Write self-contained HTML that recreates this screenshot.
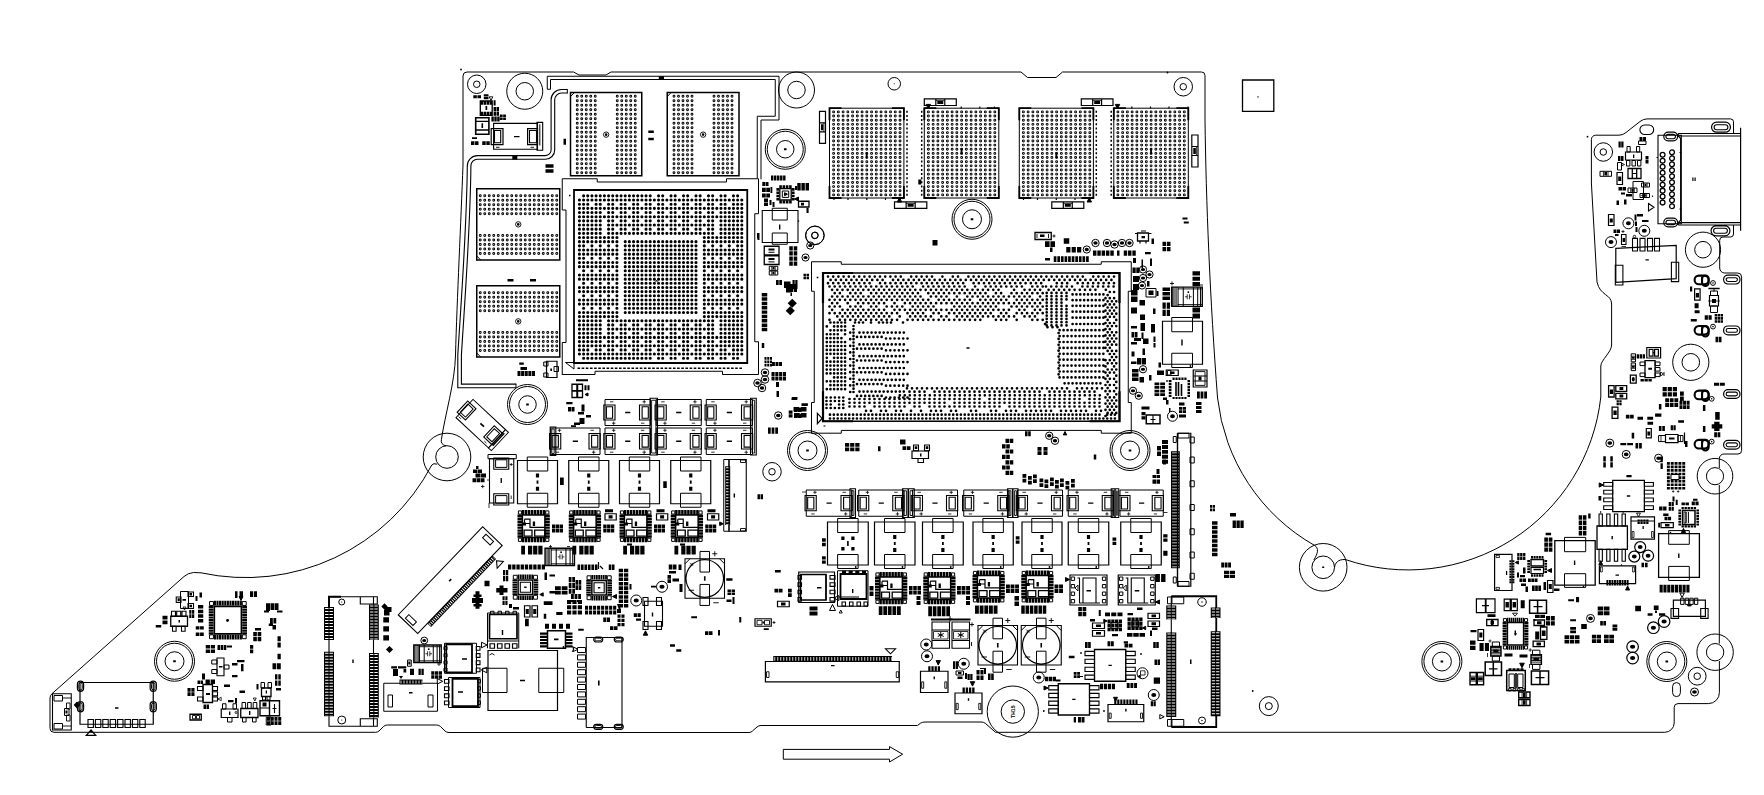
<!DOCTYPE html>
<html><head><meta charset="utf-8"><title>Board view</title>
<style>html,body{margin:0;padding:0;background:#fff;overflow:hidden}svg{display:block}</style>
</head><body>
<svg width="1764" height="795" viewBox="0 0 1764 795" font-family="Liberation Sans, sans-serif">
<path d="M567.3 91.25H561.5A8.6 8.6 0 0 0 552.9 99.85V150A7.4 7.4 0 0 1 545.5 157.4H477.5A8.4 8.4 0 0 0 469.1 165.8C468.5 230 463 300 459.6 355V385.9H516" fill="none" stroke="#000" stroke-width="4.7"/>
<path d="M567.3 91.25H561.5A8.6 8.6 0 0 0 552.9 99.85V150A7.4 7.4 0 0 1 545.5 157.4H477.5A8.4 8.4 0 0 0 469.1 165.8C468.5 230 463 300 459.6 355V385.9H516" fill="none" stroke="#fff" stroke-width="2.5"/>
<path d="M467 72H573.5L579 75H606L611 72H1021L1027.5 77.5H1056L1062.5 72H1201.5A3.5 3.5 0 0 1 1205 75.5V120C1206 200 1210 300 1217.56 398A193.9 193.9 0 0 0 1314.7 545.5M1345.3 559.5A193.9 193.9 0 0 0 1600.8 397V366C1601 360 1611.6 352 1611.6 345V304C1611.6 294 1600 296 1597 282L1591.4 183V139.5A4.3 4.3 0 0 1 1595.7 135.2H1619Q1623 135.2 1626 132.5L1640 121.5Q1643.5 118.9 1647 118.9H1730.5A3 3 0 0 1 1733.5 121.9V133M1733.5 225V234A3 3 0 0 1 1730.5 237H1723A3.3 3.3 0 0 0 1719.7 240.3V268A5 5 0 0 0 1724.7 273H1737.6A4 4 0 0 1 1741.6 277V450.5A3.5 3.5 0 0 1 1738 454H1724A4.7 4.7 0 0 0 1719.3 458.7V468M1719.3 485V643.5M1719.4 661V692.5A11 11 0 0 1 1708.4 703.6H1678A3.8 3.8 0 0 0 1674.2 707.4V723A9.5 9.5 0 0 1 1664.7 732.3H995.5M995.5 732.3L985.3 723.3Q983.5 722 981 722H925Q922.5 722 920.5 723.2L917.5 725.5H761Q758.75 725.5 757 727L752.5 731Q751 732.5 749 732.5H449Q446.5 732.5 445 731L440.5 726.5Q438.75 725 436.5 725H387.5Q385 725 383.5 726.5L379 731Q377.5 732.3 375.5 732.3H54A4 4 0 0 1 50 728.3V698Q50 695.5 52 693.7L184 576.5Q188 573 193.5 572.5L201 572.82A210.3 210.3 0 0 0 431.8 465M441.4 439.5C445 415 455 382 455.5 355C457 300 461 220 463 165V76A4 4 0 0 1 467 72M423.2 457a23.8 23.8 0 1 1 47.6 0a23.8 23.8 0 1 1 -47.6 0ZM435.7 457a11.3 11.3 0 1 1 22.6 0a11.3 11.3 0 1 1 -22.6 0ZM441.4 439.5Q440.3 444.5 446 445.8M437.2 464.2Q433.5 462.8 431.8 465M1299.4 567.3a23.8 23.8 0 1 1 47.6 0a23.8 23.8 0 1 1 -47.6 0ZM1311.9 567.3a11.3 11.3 0 1 1 22.6 0a11.3 11.3 0 1 1 -22.6 0ZM1314.7 545.5C1319 548 1318 553.5 1313.8 560M1334.5 567.6C1335 563 1338 559.2 1345.3 559.5M1697.2 476.2a17.8 17.8 0 1 1 35.6 0a17.8 17.8 0 1 1 -35.6 0ZM1706.4 476.2a8.6 8.6 0 1 1 17.2 0a8.6 8.6 0 1 1 -17.2 0ZM1696.9 652.2a18.2 18.2 0 1 1 36.4 0a18.2 18.2 0 1 1 -36.4 0ZM1706.4 652.2a8.7 8.7 0 1 1 17.4 0a8.7 8.7 0 1 1 -17.4 0ZM987.2 711.6a25.6 25.6 0 1 1 51.2 0a25.6 25.6 0 1 1 -51.2 0ZM1001.1 711.6a11.7 11.7 0 1 1 23.4 0a11.7 11.7 0 1 1 -23.4 0ZM783.3 749.4L889.5 749.4L889.5 746.6L902.6 754.2L889.5 762L889.5 759.2L783.3 759.2ZM467.5 84.25a9.25 9.25 0 1 1 18.5 0a9.25 9.25 0 1 1 -18.5 0ZM473.5 84.25a3.25 3.25 0 1 1 6.5 0a3.25 3.25 0 1 1 -6.5 0ZM1174 86.75a9.25 9.25 0 1 1 18.5 0a9.25 9.25 0 1 1 -18.5 0ZM1180 86.75a3.25 3.25 0 1 1 6.5 0a3.25 3.25 0 1 1 -6.5 0ZM805.75 235.25a9.25 9.25 0 1 1 18.5 0a9.25 9.25 0 1 1 -18.5 0ZM811.75 235.25a3.25 3.25 0 1 1 6.5 0a3.25 3.25 0 1 1 -6.5 0ZM506.75 91.25a18 18 0 1 1 36 0a18 18 0 1 1 -36 0ZM516 91.25a8.75 8.75 0 1 1 17.5 0a8.75 8.75 0 1 1 -17.5 0ZM778.5 90a18 18 0 1 1 36 0a18 18 0 1 1 -36 0ZM787.75 90a8.75 8.75 0 1 1 17.5 0a8.75 8.75 0 1 1 -17.5 0ZM765.25 149.25a20 20 0 1 1 40 0a20 20 0 1 1 -40 0ZM767.25 149.25a18 18 0 1 1 36 0a18 18 0 1 1 -36 0ZM776.5 149.25a8.75 8.75 0 1 1 17.5 0a8.75 8.75 0 1 1 -17.5 0ZM952 219.25a20 20 0 1 1 40 0a20 20 0 1 1 -40 0ZM954 219.25a18 18 0 1 1 36 0a18 18 0 1 1 -36 0ZM962.5 219.25a9.5 9.5 0 1 1 19 0a9.5 9.5 0 1 1 -19 0ZM507.5 404.5a20 20 0 1 1 40 0a20 20 0 1 1 -40 0ZM509.5 404.5a18 18 0 1 1 36 0a18 18 0 1 1 -36 0ZM518.75 404.5a8.75 8.75 0 1 1 17.5 0a8.75 8.75 0 1 1 -17.5 0ZM787.5 450.5a20 20 0 1 1 40 0a20 20 0 1 1 -40 0ZM789.5 450.5a18 18 0 1 1 36 0a18 18 0 1 1 -36 0ZM798 450.5a9.5 9.5 0 1 1 19 0a9.5 9.5 0 1 1 -19 0ZM1110 450.5a20 20 0 1 1 40 0a20 20 0 1 1 -40 0ZM1112 450.5a18 18 0 1 1 36 0a18 18 0 1 1 -36 0ZM1120.5 450.5a9.5 9.5 0 1 1 19 0a9.5 9.5 0 1 1 -19 0ZM154.5 661.25a20 20 0 1 1 40 0a20 20 0 1 1 -40 0ZM156.5 661.25a18 18 0 1 1 36 0a18 18 0 1 1 -36 0ZM165 661.25a9.5 9.5 0 1 1 19 0a9.5 9.5 0 1 1 -19 0ZM1421.9 661.5a20 20 0 1 1 40 0a20 20 0 1 1 -40 0ZM1423.9 661.5a18 18 0 1 1 36 0a18 18 0 1 1 -36 0ZM1432.4 661.5a9.5 9.5 0 1 1 19 0a9.5 9.5 0 1 1 -19 0ZM1646.8 661.5a20 20 0 1 1 40 0a20 20 0 1 1 -40 0ZM1648.8 661.5a18 18 0 1 1 36 0a18 18 0 1 1 -36 0ZM1657.3 661.5a9.5 9.5 0 1 1 19 0a9.5 9.5 0 1 1 -19 0ZM762.75 471.75a9.25 9.25 0 1 1 18.5 0a9.25 9.25 0 1 1 -18.5 0ZM768.75 471.75a3.25 3.25 0 1 1 6.5 0a3.25 3.25 0 1 1 -6.5 0ZM1259.3 706.1a9.5 9.5 0 1 1 19 0a9.5 9.5 0 1 1 -19 0ZM1265.3 706.1a3.5 3.5 0 1 1 7 0a3.5 3.5 0 1 1 -7 0ZM1594.05 152a9.25 9.25 0 1 1 18.5 0a9.25 9.25 0 1 1 -18.5 0ZM1600.05 152a3.25 3.25 0 1 1 6.5 0a3.25 3.25 0 1 1 -6.5 0ZM1688.3 676.2a8.9 8.9 0 1 1 17.8 0a8.9 8.9 0 1 1 -17.8 0ZM1693.9 676.2a3.3 3.3 0 1 1 6.6 0a3.3 3.3 0 1 1 -6.6 0ZM888 83.75a6.25 6.25 0 1 1 12.5 0a6.25 6.25 0 1 1 -12.5 0ZM1685.4 249.7a17.6 17.6 0 1 1 35.2 0a17.6 17.6 0 1 1 -35.2 0ZM1694.7 249.7a8.3 8.3 0 1 1 16.6 0a8.3 8.3 0 1 1 -16.6 0ZM1672.7 362.3a18.1 18.1 0 1 1 36.2 0a18.1 18.1 0 1 1 -36.2 0ZM1682 362.3a8.8 8.8 0 1 1 17.6 0a8.8 8.8 0 1 1 -17.6 0ZM1680.4 686.5V692.7a3.9 3.9 0 0 1 -7.8 0V686.5a3.9 3.9 0 0 1 7.8 0ZM547.25 89.25V76.25H779V120H761V179.3M547.25 89.25H550.5V79.5H775.25V116.25H757.25V178.3M567.3 89V93.6M516 383.6V388.2M829.5 108.2H903.9V198H829.5ZM924.3 108.2H998.8V198H924.3ZM1019.3 108.2H1093.4V198H1019.3ZM1113.8 108.2H1188.3V198H1113.8ZM570.5 96.5L574.5 92.5M667.25 96.5L671.25 92.5M476.75 256L480.75 260M476.75 353L480.75 357M562.25 375V342.5H566V210H562.25V178.75H597.25V182H726.5V178.75H758.5V213.75H754.75V341.75H758.5V374.5H722.5V371.25H595V374.5H562.25M565.5 362.5L574 362.5L574 369ZM811.5 433.2V402.5H814.25V291.25H811.5V261.75H841.25V264.25H1101.25V261.75H1131.25V291.25H1128.25V402.5H1131.25V433.2H1101.25V430.4H841.3V433.2H811.5M539.8 124.3V145.5M782.3 191H788.7V197.4H782.3ZM772.25 208.25H787.25V220H772.25ZM772.25 233H787.25V244.25H772.25ZM805.5 235.5a9.25 9.25 0 1 1 18.5 0a9.25 9.25 0 1 1 -18.5 0ZM811.5 235.5a3.25 3.25 0 1 1 6.5 0a3.25 3.25 0 1 1 -6.5 0ZM806.65 245.5a3.6 3.6 0 1 1 7.2 0a3.6 3.6 0 1 1 -7.2 0ZM801.9 257.5a3.6 3.6 0 1 1 7.2 0a3.6 3.6 0 1 1 -7.2 0ZM768.5 252.25h6M768.5 261.9h6M769.25 266.3H777.75V270.3H769.25ZM769.25 271H777.75V275H769.25ZM543.75 362H548V366H543.75ZM543.75 373H548V377H543.75ZM554 366.5H558.5V371.5H554ZM761.25 372.5a3.75 3.75 0 1 1 7.5 0a3.75 3.75 0 1 1 -7.5 0ZM761.25 379.5a3.75 3.75 0 1 1 7.5 0a3.75 3.75 0 1 1 -7.5 0ZM753.75 383a3.75 3.75 0 1 1 7.5 0a3.75 3.75 0 1 1 -7.5 0ZM758.25 388a3.75 3.75 0 1 1 7.5 0a3.75 3.75 0 1 1 -7.5 0ZM605 399.5H650.5V425.5H605ZM656.25 399.5H701.25V425.5H656.25ZM706.25 399.5H752.5V425.5H706.25ZM550.75 428H600V454.5H550.75ZM605 428H650.5V454.5H605ZM656.25 428H701.25V454.5H656.25ZM706.25 428H752.5V454.5H706.25ZM527.25 457H547.75V471H527.25ZM527.25 493.25H547.75V507.25H527.25ZM518.4 510.9H521.6V514.1H518.4ZM545.7 510.9H548.9V514.1H545.7ZM518.4 538.2H521.6V541.4H518.4ZM545.7 538.2H548.9V541.4H545.7ZM578.5 457H599V471H578.5ZM578.5 493.25H599V507.25H578.5ZM569.65 510.9H572.85V514.1H569.65ZM596.95 510.9H600.15V514.1H596.95ZM569.65 538.2H572.85V541.4H569.65ZM596.95 538.2H600.15V541.4H596.95ZM629.25 457H649.75V471H629.25ZM629.25 493.25H649.75V507.25H629.25ZM620.4 510.9H623.6V514.1H620.4ZM647.7 510.9H650.9V514.1H647.7ZM620.4 538.2H623.6V541.4H620.4ZM647.7 538.2H650.9V541.4H647.7ZM680.5 457H701V471H680.5ZM680.5 493.25H701V507.25H680.5ZM671.65 510.9H674.85V514.1H671.65ZM698.95 510.9H702.15V514.1H698.95ZM671.65 538.2H674.85V541.4H671.65ZM698.95 538.2H702.15V541.4H698.95ZM488 454.5H516.25V458.75H488ZM495.6 459.8H506.9V467.4H495.6ZM495.6 495.6H506.9V503.2H495.6ZM723.75 459.5V531.25M723.75 459.5H729M723.75 531.25H729M774.5 415.5a3.75 3.75 0 1 1 7.5 0a3.75 3.75 0 1 1 -7.5 0ZM1083.15 249.5a3.6 3.6 0 1 1 7.2 0a3.6 3.6 0 1 1 -7.2 0ZM1091.8 243a3.7 3.7 0 1 1 7.4 0a3.7 3.7 0 1 1 -7.4 0ZM1103.3 243a3.7 3.7 0 1 1 7.4 0a3.7 3.7 0 1 1 -7.4 0ZM1110.8 244.5a3.7 3.7 0 1 1 7.4 0a3.7 3.7 0 1 1 -7.4 0ZM1118.3 243a3.7 3.7 0 1 1 7.4 0a3.7 3.7 0 1 1 -7.4 0ZM1125.8 243a3.7 3.7 0 1 1 7.4 0a3.7 3.7 0 1 1 -7.4 0ZM1139.4 269.5a3.6 3.6 0 1 1 7.2 0a3.6 3.6 0 1 1 -7.2 0ZM1145.9 274.5a3.6 3.6 0 1 1 7.2 0a3.6 3.6 0 1 1 -7.2 0ZM1139.4 278a3.6 3.6 0 1 1 7.2 0a3.6 3.6 0 1 1 -7.2 0ZM1138.4 285.5a3.6 3.6 0 1 1 7.2 0a3.6 3.6 0 1 1 -7.2 0ZM1178.05 287.2V306.3M1183.27 287.2V306.3M1193.4 287.2V306.3M1197.69 287.2V306.3M1200.46 287.2V306.3M1146 288.5H1156V297H1146ZM1139.4 369.25a3.6 3.6 0 1 1 7.2 0a3.6 3.6 0 1 1 -7.2 0ZM1171.75 317.5H1192.5V331.75H1171.75ZM1171.75 353.25H1192.5V367.5H1171.75ZM1129.4 390.75a3.6 3.6 0 1 1 7.2 0a3.6 3.6 0 1 1 -7.2 0ZM1135.15 395.75a3.6 3.6 0 1 1 7.2 0a3.6 3.6 0 1 1 -7.2 0ZM1167.5 416.25a5 5 0 1 1 10 0a5 5 0 1 1 -10 0ZM1045.55 435.75a3.7 3.7 0 1 1 7.4 0a3.7 3.7 0 1 1 -7.4 0ZM1051.3 440.75a3.7 3.7 0 1 1 7.4 0a3.7 3.7 0 1 1 -7.4 0ZM806.25 490H852V516.25H806.25ZM858.75 490H903.75V516.25H858.75ZM912.5 490H957.5V516.25H912.5ZM963.75 490H1008.75V516.25H963.75ZM1017.5 490H1062.5V516.25H1017.5ZM1068.25 490H1113.25V516.25H1068.25ZM1120 490H1163.25V516.25H1120ZM837.62 518.5H858.12V532.5H837.62ZM837.62 554.5H858.12V568.5H837.62ZM884.5 518.5H905V532.5H884.5ZM884.5 554.5H905V568.5H884.5ZM932.62 518.5H953.12V532.5H932.62ZM932.62 554.5H953.12V568.5H932.62ZM982.88 518.5H1003.38V532.5H982.88ZM982.88 554.5H1003.38V568.5H982.88ZM1031.75 518.5H1052.25V532.5H1031.75ZM1031.75 554.5H1052.25V568.5H1031.75ZM1078.25 518.5H1098.75V532.5H1078.25ZM1078.25 554.5H1098.75V568.5H1078.25ZM1130.75 518.5H1151.25V532.5H1130.75ZM1130.75 554.5H1151.25V568.5H1130.75ZM826 574.5V600M837.5 570.75H868V606.25H837.5ZM838.8 595.5L838.8 600.5L833.8 598ZM839 597h20M829.5 610.5L832.5 604.5L835.5 610.5ZM875.9 572.9H879.1V576.1H875.9ZM903.2 572.9H906.4V576.1H903.2ZM875.9 600.2H879.1V603.4H875.9ZM903.2 600.2H906.4V603.4H903.2ZM924.15 572.9H927.35V576.1H924.15ZM951.45 572.9H954.65V576.1H951.45ZM924.15 600.2H927.35V603.4H924.15ZM951.45 600.2H954.65V603.4H951.45ZM973.4 571.4H976.6V574.6H973.4ZM1000.7 571.4H1003.9V574.6H1000.7ZM973.4 598.7H976.6V601.9H973.4ZM1000.7 598.7H1003.9V601.9H1000.7ZM1022.15 571.4H1025.35V574.6H1022.15ZM1049.45 571.4H1052.65V574.6H1049.45ZM1022.15 598.7H1025.35V601.9H1022.15ZM1049.45 598.7H1052.65V601.9H1049.45ZM1071.2 577H1074.6V580.4H1071.2ZM1102.4 577H1105.8V580.4H1102.4ZM1071.2 584.5H1074.6V587.9H1071.2ZM1102.4 584.5H1105.8V587.9H1102.4ZM1071.2 592H1074.6V595.4H1071.2ZM1102.4 592H1105.8V595.4H1102.4ZM1071.2 599.5H1074.6V602.9H1071.2ZM1102.4 599.5H1105.8V602.9H1102.4ZM1119.45 577H1122.85V580.4H1119.45ZM1150.65 577H1154.05V580.4H1150.65ZM1119.45 584.5H1122.85V587.9H1119.45ZM1150.65 584.5H1154.05V587.9H1150.65ZM1119.45 592H1122.85V595.4H1119.45ZM1150.65 592H1154.05V595.4H1150.65ZM1119.45 599.5H1122.85V602.9H1119.45ZM1150.65 599.5H1154.05V602.9H1150.65ZM1190 437H1194.25V443H1190ZM1190 457H1194.25V463H1190ZM1190 480.75H1194.25V486.75H1190ZM1190 504.5H1194.25V510.5H1190ZM1190 528.75H1194.25V534.75H1190ZM1190 552H1194.25V558H1190ZM1190 573.25H1194.25V579.25H1190ZM1173.25 436.5H1176.25V442.5H1173.25ZM1173.25 577H1176.25V583H1173.25ZM1178 433.25H1189V438H1178ZM1178 581.5H1189V586.25H1178ZM338.75 602a3 3 0 1 1 6 0a3 3 0 1 1 -6 0ZM337.75 720a4 4 0 1 1 8 0a4 4 0 1 1 -8 0ZM209.55 601.55H213.45V605.45H209.55ZM242.3 601.55H246.2V605.45H242.3ZM209.55 634.8H213.45V638.7H209.55ZM242.3 634.8H246.2V638.7H242.3ZM180.5 591.5H188.5V608.5H180.5ZM211.75 660H217V664H211.75ZM211.75 669.5H217V673.5H211.75ZM224 665H229V669H224ZM222.5 703.75H226V709H222.5ZM233 703.75H236.5V709H233ZM227.5 717.5H232V722H227.5ZM242 702.5H245.6V708.5H242ZM247.6 702.5H251.2V708.5H247.6ZM253.2 702.5H256.8V708.5H253.2ZM242.5 717.5H246.1V722H242.5ZM252.5 717.5H256.1V722H252.5ZM261 682.5H264.5V688H261ZM268 682.5H271.5V688H268ZM262.5 696.5H265.5V700H262.5ZM267 696.5H270V700H267ZM266.25 717H271V725H266.25ZM82.2 684.25V688.25a1.7 1.7 0 0 1 -3.4 0V684.25a1.7 1.7 0 0 1 3.4 0ZM154.95 684.25V688.25a1.7 1.7 0 0 1 -3.4 0V684.25a1.7 1.7 0 0 1 3.4 0ZM82.2 704.75V708.75a1.7 1.7 0 0 1 -3.4 0V704.75a1.7 1.7 0 0 1 3.4 0ZM154.95 704.75V708.75a1.7 1.7 0 0 1 -3.4 0V704.75a1.7 1.7 0 0 1 3.4 0ZM54 695.5H62.5V701H54ZM54 723.5H62.5V729H54ZM64.5 708.5H69V715.5H64.5ZM420.85 640.5a3.4 3.4 0 1 1 6.8 0a3.4 3.4 0 1 1 -6.8 0ZM419.52 645V662.5M424.2 645V662.5M433.27 645V662.5M437.12 645V662.5M439.6 645V662.5M407.5 660H411.25V666.25H407.5ZM437.3 678.6L442.7 681.3L437.3 684ZM383.75 683.25H437.5V711.25H383.75ZM388 695H392.5V707H388ZM428 695H433V707H428ZM444.5 643.25H476.5V673.25H444.5ZM444 646.5H447V649.9H444ZM444 653.6H447V657H444ZM444 660.8H447V664.2H444ZM444 668H447V671.4H444ZM448.5 677.5H480V707.5H448.5ZM477.5 679.5H480.5V682.9H477.5ZM477.5 686.7H480.5V690.1H477.5ZM477.5 693.9H480.5V697.3H477.5ZM477.5 701H480.5V704.4H477.5ZM481.5 642.2L487.1 645L481.5 647.8ZM486.8 667.2L486.8 672.8L481.2 670ZM482.5 668.25H507V692.5H482.5ZM538.75 668.25H563.75V692.5H538.75ZM487.5 613H518.75V641H487.5ZM490.5 611.25H494V614.5H490.5ZM498 611.25H501.5V614.5H498ZM505.5 611.25H509V614.5H505.5ZM513 611.25H516.5V614.5H513ZM487.5 641V648.25M518.75 641V648.25M513.3 575.3H517.2V579.2H513.3ZM533.55 575.3H537.45V579.2H533.55ZM513.3 595.3H517.2V599.2H513.3ZM533.55 595.3H537.45V599.2H533.55ZM587.05 575.8H590.95V579.7H587.05ZM607.3 575.8H611.2V579.7H607.3ZM587.05 595.8H590.95V599.7H587.05ZM607.3 595.8H611.2V599.7H607.3ZM551.2 548.25V565.5M556.21 548.25V565.5M565.95 548.25V565.5M570.08 548.25V565.5M572.73 548.25V565.5M630.75 600.5a5.5 5.5 0 1 1 11 0a5.5 5.5 0 1 1 -11 0ZM656.5 586.75a5.5 5.5 0 1 1 11 0a5.5 5.5 0 1 1 -11 0ZM685 563.75L690 558.75M719.5 558.75L724.5 563.75M700 551.45H709.5V572.05H700ZM700 584.45H709.5V605.45H700ZM577.5 647.5H585.5V652.5H577.5ZM577.5 654.9H585.5V659.9H577.5ZM577.5 662.3H585.5V667.3H577.5ZM577.5 669.7H585.5V674.7H577.5ZM577.5 677.1H585.5V682.1H577.5ZM577.5 684.5H585.5V689.5H577.5ZM577.5 691.9H585.5V696.9H577.5ZM577.5 699.3H585.5V704.3H577.5ZM577.5 706.7H585.5V711.7H577.5ZM577.5 714.1H585.5V719.1H577.5ZM573.3 646.95L577.9 649.25L573.3 651.55ZM932 630H949.5M932 640.5H949.5M940.75 632v6m-3 -4.5l6 3m0 -3l-6 3M952 630H969.5M952 640.5H969.5M960.75 632v6m-3 -4.5l6 3m0 -3l-6 3M920.75 644.5a5.5 5.5 0 1 1 11 0a5.5 5.5 0 1 1 -11 0ZM921.5 656.25a5.5 5.5 0 1 1 11 0a5.5 5.5 0 1 1 -11 0ZM958.25 663.75a5.5 5.5 0 1 1 11 0a5.5 5.5 0 1 1 -11 0ZM1033.25 677.5a5.5 5.5 0 1 1 11 0a5.5 5.5 0 1 1 -11 0ZM1148.25 695a5.5 5.5 0 1 1 11 0a5.5 5.5 0 1 1 -11 0ZM1137 673.25a5.5 5.5 0 1 1 11 0a5.5 5.5 0 1 1 -11 0ZM956 671H963.5V675H956ZM980 668.5h5M978 630.5L983 625.5M1012.5 625.5L1017.5 630.5M993 618.2H1002.5V638.8H993ZM993 651.2H1002.5V672.2H993ZM1021.25 630.5L1026.25 625.5M1056.25 625.5L1061.25 630.5M1036.5 618.2H1046V638.8H1036.5ZM1036.5 651.2H1046V672.2H1036.5ZM1078 676.5h5M1197.75 602a4.25 4.25 0 1 1 8.5 0a4.25 4.25 0 1 1 -8.5 0ZM1198.5 720.5a3.5 3.5 0 1 1 7 0a3.5 3.5 0 1 1 -7 0ZM1167.5 597H1183.75V603.75H1167.5ZM1167.5 719.5H1183.75V726.25H1167.5ZM1159.8 714.55L1164.2 716.75L1159.8 718.95ZM1656.5 157.5h1.5M1679.5 152.5h1.8M1679.5 209h1.8M1638.5 141H1646V144.5H1638.5ZM1627 146.5H1630.2V152H1627ZM1636.5 146.5H1639.7V152H1636.5ZM1626.5 160.5H1629.9V166H1626.5ZM1632 160.5H1635.4V166H1632ZM1637.5 160.5H1640.9V166H1637.5ZM1617.5 162.5H1621.5V170H1617.5ZM1600 171.3H1611.5V176.3H1600ZM1633 181.5H1643.5V199.5H1633ZM1641.5 183H1649.5V187H1641.5ZM1628 188H1637V192.5H1628ZM1640 193.5H1649.5V197.5H1640ZM1622.9 223.3a5.5 5.5 0 1 1 11 0a5.5 5.5 0 1 1 -11 0ZM1638.8 230.8a5.5 5.5 0 1 1 11 0a5.5 5.5 0 1 1 -11 0ZM1605.5 242.1a5.5 5.5 0 1 1 11 0a5.5 5.5 0 1 1 -11 0ZM1710.6 283a2.4 2.4 0 1 1 4.8 0a2.4 2.4 0 1 1 -4.8 0ZM1710.6 326.6a2.4 2.4 0 1 1 4.8 0a2.4 2.4 0 1 1 -4.8 0ZM1709.3 398.8a2.4 2.4 0 1 1 4.8 0a2.4 2.4 0 1 1 -4.8 0ZM1709.3 441.6a2.4 2.4 0 1 1 4.8 0a2.4 2.4 0 1 1 -4.8 0ZM1710.5 291H1717.5V295.5H1710.5ZM1710.5 306H1717.5V312.5H1710.5ZM1714 288.5v3M1640 362H1645V365.6H1640ZM1640 373H1645V376.6H1640ZM1655.1 362H1660V365.6H1655.1ZM1655.1 367.5H1660V371.1H1655.1ZM1655.1 373H1660V376.6H1655.1ZM1631.2 353.8H1635.5V361.8H1631.2ZM1631.2 363H1635.5V370.6H1631.2ZM1658.6 435.5H1665.5V441.6H1658.6ZM1678 435.5H1683V441.6H1678ZM1605.8 443.1a4 4 0 1 1 8 0a4 4 0 1 1 -8 0ZM1622.2 454.4a4 4 0 1 1 8 0a4 4 0 1 1 -8 0ZM1654.6 458.2a4 4 0 1 1 8 0a4 4 0 1 1 -8 0ZM1631 521H1654.5M1668.7 530.6H1689.3V544.3H1668.7ZM1668.7 566.4H1689.3V580.5H1668.7ZM1564.5 537.4H1585.7V551.7H1564.5ZM1564.5 573.7H1585.7V587.4H1564.5ZM1686 512v11M1688.4 512v11M1503.4 618.6H1506.5V621.7H1503.4ZM1524.5 618.6H1527.6V621.7H1524.5ZM1503.4 645.9H1506.5V649H1503.4ZM1524.5 645.9H1527.6V649H1524.5ZM1492.3 642H1499.5V646.5H1492.3ZM1492.3 656H1499.5V661H1492.3ZM1532.5 650.2H1539.9V654.7H1532.5ZM1532.5 664.4H1539.9V669.4H1532.5ZM1509 674H1514.3V687.5H1509ZM1517.7 674H1523V687.5H1517.7ZM1586.5 618.4a4 4 0 1 1 8 0a4 4 0 1 1 -8 0ZM1690.5 692a4 4 0 1 1 8 0a4 4 0 1 1 -8 0ZM1680.6 598.2H1684V604.4H1680.6ZM1685.2 598.2H1688.6V604.4H1685.2ZM1689.8 598.2H1693.2V604.4H1689.8ZM1694.4 598.2H1697.8V604.4H1694.4ZM1679.9 593.1L1684.3 593.1L1682.1 597.5Z" fill="none" stroke="#000" stroke-width="1"/>
<path d="M1322.2 566.6H1324.2V568H1322.2ZM460.1 69.5a0.9 0.9 0 1 1 1.8 0a0.9 0.9 0 1 1 -1.8 0ZM1166.6 72.5a0.9 0.9 0 1 1 1.8 0a0.9 0.9 0 1 1 -1.8 0ZM1586.6 136.7a0.9 0.9 0 1 1 1.8 0a0.9 0.9 0 1 1 -1.8 0ZM1251.8 691a0.9 0.9 0 1 1 1.8 0a0.9 0.9 0 1 1 -1.8 0ZM1257.4 96.2H1258.6V97.4H1257.4ZM783.95 148.35H786.55V150.15H783.95ZM970.7 218.35H973.3V220.15H970.7ZM526.2 403.6H528.8V405.4H526.2ZM806.2 449.6H808.8V451.4H806.2ZM1128.7 449.6H1131.3V451.4H1128.7ZM173.2 660.35H175.8V662.15H173.2ZM1440.6 660.6H1443.2V662.4H1440.6ZM1665.5 660.6H1668.1V662.4H1665.5ZM893.8 83.3H894.7V84.2H893.8ZM658.8 76.3H664V79.5H658.8ZM512.3 155.2H517.3V159.6H512.3ZM937.32 101H943.28V104H937.32ZM1094.21 101H1100.09V104H1094.21ZM907.63 204H913.67V206.8H907.63ZM1064.82 204H1070.78V206.8H1064.82ZM821 124.32H823.3V130.28H821ZM1193.3 148.02H1195.8V153.98H1193.3ZM918.3 179.5H921.3V184.5H918.3ZM604.83 134.62a1.3 1.3 0 1 1 2.6 0a1.3 1.3 0 1 1 -2.6 0ZM701.83 134.62a1.3 1.3 0 1 1 2.6 0a1.3 1.3 0 1 1 -2.6 0ZM516.95 224.38a1.3 1.3 0 1 1 2.6 0a1.3 1.3 0 1 1 -2.6 0ZM516.95 321.38a1.3 1.3 0 1 1 2.6 0a1.3 1.3 0 1 1 -2.6 0ZM648.3 130.5H653.8V133H648.3ZM648.3 137.8H653.8V140.3H648.3ZM563.5 138.7H566V144.7H563.5ZM507.5 279H513.5V281.5H507.5ZM530 279H536V281.5H530ZM545.5 164.2H553.5V167.7H545.5ZM545.5 169.2H553.5V172.7H545.5ZM569 194.8H570.5V196.3H569ZM1182.5 217.5H1187.5V219.5H1182.5ZM1183.75 221.5H1188.75V223.5H1183.75ZM816.7 276.7H818.3V278.3H816.7ZM966.5 347.2H969.5V348.8H966.5ZM823.5 425.6H825.5V426.4H823.5ZM473.3 95.3H476.85V98.3H473.3ZM477.45 95.3H481V98.3H477.45ZM483.8 94.3H488.5V96.55H483.8ZM483.8 97.05H488.5V99.3H483.8ZM480.5 101H483V104.8H480.5ZM483.5 101H486V104.8H483.5ZM486.5 101H489V104.8H486.5ZM489.5 101H492V104.8H489.5ZM480.5 111.8H483V115.4H480.5ZM483.5 111.8H486V115.4H483.5ZM486.5 111.8H489V115.4H486.5ZM489.5 111.8H492V115.4H489.5ZM485.5 106H487.2V110H485.5ZM493.6 100.3H495.6V105.6H493.6ZM493.6 107H496.05V111.15H493.6ZM493.6 111.65H496.05V115.8H493.6ZM496.55 107H499V111.15H496.55ZM496.55 111.65H499V115.8H496.55ZM491.4 116.6H493.8V121.5H491.4ZM494.3 116.6H496.7V121.5H494.3ZM497.2 116.6H499.6V121.5H497.2ZM499.9 114.6H502.65V117.05H499.9ZM499.9 117.55H502.65V120H499.9ZM503.15 114.6H505.9V117.05H503.15ZM503.15 117.55H505.9V120H503.15ZM481.5 123.3H483.1V128H481.5ZM514 135.9H519.5V137.3H514ZM471 141.25H474.45V145H471ZM475.05 141.25H478.5V145H475.05ZM482.25 141.25H485.7V145H482.25ZM486.3 141.25H489.75V145H486.3ZM472 137.3H477V139H472ZM771 175.5H773.42V180.5H771ZM774.02 175.5H776.44V180.5H774.02ZM777.04 175.5H779.46V180.5H777.04ZM780.06 175.5H782.48V180.5H780.06ZM783.08 175.5H785.5V180.5H783.08ZM779.3 185.2H781.88V188H779.3ZM782.57 185.2H785.15V188H782.57ZM785.85 185.2H788.43V188H785.85ZM789.12 185.2H791.7V188H789.12ZM779.3 200.6H781.88V203.4H779.3ZM782.57 200.6H785.15V203.4H782.57ZM785.85 200.6H788.43V203.4H785.85ZM789.12 200.6H791.7V203.4H789.12ZM776.4 188.1H779.2V190.67H776.4ZM776.4 191.38H779.2V193.95H776.4ZM776.4 194.65H779.2V197.22H776.4ZM776.4 197.93H779.2V200.5H776.4ZM791.8 188.1H794.6V190.67H791.8ZM791.8 191.38H794.6V193.95H791.8ZM791.8 194.65H794.6V197.22H791.8ZM791.8 197.93H794.6V200.5H791.8ZM784.3 193.6H786.7V195H784.3ZM762.3 182H765.15V186H762.3ZM765.65 182H768.5V186H765.65ZM762 187.8H765.75V192H762ZM766.25 187.8H770V192H766.25ZM770.5 187H772.3V193H770.5ZM762 193.5H765.75V197.5H762ZM766.25 193.5H770V197.5H766.25ZM764 198.5H768V201.95H764ZM764 202.55H768V206H764ZM769.5 200H771.5V205H769.5ZM772.5 202H774.5V207H772.5ZM797.25 183H800.7V190.5H797.25ZM801.4 183H804.85V190.5H801.4ZM805.55 183H809V190.5H805.55ZM795 186H797V190H795ZM801 202.8H804V205.5H801ZM806.5 208H808.6V213H806.5ZM779 224.5H780.4V229.5H779ZM797.7 221a0.8 0.8 0 1 1 1.6 0a0.8 0.8 0 1 1 -1.6 0ZM757 233H759.5V238.5H757ZM808.09 245.5a2.16 1.62 0 1 1 4.32 0a2.16 1.62 0 1 1 -4.32 0ZM803.34 257.5a2.16 1.62 0 1 1 4.32 0a2.16 1.62 0 1 1 -4.32 0ZM768.5 248.45H774.5V250.45H768.5ZM768.5 258.1H774.5V260.1H768.5ZM789.25 246.25H792.8V250.45H789.25ZM789.25 251.35H792.8V255.55H789.25ZM789.25 256.45H792.8V260.65H789.25ZM789.25 261.55H792.8V265.75H789.25ZM793.7 246.25H797.25V250.45H793.7ZM793.7 251.35H797.25V255.55H793.7ZM793.7 256.45H797.25V260.65H793.7ZM793.7 261.55H797.25V265.75H793.7ZM772.48 267.1H774.52V269.5H772.48ZM772.48 271.8H774.52V274.2H772.48ZM757.5 235.5H759.5V240H757.5ZM776 280H778.7V285H776ZM779.3 280H782V285H779.3ZM784 281.5H790.5V288H784ZM786 288H790.5V292.5H786ZM792.5 280H794.7V289H792.5ZM795.3 280H797.5V289H795.3ZM803.5 273.75H805.95V276.2H803.5ZM803.5 276.8H805.95V279.25H803.5ZM806.55 273.75H809V276.2H806.55ZM806.55 276.8H809V279.25H806.55ZM787.65 303.25L792.25 298.65L796.85 303.25L792.25 307.85ZM785.65 310.75L790.25 306.15L794.85 310.75L790.25 315.35ZM761.75 293H767.25V296.45H761.75ZM761.75 297.35H767.25V300.8H761.75ZM761.75 301.7H767.25V305.15H761.75ZM761.75 306.05H767.25V309.5H761.75ZM761.75 310.4H767.25V313.85H761.75ZM761.75 314.75H767.25V318.2H761.75ZM761.75 319.1H767.25V322.55H761.75ZM761.75 323.45H767.25V326.9H761.75ZM761.75 327.8H767.25V331.25H761.75ZM761.75 343H764.25V348H761.75ZM764.5 357H766.53V359.7H764.5ZM764.5 360.4H766.53V363.1H764.5ZM764.5 363.8H766.53V366.5H764.5ZM767.23 357H769.27V359.7H767.23ZM767.23 360.4H769.27V363.1H767.23ZM767.23 363.8H769.27V366.5H767.23ZM769.97 357H772V359.7H769.97ZM769.97 360.4H772V363.1H769.97ZM769.97 363.8H772V366.5H769.97ZM550.3 368.5H552V371H550.3ZM517.5 371H520.52V376H517.5ZM521.12 371H524.14V376H521.12ZM524.74 371H527.76V376H524.74ZM528.36 371H531.38V376H528.36ZM531.98 371H535V376H531.98ZM519.25 362.5H523.75V364.8H519.25ZM520.5 367H527V370H520.5ZM762.75 372.5a2.25 1.69 0 1 1 4.5 0a2.25 1.69 0 1 1 -4.5 0ZM762.75 379.5a2.25 1.69 0 1 1 4.5 0a2.25 1.69 0 1 1 -4.5 0ZM755.25 383a2.25 1.69 0 1 1 4.5 0a2.25 1.69 0 1 1 -4.5 0ZM759.75 388a2.25 1.69 0 1 1 4.5 0a2.25 1.69 0 1 1 -4.5 0ZM772 362H774.93V366H772ZM775.53 362H778.47V366H775.53ZM779.07 362H782V366H779.07ZM771.5 372H774.6V375.9H771.5ZM771.5 376.6H774.6V380.5H771.5ZM775.3 372H778.4V375.9H775.3ZM775.3 376.6H778.4V380.5H775.3ZM779.1 372H782.2V375.9H779.1ZM779.1 376.6H782.2V380.5H779.1ZM782.9 372H786V375.9H782.9ZM782.9 376.6H786V380.5H782.9ZM776 382H779V387H776ZM776.5 391H779V397H776.5ZM576 379.3H588V381.3H576ZM584.5 385.3H586.5V390.3H584.5ZM587.5 385.3H589.5V390.3H587.5ZM566.25 402H572.5V404.3H566.25ZM568 407H571V411.5H568ZM571.5 407H574.5V411.5H571.5ZM581.5 404.5H584.5V411.5H581.5ZM578 412H584V414.5H578ZM586 415H591V417.5H586ZM579.5 418H584.5V424H579.5ZM574 422.5H580V425H574ZM571 425.3H576V427H571ZM625.15 411.8H630.35V413.2H625.15ZM676.15 411.8H681.35V413.2H676.15ZM726.77 411.8H731.98V413.2H726.77ZM572.77 440.55H577.98V441.95H572.77ZM625.15 440.55H630.35V441.95H625.15ZM676.15 440.55H681.35V441.95H676.15ZM726.77 440.55H731.98V441.95H726.77ZM535.9 473.52H539.1V477.52H535.9ZM536.6 480.52H538.4V483.73H536.6ZM535.9 486.73H539.1V490.73H535.9ZM521.9 510H524.36V514.9H521.9ZM524.91 510H527.36V514.9H524.91ZM527.91 510H530.37V514.9H527.91ZM530.92 510H533.37V514.9H530.92ZM533.92 510H536.38V514.9H533.92ZM536.93 510H539.39V514.9H536.93ZM539.94 510H542.39V514.9H539.94ZM542.94 510H545.4V514.9H542.94ZM521.9 537.4H524.36V542.3H521.9ZM524.91 537.4H527.36V542.3H524.91ZM527.91 537.4H530.37V542.3H527.91ZM530.92 537.4H533.37V542.3H530.92ZM533.92 537.4H536.38V542.3H533.92ZM536.93 537.4H539.39V542.3H536.93ZM539.94 537.4H542.39V542.3H539.94ZM542.94 537.4H545.4V542.3H542.94ZM517.5 514.6H522.4V517.01H517.5ZM517.5 517.56H522.4V519.96H517.5ZM517.5 520.51H522.4V522.92H517.5ZM517.5 523.47H522.4V525.88H517.5ZM517.5 526.42H522.4V528.83H517.5ZM517.5 529.38H522.4V531.79H517.5ZM517.5 532.34H522.4V534.74H517.5ZM517.5 535.29H522.4V537.7H517.5ZM544.9 514.6H549.8V517.01H544.9ZM544.9 517.56H549.8V519.96H544.9ZM544.9 520.51H549.8V522.92H544.9ZM544.9 523.47H549.8V525.88H544.9ZM544.9 526.42H549.8V528.83H544.9ZM544.9 529.38H549.8V531.79H544.9ZM544.9 532.34H549.8V534.74H544.9ZM544.9 535.29H549.8V537.7H544.9ZM522.4 522.5H526V525.5H522.4ZM532.8 521.5H535.1V526H532.8ZM552 524.5H555.33V528.25H552ZM552 528.75H555.33V532.5H552ZM555.83 524.5H559.17V528.25H555.83ZM555.83 528.75H559.17V532.5H555.83ZM559.67 524.5H563V528.25H559.67ZM559.67 528.75H563V532.5H559.67ZM587.15 473.52H590.35V477.52H587.15ZM587.85 480.52H589.65V483.73H587.85ZM587.15 486.73H590.35V490.73H587.15ZM573.15 510H575.61V514.9H573.15ZM576.16 510H578.61V514.9H576.16ZM579.16 510H581.62V514.9H579.16ZM582.17 510H584.62V514.9H582.17ZM585.17 510H587.63V514.9H585.17ZM588.18 510H590.64V514.9H588.18ZM591.19 510H593.64V514.9H591.19ZM594.19 510H596.65V514.9H594.19ZM573.15 537.4H575.61V542.3H573.15ZM576.16 537.4H578.61V542.3H576.16ZM579.16 537.4H581.62V542.3H579.16ZM582.17 537.4H584.62V542.3H582.17ZM585.17 537.4H587.63V542.3H585.17ZM588.18 537.4H590.64V542.3H588.18ZM591.19 537.4H593.64V542.3H591.19ZM594.19 537.4H596.65V542.3H594.19ZM568.75 514.6H573.65V517.01H568.75ZM568.75 517.56H573.65V519.96H568.75ZM568.75 520.51H573.65V522.92H568.75ZM568.75 523.47H573.65V525.88H568.75ZM568.75 526.42H573.65V528.83H568.75ZM568.75 529.38H573.65V531.79H568.75ZM568.75 532.34H573.65V534.74H568.75ZM568.75 535.29H573.65V537.7H568.75ZM596.15 514.6H601.05V517.01H596.15ZM596.15 517.56H601.05V519.96H596.15ZM596.15 520.51H601.05V522.92H596.15ZM596.15 523.47H601.05V525.88H596.15ZM596.15 526.42H601.05V528.83H596.15ZM596.15 529.38H601.05V531.79H596.15ZM596.15 532.34H601.05V534.74H596.15ZM596.15 535.29H601.05V537.7H596.15ZM573.65 522.5H577.25V525.5H573.65ZM584.05 521.5H586.35V526H584.05ZM603.25 524.5H606.58V528.25H603.25ZM603.25 528.75H606.58V532.5H603.25ZM607.08 524.5H610.42V528.25H607.08ZM607.08 528.75H610.42V532.5H607.08ZM610.92 524.5H614.25V528.25H610.92ZM610.92 528.75H614.25V532.5H610.92ZM637.9 473.52H641.1V477.52H637.9ZM638.6 480.52H640.4V483.73H638.6ZM637.9 486.73H641.1V490.73H637.9ZM623.9 510H626.36V514.9H623.9ZM626.91 510H629.36V514.9H626.91ZM629.91 510H632.37V514.9H629.91ZM632.92 510H635.37V514.9H632.92ZM635.92 510H638.38V514.9H635.92ZM638.93 510H641.39V514.9H638.93ZM641.94 510H644.39V514.9H641.94ZM644.94 510H647.4V514.9H644.94ZM623.9 537.4H626.36V542.3H623.9ZM626.91 537.4H629.36V542.3H626.91ZM629.91 537.4H632.37V542.3H629.91ZM632.92 537.4H635.37V542.3H632.92ZM635.92 537.4H638.38V542.3H635.92ZM638.93 537.4H641.39V542.3H638.93ZM641.94 537.4H644.39V542.3H641.94ZM644.94 537.4H647.4V542.3H644.94ZM619.5 514.6H624.4V517.01H619.5ZM619.5 517.56H624.4V519.96H619.5ZM619.5 520.51H624.4V522.92H619.5ZM619.5 523.47H624.4V525.88H619.5ZM619.5 526.42H624.4V528.83H619.5ZM619.5 529.38H624.4V531.79H619.5ZM619.5 532.34H624.4V534.74H619.5ZM619.5 535.29H624.4V537.7H619.5ZM646.9 514.6H651.8V517.01H646.9ZM646.9 517.56H651.8V519.96H646.9ZM646.9 520.51H651.8V522.92H646.9ZM646.9 523.47H651.8V525.88H646.9ZM646.9 526.42H651.8V528.83H646.9ZM646.9 529.38H651.8V531.79H646.9ZM646.9 532.34H651.8V534.74H646.9ZM646.9 535.29H651.8V537.7H646.9ZM624.4 522.5H628V525.5H624.4ZM634.8 521.5H637.1V526H634.8ZM654 524.5H657.33V528.25H654ZM654 528.75H657.33V532.5H654ZM657.83 524.5H661.17V528.25H657.83ZM657.83 528.75H661.17V532.5H657.83ZM661.67 524.5H665V528.25H661.67ZM661.67 528.75H665V532.5H661.67ZM689.15 473.52H692.35V477.52H689.15ZM689.85 480.52H691.65V483.73H689.85ZM689.15 486.73H692.35V490.73H689.15ZM675.15 510H677.61V514.9H675.15ZM678.16 510H680.61V514.9H678.16ZM681.16 510H683.62V514.9H681.16ZM684.17 510H686.62V514.9H684.17ZM687.17 510H689.63V514.9H687.17ZM690.18 510H692.64V514.9H690.18ZM693.19 510H695.64V514.9H693.19ZM696.19 510H698.65V514.9H696.19ZM675.15 537.4H677.61V542.3H675.15ZM678.16 537.4H680.61V542.3H678.16ZM681.16 537.4H683.62V542.3H681.16ZM684.17 537.4H686.62V542.3H684.17ZM687.17 537.4H689.63V542.3H687.17ZM690.18 537.4H692.64V542.3H690.18ZM693.19 537.4H695.64V542.3H693.19ZM696.19 537.4H698.65V542.3H696.19ZM670.75 514.6H675.65V517.01H670.75ZM670.75 517.56H675.65V519.96H670.75ZM670.75 520.51H675.65V522.92H670.75ZM670.75 523.47H675.65V525.88H670.75ZM670.75 526.42H675.65V528.83H670.75ZM670.75 529.38H675.65V531.79H670.75ZM670.75 532.34H675.65V534.74H670.75ZM670.75 535.29H675.65V537.7H670.75ZM698.15 514.6H703.05V517.01H698.15ZM698.15 517.56H703.05V519.96H698.15ZM698.15 520.51H703.05V522.92H698.15ZM698.15 523.47H703.05V525.88H698.15ZM698.15 526.42H703.05V528.83H698.15ZM698.15 529.38H703.05V531.79H698.15ZM698.15 532.34H703.05V534.74H698.15ZM698.15 535.29H703.05V537.7H698.15ZM675.65 522.5H679.25V525.5H675.65ZM686.05 521.5H688.35V526H686.05ZM705.25 524.5H708.58V528.25H705.25ZM705.25 528.75H708.58V532.5H705.25ZM709.08 524.5H712.42V528.25H709.08ZM709.08 528.75H712.42V532.5H709.08ZM712.92 524.5H716.25V528.25H712.92ZM712.92 528.75H716.25V532.5H712.92ZM605 509.3H613V512.3H605ZM608.6 515.2H612.6V518.6H608.6ZM656.5 509.3H664.5V512.3H656.5ZM660.1 515.2H664.1V518.6H660.1ZM707.5 509.3H715.5V512.3H707.5ZM711.1 515.2H715.1V518.6H711.1ZM560 477.5H563.75V485H560ZM663.25 481.25H666.75V488H663.25ZM500.6 478H501.9V483H500.6ZM476 466H478.5V469H476ZM473 469.5H477.25V473H473ZM477.75 469.5H482V473H477.75ZM475.5 473.6H480.5V477.5H475.5ZM481 473.6H486V477.5H481ZM472.5 478.2H476.17V482.3H472.5ZM476.67 478.2H480.33V482.3H476.67ZM480.83 478.2H484.5V482.3H480.83ZM521.2 545.7H525V554.5H521.2ZM528 545.7H532.23V554.5H528ZM533.13 545.7H537.37V554.5H533.13ZM538.27 545.7H542.5V554.5H538.27ZM572.45 545.7H576.25V554.5H572.45ZM579.25 545.7H583.48V554.5H579.25ZM584.38 545.7H588.62V554.5H584.38ZM589.52 545.7H593.75V554.5H589.52ZM623.2 545.7H627V554.5H623.2ZM630 545.7H634.23V554.5H630ZM635.13 545.7H639.37V554.5H635.13ZM640.27 545.7H644.5V554.5H640.27ZM674.45 545.7H678.25V554.5H674.45ZM681.25 545.7H685.48V554.5H681.25ZM686.38 545.7H690.62V554.5H686.38ZM691.52 545.7H695.75V554.5H691.52ZM528 545.7H532.23V554.5H528ZM533.13 545.7H537.37V554.5H533.13ZM538.27 545.7H542.5V554.5H538.27ZM733.6 493.5H735V497.5H733.6ZM757.5 494.25H759.95V499.25H757.5ZM760.55 494.25H763V499.25H760.55ZM768 427.5H770.73V433.75H768ZM771.63 427.5H774.37V433.75H771.63ZM775.27 427.5H778V433.75H775.27ZM768 427.5H769.8V433.75H768ZM776 415.5a2.25 1.69 0 1 1 4.5 0a2.25 1.69 0 1 1 -4.5 0ZM791.5 397.5H797V400H791.5ZM801.5 403.3H807.5V406H801.5ZM793.5 407H799.5V411.5H793.5ZM800.5 407H806.5V411.5H800.5ZM788.7 410.5H792.5V413.7H788.7ZM788.7 414.3H792.5V417.5H788.7ZM794 413H799.75V417.5H794ZM800.75 413H806.5V417.5H800.75ZM932.5 240H937.5V245.5H932.5ZM1040 234.5H1044.5V237H1040ZM1045 241.25H1049.6V247H1045ZM1050.4 241.25H1055V247H1050.4ZM1050 247.5H1052.5V252H1050ZM1063.75 238.25H1069.25V243.75H1063.75ZM1066.25 247H1070.45V252.5H1066.25ZM1071.65 247H1075.85V252.5H1071.65ZM1077.05 247H1081.25V252.5H1077.05ZM1053.75 256.25H1056.44V262H1053.75ZM1057.34 256.25H1060.03V262H1057.34ZM1060.93 256.25H1063.62V262H1060.93ZM1064.52 256.25H1067.21V262H1064.52ZM1068.11 256.25H1070.8V262H1068.11ZM1071.7 256.25H1074.39V262H1071.7ZM1075.29 256.25H1077.98V262H1075.29ZM1078.88 256.25H1081.57V262H1078.88ZM1082.47 256.25H1085.16V262H1082.47ZM1086.06 256.25H1088.75V262H1086.06ZM1045 258H1050V260.5H1045ZM1084.59 249.5a2.16 1.62 0 1 1 4.32 0a2.16 1.62 0 1 1 -4.32 0ZM1093.28 243a2.22 1.67 0 1 1 4.44 0a2.22 1.67 0 1 1 -4.44 0ZM1104.78 243a2.22 1.67 0 1 1 4.44 0a2.22 1.67 0 1 1 -4.44 0ZM1112.28 244.5a2.22 1.67 0 1 1 4.44 0a2.22 1.67 0 1 1 -4.44 0ZM1119.78 243a2.22 1.67 0 1 1 4.44 0a2.22 1.67 0 1 1 -4.44 0ZM1127.28 243a2.22 1.67 0 1 1 4.44 0a2.22 1.67 0 1 1 -4.44 0ZM1093 250.5H1096.43V255.75H1093ZM1097.33 250.5H1100.76V255.75H1097.33ZM1101.66 250.5H1105.09V255.75H1101.66ZM1105.99 250.5H1109.42V255.75H1105.99ZM1110.32 250.5H1113.75V255.75H1110.32ZM1117 250.5H1119.5V255.75H1117ZM1123.75 250.5H1127.15V255.75H1123.75ZM1128.05 250.5H1131.45V255.75H1128.05ZM1132.35 250.5H1135.75V255.75H1132.35ZM1141.5 236H1145V238.3H1141.5ZM1151.5 238.5H1154V244H1151.5ZM1162.5 241.75H1166.1V246.1H1162.5ZM1162.5 246.9H1166.1V251.25H1162.5ZM1166.9 241.75H1170.5V246.1H1166.9ZM1166.9 246.9H1170.5V251.25H1166.9ZM1145 252H1150.75V254.25H1145ZM1133 258H1136V263H1133ZM1141.5 259.5H1143V268H1141.5ZM1150 258.5H1152V266H1150ZM1140.84 269.5a2.16 1.62 0 1 1 4.32 0a2.16 1.62 0 1 1 -4.32 0ZM1147.34 274.5a2.16 1.62 0 1 1 4.32 0a2.16 1.62 0 1 1 -4.32 0ZM1140.84 278a2.16 1.62 0 1 1 4.32 0a2.16 1.62 0 1 1 -4.32 0ZM1139.84 285.5a2.16 1.62 0 1 1 4.32 0a2.16 1.62 0 1 1 -4.32 0ZM1132.5 267.5H1135.7V273H1132.5ZM1136.3 267.5H1139.5V273H1136.3ZM1133 276H1139V282H1133ZM1133 284H1139V290H1133ZM1147 281H1149.5V286.5H1147ZM1192.5 271.25H1200V275.45H1192.5ZM1192.5 276.65H1200V280.85H1192.5ZM1192.5 282.05H1200V286.25H1192.5ZM1187.43 292.15a0.9 0.9 0 1 1 1.8 0a0.9 0.9 0 1 1 -1.8 0ZM1162.5 287.5H1170V290.93H1162.5ZM1162.5 292.03H1170V295.47H1162.5ZM1162.5 296.57H1170V300H1162.5ZM1192.5 307.5H1200V312.4H1192.5ZM1192.5 313.6H1200V318.5H1192.5ZM1162.5 302.5H1165.75V308.75H1162.5ZM1162.5 309.75H1165.75V316H1162.5ZM1166.75 302.5H1170V308.75H1166.75ZM1166.75 309.75H1170V316H1166.75ZM1148.5 290.5H1153.5V295H1148.5ZM1156.5 291H1158.5V296H1156.5ZM1131 290H1137.5V295.5H1131ZM1131 296.5H1137.5V302H1131ZM1139.5 300H1145V305.5H1139.5ZM1131 307.5H1137V313.5H1131ZM1140 314.5H1145V320H1140ZM1153 308.5H1155.5V314H1153ZM1140.5 323H1145V331H1140.5ZM1151 324H1155V332.5H1151ZM1131 326H1137V328.5H1131ZM1131.5 332H1134.2V337.5H1131.5ZM1134.8 332H1137.5V337.5H1134.8ZM1134 338H1141V341H1134ZM1131 342H1137V344.5H1131ZM1141.5 332.5H1143.5V339H1141.5ZM1143 338.5H1148.5V344H1143ZM1153.5 336.5H1155.5V342H1153.5ZM1153.5 343H1155.5V347.5H1153.5ZM1131.5 351.5H1134.5V356.5H1131.5ZM1142.5 348.5H1145V355H1142.5ZM1137 358H1141.2V364.5H1137ZM1141.8 358H1146V364.5H1141.8ZM1131 361.5H1136.5V364H1131ZM1140.84 369.25a2.16 1.62 0 1 1 4.32 0a2.16 1.62 0 1 1 -4.32 0ZM1132 369H1138.5V372.47H1132ZM1132 373.27H1138.5V376.73H1132ZM1132 377.53H1138.5V381H1132ZM1139.5 377H1144V382.5H1139.5ZM1149 375H1151.5V380.5H1149ZM1181.3 339.5H1182.7V345.5H1181.3ZM1158.5 362.5H1161V367.5H1158.5ZM1189.6 366a0.9 0.9 0 1 1 1.8 0a0.9 0.9 0 1 1 -1.8 0ZM1170 371.5H1174.5V374H1170ZM1157 370.5H1164V375H1157ZM1198.5 376.5H1201.5V380.5H1198.5ZM1168.75 380H1171.5V382.25H1168.75ZM1168.75 382.95H1171.5V385.2H1168.75ZM1168.75 385.9H1171.5V388.15H1168.75ZM1168.75 388.85H1171.5V391.1H1168.75ZM1168.75 391.8H1171.5V394.05H1168.75ZM1168.75 394.75H1171.5V397H1168.75ZM1187.5 380H1190V382.25H1187.5ZM1187.5 382.95H1190V385.2H1187.5ZM1187.5 385.9H1190V388.15H1187.5ZM1187.5 388.85H1190V391.1H1187.5ZM1187.5 391.8H1190V394.05H1187.5ZM1187.5 394.75H1190V397H1187.5ZM1172.5 377.5H1174.66V380H1172.5ZM1175.46 377.5H1177.62V380H1175.46ZM1178.42 377.5H1180.58V380H1178.42ZM1181.38 377.5H1183.54V380H1181.38ZM1184.34 377.5H1186.5V380H1184.34ZM1172.5 397H1174.66V399H1172.5ZM1175.46 397H1177.62V399H1175.46ZM1178.42 397H1180.58V399H1178.42ZM1181.38 397H1183.54V399H1181.38ZM1184.34 397H1186.5V399H1184.34ZM1166.1 381a0.9 0.9 0 1 1 1.8 0a0.9 0.9 0 1 1 -1.8 0ZM1154.5 382.5H1159.3V385.2H1154.5ZM1154.5 386.1H1159.3V388.8H1154.5ZM1154.5 389.7H1159.3V392.4H1154.5ZM1154.5 393.3H1159.3V396H1154.5ZM1160.2 382.5H1165V385.2H1160.2ZM1160.2 386.1H1165V388.8H1160.2ZM1160.2 389.7H1165V392.4H1160.2ZM1160.2 393.3H1165V396H1160.2ZM1163 397.5H1167V400H1163ZM1166 400H1168.5V404.5H1166ZM1197 391.5H1199.8V398.5H1197ZM1200.6 391.5H1203.4V398.5H1200.6ZM1204.2 391.5H1207V398.5H1204.2ZM1196 402H1201.5V405.07H1196ZM1196 405.97H1201.5V409.03H1196ZM1196 409.93H1201.5V413H1196ZM1179 402.5H1184.5V405.5H1179ZM1179 407H1182.2V409.7H1179ZM1179 410.3H1182.2V413H1179ZM1182.8 407H1186V409.7H1182.8ZM1182.8 410.3H1186V413H1182.8ZM1130.84 390.75a2.16 1.62 0 1 1 4.32 0a2.16 1.62 0 1 1 -4.32 0ZM1136.59 395.75a2.16 1.62 0 1 1 4.32 0a2.16 1.62 0 1 1 -4.32 0ZM1141.5 406.5H1149.5V409.5H1141.5ZM1141.5 412H1145.5V415.35H1141.5ZM1141.5 416.15H1145.5V419.5H1141.5ZM1170.1 416.25a2.4 1.9 0 1 1 4.8 0a2.4 1.9 0 1 1 -4.8 0ZM1169 408H1170.5V412H1169ZM1179 414.5H1186V417.5H1179ZM845 443H849.23V446.68H845ZM845 447.57H849.23V451.25H845ZM850.13 443H854.37V446.68H850.13ZM850.13 447.57H854.37V451.25H850.13ZM855.27 443H859.5V446.68H855.27ZM855.27 447.57H859.5V451.25H855.27ZM878 446.25H880.5V451.25H878ZM900 439.5H905.5V444.5H900ZM902.5 446.25H906.15V450H902.5ZM906.85 446.25H910.5V450H906.85ZM920 453.5H921.5V456.5H920ZM914.7 446.3H917.3V449H914.7ZM925.7 446.3H928.3V449H925.7ZM1005.5 438.75H1009.1V442.95H1005.5ZM1009.7 438.75H1013.3V442.95H1009.7ZM1002 444.2H1005.6V448.4H1002ZM1006.2 444.2H1009.8V448.4H1006.2ZM1005.5 449.4H1009.1V453.6H1005.5ZM1009.7 449.4H1013.3V453.6H1009.7ZM1002 454.8H1005.6V459H1002ZM1006.2 454.8H1009.8V459H1006.2ZM1005.5 460.2H1009.1V464.4H1005.5ZM1009.7 460.2H1013.3V464.4H1009.7ZM1002 465.4H1005.6V469.6H1002ZM1006.2 465.4H1009.8V469.6H1006.2ZM1005.5 470.8H1009.1V475H1005.5ZM1009.7 470.8H1013.3V475H1009.7ZM1025 431.25H1027.58V436.25H1025ZM1028.17 431.25H1030.75V436.25H1028.17ZM1047.03 435.75a2.22 1.67 0 1 1 4.44 0a2.22 1.67 0 1 1 -4.44 0ZM1052.78 440.75a2.22 1.67 0 1 1 4.44 0a2.22 1.67 0 1 1 -4.44 0ZM1037.5 447H1041.5V450.65H1037.5ZM1037.5 451.35H1041.5V455H1037.5ZM1043.5 447H1047.5V450.65H1043.5ZM1043.5 451.35H1047.5V455H1043.5ZM1093.75 454.5H1096.25V459.5H1093.75ZM1022.5 474H1026.3V477.85H1022.5ZM1022.5 478.65H1026.3V482.5H1022.5ZM1028 476H1031.8V479.85H1028ZM1028 480.65H1031.8V484.5H1028ZM1033 474.5H1036.8V478.35H1033ZM1033 479.15H1036.8V483H1033ZM1039.5 478.5H1043.3V482.35H1039.5ZM1039.5 483.15H1043.3V487H1039.5ZM1044.5 479.5H1048.3V483.35H1044.5ZM1044.5 484.15H1048.3V488H1044.5ZM1050 477.5H1053.8V481.35H1050ZM1050 482.15H1053.8V486H1050ZM1055 480H1058.8V483.85H1055ZM1055 484.65H1058.8V488.5H1055ZM1060 478.5H1063.8V482.35H1060ZM1060 483.15H1063.8V487H1060ZM1065.5 481H1069.3V484.85H1065.5ZM1065.5 485.65H1069.3V489.5H1065.5ZM1071 479H1074.8V482.85H1071ZM1071 483.65H1074.8V487.5H1071ZM1156.5 469H1159.5V474H1156.5ZM1152.5 475H1156V478H1152.5ZM1156.5 475H1160V478H1156.5ZM1152.5 479.5H1156V483.75H1152.5ZM1156.5 479.5H1160V483.75H1156.5ZM1162 440H1168V443.95H1162ZM1162 444.95H1168V448.9H1162ZM1162 449.9H1168V453.85H1162ZM1162 454.85H1168V458.8H1162ZM1162 459.8H1168V463.75H1162ZM1157 446H1161V450.4H1157ZM1157 451.6H1161V456H1157ZM1163 459.5H1166V464.5H1163ZM790 284H793.2V292H790ZM793.8 284H797V292H793.8ZM790.5 292.5H792V296H790.5ZM792 397H797.5V399.5H792ZM803 403.5H808V405.5H803ZM794 408H797.45V412H794ZM798.05 408H801.5V412H798.05ZM794 414H797.45V418H794ZM798.05 414H801.5V418H798.05ZM826.52 502.43H831.73V503.82H826.52ZM878.65 502.43H883.85V503.82H878.65ZM932.4 502.43H937.6V503.82H932.4ZM983.65 502.43H988.85V503.82H983.65ZM1037.4 502.43H1042.6V503.82H1037.4ZM1088.15 502.43H1093.35V503.82H1088.15ZM1139.03 502.43H1144.22V503.82H1139.03ZM847.08 541.5H848.67V545.5H847.08ZM854.85 567a0.9 0.9 0 1 1 1.8 0a0.9 0.9 0 1 1 -1.8 0ZM893.15 534.9H896.35V538.9H893.15ZM893.85 541.9H895.65V545.1H893.85ZM893.15 548.1H896.35V552.1H893.15ZM901.6 567a0.9 0.9 0 1 1 1.8 0a0.9 0.9 0 1 1 -1.8 0ZM941.27 534.9H944.48V538.9H941.27ZM941.98 541.9H943.77V545.1H941.98ZM941.27 548.1H944.48V552.1H941.27ZM949.85 567a0.9 0.9 0 1 1 1.8 0a0.9 0.9 0 1 1 -1.8 0ZM991.52 534.9H994.73V538.9H991.52ZM992.23 541.9H994.02V545.1H992.23ZM991.52 548.1H994.73V552.1H991.52ZM999.85 567a0.9 0.9 0 1 1 1.8 0a0.9 0.9 0 1 1 -1.8 0ZM1040.4 534.9H1043.6V538.9H1040.4ZM1041.1 541.9H1042.9V545.1H1041.1ZM1040.4 548.1H1043.6V552.1H1040.4ZM1048.6 567a0.9 0.9 0 1 1 1.8 0a0.9 0.9 0 1 1 -1.8 0ZM1086.9 534.9H1090.1V538.9H1086.9ZM1087.6 541.9H1089.4V545.1H1087.6ZM1086.9 548.1H1090.1V552.1H1086.9ZM1095.35 567a0.9 0.9 0 1 1 1.8 0a0.9 0.9 0 1 1 -1.8 0ZM1139.4 534.9H1142.6V538.9H1139.4ZM1140.1 541.9H1141.9V545.1H1140.1ZM1139.4 548.1H1142.6V552.1H1139.4ZM1147.85 567a0.9 0.9 0 1 1 1.8 0a0.9 0.9 0 1 1 -1.8 0ZM841.3 536.4H844.5V540H841.3ZM851.3 536.4H854.5V540H851.3ZM841.3 547H844.5V550.6H841.3ZM851.3 547H854.5V550.6H851.3ZM847.1 541H848.7V546H847.1ZM822 538.25H825.75V541.85H822ZM822 542.65H825.75V546.25H822ZM822 556.25H825.75V559.6H822ZM822 560.4H825.75V563.75H822ZM1015.75 536.25H1019.5V539.6H1015.75ZM1015.75 540.4H1019.5V543.75H1015.75ZM1112.5 537.5H1116.25V540.85H1112.5ZM1112.5 541.65H1116.25V545H1112.5ZM1163.25 534.25H1167.5V537.6H1163.25ZM1163.25 538.4H1167.5V541.75H1163.25ZM1163.25 550.75H1167.5V555.75H1163.25ZM817 587H821.5V588.5H817ZM842 570.75H846.05V573.5H842ZM848.65 570.75H852.7V573.5H848.65ZM855.3 570.75H859.35V573.5H855.3ZM861.95 570.75H866V573.5H861.95ZM852 589H853.4V593H852ZM879.4 572H881.86V576.9H879.4ZM882.41 572H884.86V576.9H882.41ZM885.41 572H887.87V576.9H885.41ZM888.42 572H890.87V576.9H888.42ZM891.42 572H893.88V576.9H891.42ZM894.43 572H896.89V576.9H894.43ZM897.44 572H899.89V576.9H897.44ZM900.44 572H902.9V576.9H900.44ZM879.4 599.4H881.86V604.3H879.4ZM882.41 599.4H884.86V604.3H882.41ZM885.41 599.4H887.87V604.3H885.41ZM888.42 599.4H890.87V604.3H888.42ZM891.42 599.4H893.88V604.3H891.42ZM894.43 599.4H896.89V604.3H894.43ZM897.44 599.4H899.89V604.3H897.44ZM900.44 599.4H902.9V604.3H900.44ZM875 576.6H879.9V579.01H875ZM875 579.56H879.9V581.96H875ZM875 582.51H879.9V584.92H875ZM875 585.47H879.9V587.88H875ZM875 588.42H879.9V590.83H875ZM875 591.38H879.9V593.79H875ZM875 594.34H879.9V596.74H875ZM875 597.29H879.9V599.7H875ZM902.4 576.6H907.3V579.01H902.4ZM902.4 579.56H907.3V581.96H902.4ZM902.4 582.51H907.3V584.92H902.4ZM902.4 585.47H907.3V587.88H902.4ZM902.4 588.42H907.3V590.83H902.4ZM902.4 591.38H907.3V593.79H902.4ZM902.4 594.34H907.3V596.74H902.4ZM902.4 597.29H907.3V599.7H902.4ZM879.9 584.5H883.5V587.5H879.9ZM890.3 583.5H892.6V588H890.3ZM927.65 572H930.11V576.9H927.65ZM930.66 572H933.11V576.9H930.66ZM933.66 572H936.12V576.9H933.66ZM936.67 572H939.12V576.9H936.67ZM939.67 572H942.13V576.9H939.67ZM942.68 572H945.14V576.9H942.68ZM945.69 572H948.14V576.9H945.69ZM948.69 572H951.15V576.9H948.69ZM927.65 599.4H930.11V604.3H927.65ZM930.66 599.4H933.11V604.3H930.66ZM933.66 599.4H936.12V604.3H933.66ZM936.67 599.4H939.12V604.3H936.67ZM939.67 599.4H942.13V604.3H939.67ZM942.68 599.4H945.14V604.3H942.68ZM945.69 599.4H948.14V604.3H945.69ZM948.69 599.4H951.15V604.3H948.69ZM923.25 576.6H928.15V579.01H923.25ZM923.25 579.56H928.15V581.96H923.25ZM923.25 582.51H928.15V584.92H923.25ZM923.25 585.47H928.15V587.88H923.25ZM923.25 588.42H928.15V590.83H923.25ZM923.25 591.38H928.15V593.79H923.25ZM923.25 594.34H928.15V596.74H923.25ZM923.25 597.29H928.15V599.7H923.25ZM950.65 576.6H955.55V579.01H950.65ZM950.65 579.56H955.55V581.96H950.65ZM950.65 582.51H955.55V584.92H950.65ZM950.65 585.47H955.55V587.88H950.65ZM950.65 588.42H955.55V590.83H950.65ZM950.65 591.38H955.55V593.79H950.65ZM950.65 594.34H955.55V596.74H950.65ZM950.65 597.29H955.55V599.7H950.65ZM928.15 584.5H931.75V587.5H928.15ZM938.55 583.5H940.85V588H938.55ZM976.9 570.5H979.36V575.4H976.9ZM979.91 570.5H982.36V575.4H979.91ZM982.91 570.5H985.37V575.4H982.91ZM985.92 570.5H988.37V575.4H985.92ZM988.92 570.5H991.38V575.4H988.92ZM991.93 570.5H994.39V575.4H991.93ZM994.94 570.5H997.39V575.4H994.94ZM997.94 570.5H1000.4V575.4H997.94ZM976.9 597.9H979.36V602.8H976.9ZM979.91 597.9H982.36V602.8H979.91ZM982.91 597.9H985.37V602.8H982.91ZM985.92 597.9H988.37V602.8H985.92ZM988.92 597.9H991.38V602.8H988.92ZM991.93 597.9H994.39V602.8H991.93ZM994.94 597.9H997.39V602.8H994.94ZM997.94 597.9H1000.4V602.8H997.94ZM972.5 575.1H977.4V577.51H972.5ZM972.5 578.06H977.4V580.46H972.5ZM972.5 581.01H977.4V583.42H972.5ZM972.5 583.97H977.4V586.38H972.5ZM972.5 586.92H977.4V589.33H972.5ZM972.5 589.88H977.4V592.29H972.5ZM972.5 592.84H977.4V595.24H972.5ZM972.5 595.79H977.4V598.2H972.5ZM999.9 575.1H1004.8V577.51H999.9ZM999.9 578.06H1004.8V580.46H999.9ZM999.9 581.01H1004.8V583.42H999.9ZM999.9 583.97H1004.8V586.38H999.9ZM999.9 586.92H1004.8V589.33H999.9ZM999.9 589.88H1004.8V592.29H999.9ZM999.9 592.84H1004.8V595.24H999.9ZM999.9 595.79H1004.8V598.2H999.9ZM977.4 583H981V586H977.4ZM987.8 582H990.1V586.5H987.8ZM1025.65 570.5H1028.11V575.4H1025.65ZM1028.66 570.5H1031.11V575.4H1028.66ZM1031.66 570.5H1034.12V575.4H1031.66ZM1034.67 570.5H1037.12V575.4H1034.67ZM1037.67 570.5H1040.13V575.4H1037.67ZM1040.68 570.5H1043.14V575.4H1040.68ZM1043.69 570.5H1046.14V575.4H1043.69ZM1046.69 570.5H1049.15V575.4H1046.69ZM1025.65 597.9H1028.11V602.8H1025.65ZM1028.66 597.9H1031.11V602.8H1028.66ZM1031.66 597.9H1034.12V602.8H1031.66ZM1034.67 597.9H1037.12V602.8H1034.67ZM1037.67 597.9H1040.13V602.8H1037.67ZM1040.68 597.9H1043.14V602.8H1040.68ZM1043.69 597.9H1046.14V602.8H1043.69ZM1046.69 597.9H1049.15V602.8H1046.69ZM1021.25 575.1H1026.15V577.51H1021.25ZM1021.25 578.06H1026.15V580.46H1021.25ZM1021.25 581.01H1026.15V583.42H1021.25ZM1021.25 583.97H1026.15V586.38H1021.25ZM1021.25 586.92H1026.15V589.33H1021.25ZM1021.25 589.88H1026.15V592.29H1021.25ZM1021.25 592.84H1026.15V595.24H1021.25ZM1021.25 595.79H1026.15V598.2H1021.25ZM1048.65 575.1H1053.55V577.51H1048.65ZM1048.65 578.06H1053.55V580.46H1048.65ZM1048.65 581.01H1053.55V583.42H1048.65ZM1048.65 583.97H1053.55V586.38H1048.65ZM1048.65 586.92H1053.55V589.33H1048.65ZM1048.65 589.88H1053.55V592.29H1048.65ZM1048.65 592.84H1053.55V595.24H1048.65ZM1048.65 595.79H1053.55V598.2H1048.65ZM1026.15 583H1029.75V586H1026.15ZM1036.55 582H1038.85V586.5H1036.55ZM869.5 586H873.5V590.6H869.5ZM869.5 591.4H873.5V596H869.5ZM909 586H912.53V589.9H909ZM909 590.6H912.53V594.5H909ZM913.23 586H916.77V589.9H913.23ZM913.23 590.6H916.77V594.5H913.23ZM917.47 586H921V589.9H917.47ZM917.47 590.6H921V594.5H917.47ZM957 586H960.87V589.9H957ZM957 590.6H960.87V594.5H957ZM961.57 586H965.43V589.9H961.57ZM961.57 590.6H965.43V594.5H961.57ZM966.13 586H970V589.9H966.13ZM966.13 590.6H970V594.5H966.13ZM1006 584.5H1009.87V588.4H1006ZM1006 589.1H1009.87V593H1006ZM1010.57 584.5H1014.43V588.4H1010.57ZM1010.57 589.1H1014.43V593H1010.57ZM1015.13 584.5H1019V588.4H1015.13ZM1015.13 589.1H1019V593H1015.13ZM1054.5 584.5H1058.4V588.4H1054.5ZM1054.5 589.1H1058.4V593H1054.5ZM1059.1 584.5H1063V588.4H1059.1ZM1059.1 589.1H1063V593H1059.1ZM916.5 596H920.5V600.1H916.5ZM916.5 600.9H920.5V605H916.5ZM966 596H970V600.1H966ZM966 600.9H970V605H966ZM1014.5 596H1019V600.6H1014.5ZM1014.5 601.4H1019V606H1014.5ZM1086.5 590H1091V591.5H1086.5ZM1134.75 590H1139.25V591.5H1134.75ZM1155.5 574H1159.9V582H1155.5ZM1161.1 574H1165.5V582H1161.1ZM809.5 606.6H817.5V610.6H809.5ZM809.5 611.6H817.5V615.6H809.5ZM878.75 606.25H882.51V615H878.75ZM883.31 606.25H887.07V615H883.31ZM887.87 606.25H891.63V615H887.87ZM892.43 606.25H896.19V615H892.43ZM896.99 606.25H900.75V615H896.99ZM928.25 606.25H931.96V616.25H928.25ZM932.76 606.25H936.47V616.25H932.76ZM937.27 606.25H940.98V616.25H937.27ZM941.78 606.25H945.49V616.25H941.78ZM946.29 606.25H950V616.25H946.29ZM975 605.5H978.86V613.75H975ZM979.66 605.5H983.52V613.75H979.66ZM984.32 605.5H988.18V613.75H984.32ZM988.98 605.5H992.84V613.75H988.98ZM993.64 605.5H997.5V613.75H993.64ZM1021.25 605.5H1024.75V613.75H1021.25ZM1025.55 605.5H1029.05V613.75H1025.55ZM1029.85 605.5H1033.35V613.75H1029.85ZM1034.15 605.5H1037.65V613.75H1034.15ZM1038.45 605.5H1041.95V613.75H1038.45ZM1042.75 605.5H1046.25V613.75H1042.75ZM1175.6 504H1176.9V510H1175.6ZM1210 505H1212.2V507.82H1210ZM1210 508.43H1212.2V511.25H1210ZM1212.8 505H1215V507.82H1212.8ZM1212.8 508.43H1215V511.25H1212.8ZM1212 521.25H1217.5V524.84H1212ZM1212 525.74H1217.5V529.32H1212ZM1212 530.23H1217.5V533.81H1212ZM1212 534.71H1217.5V538.3H1212ZM1212 539.2H1217.5V542.79H1212ZM1212 543.69H1217.5V547.27H1212ZM1212 548.17H1217.5V551.76H1212ZM1212 552.66H1217.5V556.25H1212ZM1221.25 562.5H1224.1V567.5H1221.25ZM1224.7 562.5H1227.55V567.5H1224.7ZM1228.15 562.5H1231V567.5H1228.15ZM1224 570.7H1229.15V574H1224ZM1224 574.7H1229.15V578H1224ZM1229.85 570.7H1235V574H1229.85ZM1229.85 574.7H1235V578H1229.85ZM1230 513H1236V516.5H1230ZM1232.6 520.5H1235.9V528H1232.6ZM1236.5 520.5H1239.8V528H1236.5ZM1240.4 520.5H1243.7V528H1240.4ZM341.15 602a0.6 0.6 0 1 1 1.2 0a0.6 0.6 0 1 1 -1.2 0ZM341.15 720a0.6 0.6 0 1 1 1.2 0a0.6 0.6 0 1 1 -1.2 0ZM352.3 659.5H353.7V663H352.3ZM213.85 600.75H215.95V605.55H213.85ZM216.45 600.75H218.54V605.55H216.45ZM219.04 600.75H221.14V605.55H219.04ZM221.64 600.75H223.73V605.55H221.64ZM224.23 600.75H226.33V605.55H224.23ZM226.83 600.75H228.92V605.55H226.83ZM229.42 600.75H231.52V605.55H229.42ZM232.02 600.75H234.11V605.55H232.02ZM234.61 600.75H236.71V605.55H234.61ZM237.21 600.75H239.3V605.55H237.21ZM239.8 600.75H241.9V605.55H239.8ZM213.85 634.7H215.95V639.5H213.85ZM216.45 634.7H218.54V639.5H216.45ZM219.04 634.7H221.14V639.5H219.04ZM221.64 634.7H223.73V639.5H221.64ZM224.23 634.7H226.33V639.5H224.23ZM226.83 634.7H228.92V639.5H226.83ZM229.42 634.7H231.52V639.5H229.42ZM232.02 634.7H234.11V639.5H232.02ZM234.61 634.7H236.71V639.5H234.61ZM237.21 634.7H239.3V639.5H237.21ZM239.8 634.7H241.9V639.5H239.8ZM208.75 605.85H213.55V607.99H208.75ZM208.75 608.49H213.55V610.63H208.75ZM208.75 611.13H213.55V613.27H208.75ZM208.75 613.77H213.55V615.91H208.75ZM208.75 616.41H213.55V618.55H208.75ZM208.75 619.05H213.55V621.2H208.75ZM208.75 621.7H213.55V623.84H208.75ZM208.75 624.34H213.55V626.48H208.75ZM208.75 626.98H213.55V629.12H208.75ZM208.75 629.62H213.55V631.76H208.75ZM208.75 632.26H213.55V634.4H208.75ZM242.2 605.85H247V607.99H242.2ZM242.2 608.49H247V610.63H242.2ZM242.2 611.13H247V613.27H242.2ZM242.2 613.77H247V615.91H242.2ZM242.2 616.41H247V618.55H242.2ZM242.2 619.05H247V621.2H242.2ZM242.2 621.7H247V623.84H242.2ZM242.2 624.34H247V626.48H242.2ZM242.2 626.98H247V629.12H242.2ZM242.2 629.62H247V631.76H242.2ZM242.2 632.26H247V634.4H242.2ZM226.68 619.42H229.07V620.83H226.68ZM226.1 620.5a1.4 1.4 0 1 1 2.8 0a1.4 1.4 0 1 1 -2.8 0ZM235 591.25H237.5V598H235ZM239.5 591.25H243V598H239.5ZM250 591.25H253.1V597H250ZM253.9 591.25H257V597H253.9ZM178.5 620H180V622.5H178.5ZM182.5 599H186V600.8H182.5ZM177.6 598.3H179.8V601.3H177.6ZM189.5 593H192V595.5H189.5ZM189.5 604.8H192V607.3H189.5ZM195.5 596H197.5V601H195.5ZM199.5 592.5H202V597.5H199.5ZM198 605H203.25V608.48H198ZM198 609.67H203.25V613.15H198ZM198 614.35H203.25V617.83H198ZM198 619.02H203.25V622.5H198ZM195.75 626.25H199.45V629.5H195.75ZM200.05 626.25H203.75V629.5H200.05ZM195.75 632.5H199.45V636H195.75ZM200.05 632.5H203.75V636H200.05ZM189.25 610H191.45V613.7H189.25ZM189.25 614.3H191.45V618H189.25ZM192.05 610H194.25V613.7H192.05ZM192.05 614.3H194.25V618H192.05ZM162.5 615.75H167.5V619.6H162.5ZM162.5 620.4H167.5V624.25H162.5ZM155.75 625H161.25V627.5H155.75ZM266 603.3H270V611H266ZM270.5 603.3H274.25V610H270.5ZM274.75 603.3H278.5V610H274.75ZM264 610.5H269V612.5H264ZM277 610.5H282.5V612.5H277ZM270 618H272.82V623.5H270ZM273.43 618H276.25V623.5H273.43ZM268.75 623.5H273V626H268.75ZM272.5 625H276V629.5H272.5ZM255 628H261V630.5H255ZM253.25 632H256.85V636.23H253.25ZM253.25 637.02H256.85V641.25H253.25ZM257.65 632H261.25V636.23H257.65ZM257.65 637.02H261.25V641.25H257.65ZM250 645H253.25V648.73H250ZM250 649.52H253.25V653.25H250ZM277.5 636.25H280.75V641.27H277.5ZM277.5 642.48H280.75V647.5H277.5ZM277.5 653.75H280.75V659.25H277.5ZM272.5 663.25H276.27V669.25H272.5ZM276.98 663.25H280.75V669.25H276.98ZM275 674.25H277.43V679.55H275ZM275 680.45H277.43V685.75H275ZM278.32 674.25H280.75V679.55H278.32ZM278.32 680.45H280.75V685.75H278.32ZM276 688H281V690.5H276ZM205.75 645H209.97V648.6H205.75ZM205.75 649.4H209.97V653H205.75ZM210.78 645H215V648.6H210.78ZM210.78 649.4H215V653H210.78ZM217.5 645H220.02V650H217.5ZM220.62 645H223.13V650H220.62ZM223.73 645H226.25V650H223.73ZM226.75 645.5H232V647.5H226.75ZM219 666H222.5V667.6H219ZM232 663H237.5V665.5H232ZM237 660H244.5V662.3H237ZM241 664H243.5V671.25H241ZM232 675H237.5V677.3H232ZM202 673.5H205V679.5H202ZM197.5 680.5H200V684H197.5ZM200.5 680.5H203V684H200.5ZM205.5 679.5H209.85V684H205.5ZM210.65 679.5H215V684H210.65ZM206 693H210V695H206ZM187.5 688H190.65V691.65H187.5ZM187.5 692.35H190.65V696H187.5ZM191.35 688H194.5V691.65H191.35ZM191.35 692.35H194.5V696H191.35ZM224 684.5H230V687H224ZM239.5 690.5H245V693H239.5ZM203.5 704.5H206V709H203.5ZM206.5 704.5H209V709H206.5ZM228 700H233.5V702.3H228ZM235 698H237V703.5H235ZM229 711.5H230.4V715H229ZM249 711H250.4V715H249ZM265.7 690.5H267V693.5H265.7ZM256.5 684H258.5V689.5H256.5ZM262.5 702.5H266.5V706.5H262.5ZM267 717H270.04V720.65H267ZM267 721.35H270.04V725H267ZM270.74 717H273.78V720.65H270.74ZM270.74 721.35H273.78V725H270.74ZM274.48 717H277.51V720.65H274.48ZM274.48 721.35H277.51V725H274.48ZM278.21 717H281.25V720.65H278.21ZM278.21 721.35H281.25V725H278.21ZM115 707.2H118.5V708.8H115ZM73.6 705L77 701.6L80.4 705L77 708.4ZM65.5 710.5H67.5V713.5H65.5ZM381.3 606.5L384.5 603.3L387.7 606.5L384.5 609.7ZM384.5 607H391.5V612H384.5ZM384 610H389.5V615.5H384ZM383.3 617.2H389V622.5H383.3ZM383.3 626.2H389V631.5H383.3ZM383.3 635.3H389V640.6H383.3ZM385.9 649.5L389.5 645.9L393.1 649.5L389.5 653.1ZM422.21 640.5a2.04 1.53 0 1 1 4.08 0a2.04 1.53 0 1 1 -4.08 0ZM427.84 649.15a0.9 0.9 0 1 1 1.8 0a0.9 0.9 0 1 1 -1.8 0ZM391.25 666.25H397V668.5H391.25ZM393 669H398V676H393ZM399 676L403 676L401 679ZM398 666.25H406.25V668.5H398ZM403.5 669H406.25V672.5H403.5ZM408.3 661.5H410.4V664.5H408.3ZM410 668.75H414V675H410ZM418.5 668.75H420.82V675H418.5ZM421.43 668.75H423.75V675H421.43ZM431.25 671.25H434.43V674.7H431.25ZM431.25 675.3H434.43V678.75H431.25ZM435.03 671.25H438.22V674.7H435.03ZM435.03 675.3H438.22V678.75H435.03ZM438.82 671.25H442V674.7H438.82ZM438.82 675.3H442V678.75H438.82ZM409 692H412.5V693.6H409ZM462 658.3H467V659.8H462ZM458 691.3H463V692.8H458ZM520 679.8H525V681.2H520ZM501.8 630H503.2V635H501.8ZM517.6 574.5H519.39V579.1H517.6ZM519.89 574.5H521.69V579.1H519.89ZM522.19 574.5H523.98V579.1H522.19ZM524.48 574.5H526.27V579.1H524.48ZM526.77 574.5H528.56V579.1H526.77ZM529.06 574.5H530.86V579.1H529.06ZM531.36 574.5H533.15V579.1H531.36ZM517.6 595.4H519.39V600H517.6ZM519.89 595.4H521.69V600H519.89ZM522.19 595.4H523.98V600H522.19ZM524.48 595.4H526.27V600H524.48ZM526.77 595.4H528.56V600H526.77ZM529.06 595.4H530.86V600H529.06ZM531.36 595.4H533.15V600H531.36ZM512.5 579.6H517.1V581.36H512.5ZM512.5 581.86H517.1V583.61H512.5ZM512.5 584.11H517.1V585.87H512.5ZM512.5 586.37H517.1V588.13H512.5ZM512.5 588.63H517.1V590.39H512.5ZM512.5 590.89H517.1V592.64H512.5ZM512.5 593.14H517.1V594.9H512.5ZM533.65 579.6H538.25V581.36H533.65ZM533.65 581.86H538.25V583.61H533.65ZM533.65 584.11H538.25V585.87H533.65ZM533.65 586.37H538.25V588.13H533.65ZM533.65 588.63H538.25V590.39H533.65ZM533.65 590.89H538.25V592.64H533.65ZM533.65 593.14H538.25V594.9H533.65ZM524.17 586.55H526.58V587.95H524.17ZM591.35 575H593.14V579.6H591.35ZM593.64 575H595.44V579.6H593.64ZM595.94 575H597.73V579.6H595.94ZM598.23 575H600.02V579.6H598.23ZM600.52 575H602.31V579.6H600.52ZM602.81 575H604.61V579.6H602.81ZM605.11 575H606.9V579.6H605.11ZM591.35 595.9H593.14V600.5H591.35ZM593.64 595.9H595.44V600.5H593.64ZM595.94 595.9H597.73V600.5H595.94ZM598.23 595.9H600.02V600.5H598.23ZM600.52 595.9H602.31V600.5H600.52ZM602.81 595.9H604.61V600.5H602.81ZM605.11 595.9H606.9V600.5H605.11ZM586.25 580.1H590.85V581.86H586.25ZM586.25 582.36H590.85V584.11H586.25ZM586.25 584.61H590.85V586.37H586.25ZM586.25 586.87H590.85V588.63H586.25ZM586.25 589.13H590.85V590.89H586.25ZM586.25 591.39H590.85V593.14H586.25ZM586.25 593.64H590.85V595.4H586.25ZM607.4 580.1H612V581.86H607.4ZM607.4 582.36H612V584.11H607.4ZM607.4 584.61H612V586.37H607.4ZM607.4 586.87H612V588.63H607.4ZM607.4 589.13H612V590.89H607.4ZM607.4 591.39H612V593.14H607.4ZM607.4 593.64H612V595.4H607.4ZM597.92 587.05H600.33V588.45H597.92ZM560.18 552.27a0.9 0.9 0 1 1 1.8 0a0.9 0.9 0 1 1 -1.8 0ZM508 564.5H511.31V569.5H508ZM512.21 564.5H515.52V569.5H512.21ZM516.42 564.5H519.73V569.5H516.42ZM520.63 564.5H523.94V569.5H520.63ZM524.84 564.5H528.16V569.5H524.84ZM529.06 564.5H532.37V569.5H529.06ZM533.27 564.5H536.58V569.5H533.27ZM537.48 564.5H540.79V569.5H537.48ZM541.69 564.5H545V569.5H541.69ZM577.5 564.5H580.17V570H577.5ZM580.97 564.5H583.63V570H580.97ZM584.43 564.5H587.1V570H584.43ZM587.9 564.5H590.57V570H587.9ZM591.37 564.5H594.03V570H591.37ZM594.83 564.5H597.5V570H594.83ZM608.75 564.5H611.33V570H608.75ZM611.92 564.5H614.5V570H611.92ZM627 543.5H632V545.5H627ZM680 543.5H685V545.5H680ZM618.75 568.75H623.05V572.26H618.75ZM618.75 573.16H623.05V576.66H618.75ZM618.75 577.56H623.05V581.07H618.75ZM618.75 581.97H623.05V585.47H618.75ZM618.75 586.37H623.05V589.88H618.75ZM618.75 590.78H623.05V594.28H618.75ZM618.75 595.18H623.05V598.69H618.75ZM618.75 599.59H623.05V603.09H618.75ZM618.75 603.99H623.05V607.5H618.75ZM623.95 568.75H628.25V572.26H623.95ZM623.95 573.16H628.25V576.66H623.95ZM623.95 577.56H628.25V581.07H623.95ZM623.95 581.97H628.25V585.47H623.95ZM623.95 586.37H628.25V589.88H623.95ZM623.95 590.78H628.25V594.28H623.95ZM623.95 595.18H628.25V598.69H623.95ZM623.95 599.59H628.25V603.09H623.95ZM623.95 603.99H628.25V607.5H623.95ZM629.5 584H631.5V589.5H629.5ZM617 609H621V613H617ZM568.75 577H571.48V582.05H568.75ZM568.75 582.85H571.48V587.9H568.75ZM568.75 588.7H571.48V593.75H568.75ZM572.27 577H575V582.05H572.27ZM572.27 582.85H575V587.9H572.27ZM572.27 588.7H575V593.75H572.27ZM575.5 580H578.08V584.7H575.5ZM575.5 585.3H578.08V590H575.5ZM578.67 580H581.25V584.7H578.67ZM578.67 585.3H581.25V590H578.67ZM571 594H573.8V599H571ZM574.6 594H577.4V599H574.6ZM578.2 594H581V599H578.2ZM555 586.25H560.8V589.92H555ZM555 590.83H560.8V594.5H555ZM561.7 586.25H567.5V589.92H561.7ZM561.7 590.83H567.5V594.5H561.7ZM549.5 591H555V593.5H549.5ZM544.5 572.5H547V580H544.5ZM549.5 574.5H555V576.5H549.5ZM585 605.75H588.12V609.67H585ZM585 610.58H588.12V614.5H585ZM589.02 605.75H592.14V609.67H589.02ZM589.02 610.58H592.14V614.5H589.02ZM593.04 605.75H596.16V609.67H593.04ZM593.04 610.58H596.16V614.5H593.04ZM597.06 605.75H600.17V609.67H597.06ZM597.06 610.58H600.17V614.5H597.06ZM601.08 605.75H604.19V609.67H601.08ZM601.08 610.58H604.19V614.5H601.08ZM605.09 605.75H608.21V609.67H605.09ZM605.09 610.58H608.21V614.5H605.09ZM609.11 605.75H612.23V609.67H609.11ZM609.11 610.58H612.23V614.5H609.11ZM613.13 605.75H616.25V609.67H613.13ZM613.13 610.58H616.25V614.5H613.13ZM567 600H571.2V604.03H567ZM567 605.23H571.2V609.27H567ZM567 610.47H571.2V614.5H567ZM572.4 600H576.6V604.03H572.4ZM572.4 605.23H576.6V609.27H572.4ZM572.4 610.47H576.6V614.5H572.4ZM577.8 600H582V604.03H577.8ZM577.8 605.23H582V609.27H577.8ZM577.8 610.47H582V614.5H577.8ZM567 600H573V602H567ZM577 600H582V602H577ZM503 570H505.27V575.27H503ZM503 575.98H505.27V581.25H503ZM505.98 570H508.25V575.27H505.98ZM505.98 575.98H508.25V581.25H505.98ZM499.5 585.5H503.5V595H499.5ZM496.25 588H507.5V592.5H496.25ZM484.5 580.75H489.5V586.25H484.5ZM475.5 591.25H479.5V608.75H475.5ZM472 598H483V603H472ZM473.5 594.5H481.5V597H473.5ZM473.5 604H481.5V606.5H473.5ZM502.5 596.25H504.65V600.27H502.5ZM502.5 600.98H504.65V605H502.5ZM505.35 596.25H507.5V600.27H505.35ZM505.35 600.98H507.5V605H505.35ZM509 604H512V608H509ZM513 607H519V609.5H513ZM525.7 609H528.8V614H525.7ZM533.2 609H536.3V614H533.2ZM525 618.75H528.75V626.25H525ZM543.75 601.25H552.5V605H543.75ZM543.75 613.75H546.25V618.75H543.75ZM556.25 612H562.5V615H556.25ZM545 623.75H549V628.75H545ZM552 623.75H556V628.75H552ZM559 623.75H563V628.75H559ZM566 623.75H570V628.75H566ZM540 632.5H547V634.7H540ZM540 635.7H547V637.9H540ZM540 638.9H547V641.1H540ZM540 642.1H547V644.3H540ZM540 645.3H547V647.5H540ZM566 632.5H572.5V634.7H566ZM566 635.7H572.5V637.9H566ZM566 638.9H572.5V641.1H566ZM566 642.1H572.5V644.3H566ZM566 645.3H572.5V647.5H566ZM554 638.5H558.5V640.3H554ZM562.6 647a0.9 0.9 0 1 1 1.8 0a0.9 0.9 0 1 1 -1.8 0ZM578.25 628.75H583.75V630.75H578.25ZM603.25 617.5H606.33V622H603.25ZM606.92 617.5H610V622H606.92ZM610 626.25H613.45V630H610ZM614.05 626.25H617.5V630H614.05ZM617.5 614.5H620.55V617.82H617.5ZM617.5 618.72H620.55V622.03H617.5ZM617.5 622.93H620.55V626.25H617.5ZM621.45 614.5H624.5V617.82H621.45ZM621.45 618.72H624.5V622.03H621.45ZM621.45 622.93H624.5V626.25H621.45ZM617 604L619 604L621 610L619 610ZM633.65 600.5a2.6 2 0 1 1 5.2 0a2.6 2 0 1 1 -5.2 0ZM659.4 586.75a2.6 2 0 1 1 5.2 0a2.6 2 0 1 1 -5.2 0ZM651 585.8H656V587.6H651ZM651.8 612.5H653.2V616.5H651.8ZM633.75 613.25H636.95V617H633.75ZM637.55 613.25H640.75V617H637.55ZM636 618.5H641V620.75H636ZM703.95 576.3H705.55V580.7H703.95ZM668.75 564.5H672.33V569.5H668.75ZM672.92 564.5H676.5V569.5H672.92ZM678.5 564.5H681.5V570H678.5ZM669 571H676V573.5H669ZM667.5 575H671V578.7H667.5ZM667.5 579.3H671V583H667.5ZM672.5 578.5H679V581.5H672.5ZM679.5 584H682.5V592H679.5ZM726.25 578.25H732.5V580.75H726.25ZM727.5 589.5H730.9V591.9H727.5ZM727.5 592.6H730.9V595H727.5ZM731.6 589.5H735V591.9H731.6ZM731.6 592.6H735V595H731.6ZM726.5 599.5H731.5V602H726.5ZM732.5 597H734.5V604H732.5ZM691.25 616.25H697V618.25H691.25ZM705 631.25H708.45V635H705ZM709.05 631.25H712.5V635H709.05ZM718 630H720V635.5H718ZM739.25 617H741.25V622.5H739.25ZM670 644.25H675V646.75H670ZM676.25 649.25H681.25V651.75H676.25ZM762.5 621.5H764V623.5H762.5ZM763.75 628.25H768.75V630H763.75ZM781 602.5H785.5V605.5H781ZM774.5 588.75H778.2V592.5H774.5ZM778.8 588.75H782.5V592.5H778.8ZM788 588.75H791.75V592.58H788ZM788 593.17H791.75V597H788ZM775 570H780.75V572.5H775ZM598 680.5H599.6V685.5H598ZM831 665H834.5V666.3H831ZM923.75 644.5a2.5 2 0 1 1 5 0a2.5 2 0 1 1 -5 0ZM924.5 656.25a2.5 2 0 1 1 5 0a2.5 2 0 1 1 -5 0ZM961.25 663.75a2.5 2 0 1 1 5 0a2.5 2 0 1 1 -5 0ZM1036.25 677.5a2.5 2 0 1 1 5 0a2.5 2 0 1 1 -5 0ZM1151.25 695a2.5 2 0 1 1 5 0a2.5 2 0 1 1 -5 0ZM928.25 666.25H930.51V671.25H928.25ZM931.41 666.25H933.68V671.25H931.41ZM934.58 666.25H936.84V671.25H934.58ZM937.74 666.25H940V671.25H937.74ZM933.55 676.56H934.95V679.16H933.55ZM962.5 687.5H964.83V693H962.5ZM965.73 687.5H968.05V693H965.73ZM968.95 687.5H971.28V693H968.95ZM972.17 687.5H974.5V693H972.17ZM967.8 698.19H969.2V700.79H967.8ZM1114.25 699.5H1116.37V704.5H1114.25ZM1117.27 699.5H1119.39V704.5H1117.27ZM1120.29 699.5H1122.41V704.5H1120.29ZM1123.31 699.5H1125.43V704.5H1123.31ZM1126.33 699.5H1128.44V704.5H1126.33ZM1129.34 699.5H1131.46V704.5H1129.34ZM1132.36 699.5H1134.48V704.5H1132.36ZM1135.38 699.5H1137.5V704.5H1135.38ZM1125.17 708.81H1126.58V711.41H1125.17ZM953 661.25H955.2V669H953ZM955.8 661.25H958V669H955.8ZM958 672H961.5V674H958ZM957.5 676.5H962.5V679H957.5ZM965 673H967V679H965ZM967.5 674H969.75V680H967.5ZM970.25 674H972.5V680H970.25ZM976.5 670H979.6V674.6H976.5ZM976.5 675.4H979.6V680H976.5ZM980.4 670H983.5V674.6H980.4ZM980.4 675.4H983.5V680H980.4ZM988 673.5H990.58V680H988ZM991.17 673.5H993.75V680H991.17ZM984 668H986V674H984ZM996.95 643.05H998.55V647.45H996.95ZM1040.45 643.05H1042.05V647.45H1040.45ZM1108.42 664.67H1111.83V666.08H1108.42ZM1072.17 698.67H1075.58V700.08H1072.17ZM1080.1 653a0.9 0.9 0 1 1 1.8 0a0.9 0.9 0 1 1 -1.8 0ZM1140.1 654a0.9 0.9 0 1 1 1.8 0a0.9 0.9 0 1 1 -1.8 0ZM1103.1 711a0.9 0.9 0 1 1 1.8 0a0.9 0.9 0 1 1 -1.8 0ZM1042.9 711a0.9 0.9 0 1 1 1.8 0a0.9 0.9 0 1 1 -1.8 0ZM1078.25 607H1081.9V611.27H1078.25ZM1078.25 611.98H1081.9V616.25H1078.25ZM1082.6 607H1086.25V611.27H1082.6ZM1082.6 611.98H1086.25V616.25H1082.6ZM1098.75 610H1100.75V616H1098.75ZM1090 619H1095V621.5H1090ZM1105 612.5H1110.03V616.25H1105ZM1111.23 612.5H1116.27V616.25H1111.23ZM1117.47 612.5H1122.5V616.25H1117.47ZM1127.5 613H1133V615.3H1127.5ZM1137 607.5H1142.5V610H1137ZM1096 624.5H1101V627H1096ZM1096 632H1101V634.5H1096ZM1107.5 619.5H1110.67V623.02H1107.5ZM1107.5 623.62H1110.67V627.13H1107.5ZM1107.5 627.73H1110.67V631.25H1107.5ZM1111.28 619.5H1114.45V623.02H1111.28ZM1111.28 623.62H1114.45V627.13H1111.28ZM1111.28 627.73H1114.45V631.25H1111.28ZM1115.05 619.5H1118.22V623.02H1115.05ZM1115.05 623.62H1118.22V627.13H1115.05ZM1115.05 627.73H1118.22V631.25H1115.05ZM1118.83 619.5H1122V623.02H1118.83ZM1118.83 623.62H1122V627.13H1118.83ZM1118.83 627.73H1122V631.25H1118.83ZM1127.5 617.5H1130.8V621.27H1127.5ZM1127.5 621.87H1130.8V625.63H1127.5ZM1127.5 626.23H1130.8V630H1127.5ZM1131.4 617.5H1134.7V621.27H1131.4ZM1131.4 621.87H1134.7V625.63H1131.4ZM1131.4 626.23H1134.7V630H1131.4ZM1135.3 617.5H1138.6V621.27H1135.3ZM1135.3 621.87H1138.6V625.63H1135.3ZM1135.3 626.23H1138.6V630H1135.3ZM1139.2 617.5H1142.5V621.27H1139.2ZM1139.2 621.87H1142.5V625.63H1139.2ZM1139.2 626.23H1142.5V630H1139.2ZM1151.5 614.5H1156V617.3H1151.5ZM1151.5 622.3H1156V625.2H1151.5ZM1152 627.5H1157.5V630H1152ZM1127 633H1132.47V636.75H1127ZM1133.27 633H1138.73V636.75H1133.27ZM1139.53 633H1145V636.75H1139.53ZM1112 634H1118V636.3H1112ZM1150 630.5H1152V636H1150ZM1085 642H1087.62V648H1085ZM1088.12 642H1090.75V648H1088.12ZM1107.5 641.25H1110.33V646.25H1107.5ZM1110.92 641.25H1113.75V646.25H1110.92ZM1123.75 641.25H1128V643.5H1123.75ZM1124.5 643.8H1128.2V647.5H1124.5ZM1128.8 643.8H1132.5V647.5H1128.8ZM1153.25 642H1155.75V648H1153.25ZM1156.25 642H1158.75V648H1156.25ZM1154.5 659.5H1157V665H1154.5ZM1157.5 659.5H1160V665H1157.5ZM1153.75 677.5H1160V683.75H1153.75ZM1068.75 655.75H1074.5V658.25H1068.75ZM1073.75 672H1076.58V674.7H1073.75ZM1073.75 675.3H1076.58V678H1073.75ZM1077.17 672H1080V674.7H1077.17ZM1077.17 675.3H1080V678H1077.17ZM1100 683.75H1103.15V689.25H1100ZM1103.95 683.75H1107.1V689.25H1103.95ZM1107.9 683.75H1111.05V689.25H1107.9ZM1111.85 683.75H1115V689.25H1111.85ZM1126.75 683H1129.63V688H1126.75ZM1130.43 683H1133.32V688H1130.43ZM1134.12 683H1137V688H1134.12ZM1045 676.75H1048.27V681.25H1045ZM1048.87 676.75H1052.13V681.25H1048.87ZM1052.73 676.75H1056V681.25H1052.73ZM1056 679.5H1060.5V681.5H1056ZM1073.75 717H1076V722.5H1073.75ZM1078 717H1080.95V722.5H1078ZM1081.55 717H1084.5V722.5H1081.55ZM1150.75 701.25H1153V706.25H1150.75ZM1153.5 701.25H1155.75V706.25H1153.5ZM1201.3 602a0.7 0.7 0 1 1 1.4 0a0.7 0.7 0 1 1 -1.4 0ZM1201.3 720.5a0.7 0.7 0 1 1 1.4 0a0.7 0.7 0 1 1 -1.4 0ZM1190 659.5H1191.5V664H1190ZM1692.3 177.5H1693.5V181H1692.3ZM1694.5 177.5H1695.7V181H1694.5ZM1618.5 141.5H1620.75V147.5H1618.5ZM1621.25 141.5H1623.5V147.5H1621.25ZM1639.5 137H1642.45V141H1639.5ZM1643.05 137H1646V141H1643.05ZM1633 154.5H1634.3V158H1633ZM1618 156H1620.5V161H1618ZM1621 156H1623.5V161H1621ZM1645.5 156H1648.5V159.45H1645.5ZM1645.5 160.05H1648.5V163.5H1645.5ZM1604.37 172.1H1607.13V175.5H1604.37ZM1618.2 176.5H1621.3V181H1618.2ZM1644.54 183.8H1646.46V186.2H1644.54ZM1631.42 188.8H1633.58V191.7H1631.42ZM1643.61 194.3H1645.89V196.7H1643.61ZM1651.8 196.2a0.7 0.7 0 1 1 1.4 0a0.7 0.7 0 1 1 -1.4 0ZM1618.5 187H1622V190.5H1618.5ZM1622.5 187H1626V190.5H1622.5ZM1621 192.5H1625V194.5H1621ZM1626 194H1632V196.5H1626ZM1616.5 200.5H1619V205H1616.5ZM1624 199.5H1626.5V204.5H1624ZM1609.7 218.5H1612.8V222.5H1609.7ZM1625.9 223.3a2.5 2 0 1 1 5 0a2.5 2 0 1 1 -5 0ZM1641.8 230.8a2.5 2 0 1 1 5 0a2.5 2 0 1 1 -5 0ZM1608.5 242.1a2.5 2 0 1 1 5 0a2.5 2 0 1 1 -5 0ZM1634.5 214.5H1636.5V220.5H1634.5ZM1637 214H1643V216.5H1637ZM1635 221.5H1637V226H1635ZM1635.5 227H1637.5V232H1635.5ZM1642 220H1648.5V222H1642ZM1613.5 229.5H1616.5V233H1613.5ZM1617 229.5H1620V233H1617ZM1615 234H1618.5V236H1615ZM1622.6 238H1625V242H1622.6ZM1645.5 259.3H1648.8V260.5H1645.5ZM1712.2 283a0.8 0.8 0 1 1 1.6 0a0.8 0.8 0 1 1 -1.6 0ZM1712.2 326.6a0.8 0.8 0 1 1 1.6 0a0.8 0.8 0 1 1 -1.6 0ZM1710.9 398.8a0.8 0.8 0 1 1 1.6 0a0.8 0.8 0 1 1 -1.6 0ZM1710.9 441.6a0.8 0.8 0 1 1 1.6 0a0.8 0.8 0 1 1 -1.6 0ZM1712 299H1716V303H1712ZM1695.8 293H1699V297.5H1695.8ZM1690 286.4H1692.2V291.5H1690ZM1694.6 303.2H1698.6V308.2H1694.6ZM1694.6 310.3H1699.6V313.3H1694.6ZM1690.8 319H1696.8V321.5H1690.8ZM1704.7 315.3H1707.9V319.8H1704.7ZM1708.5 315.3H1711.7V319.8H1708.5ZM1714.7 314H1717.13V316.6H1714.7ZM1714.7 317.1H1717.13V319.7H1714.7ZM1714.7 320.2H1717.13V322.8H1714.7ZM1717.63 314H1720.07V316.6H1717.63ZM1717.63 317.1H1720.07V319.7H1717.63ZM1717.63 320.2H1720.07V322.8H1717.63ZM1720.57 314H1723V316.6H1720.57ZM1720.57 317.1H1723V319.7H1720.57ZM1720.57 320.2H1723V322.8H1720.57ZM1715.5 336.7H1718.2V342.2H1715.5ZM1718.8 336.7H1721.5V342.2H1718.8ZM1648.3 367.8H1652V369.8H1648.3ZM1632 356.84H1634.7V358.76H1632ZM1632 365.89H1634.7V367.71H1632ZM1631.8 379.2a1.5 2.2 0 1 1 3 0a1.5 2.2 0 1 1 -3 0ZM1636.7 354.3H1639.07V358.6H1636.7ZM1639.67 354.3H1642.03V358.6H1639.67ZM1642.63 354.3H1645V358.6H1642.63ZM1640.5 379H1643.87V381.4H1640.5ZM1644.47 379H1647.83V381.4H1644.47ZM1648.43 379H1651.8V381.4H1648.43ZM1609.8 389.5H1613V394H1609.8ZM1619.5 387H1623.3V390H1619.5ZM1619.5 394.6H1623.3V397.6H1619.5ZM1616.6 400.3H1618.85V402.55H1616.6ZM1616.6 403.05H1618.85V405.3H1616.6ZM1619.35 400.3H1621.6V402.55H1619.35ZM1619.35 403.05H1621.6V405.3H1619.35ZM1613.4 410.5H1616.7V415H1613.4ZM1625.9 414.7H1629.5V418.4H1625.9ZM1630.1 414.7H1633.7V418.4H1630.1ZM1637.5 416.7H1643V419.7H1637.5ZM1647.3 416.7H1653.1V419.7H1647.3ZM1655.1 413.4H1661.4V416.7H1655.1ZM1647.5 421.7H1653.1V424.7H1647.5ZM1662.6 387H1666.8V391.3H1662.6ZM1662.6 392.2H1666.8V396.5H1662.6ZM1667.7 387H1671.9V391.3H1667.7ZM1667.7 392.2H1671.9V396.5H1667.7ZM1672.8 387H1677V391.3H1672.8ZM1672.8 392.2H1677V396.5H1672.8ZM1680 391.5H1683.8V395.8H1680ZM1680 396.5H1683.8V400.8H1680ZM1665.2 398.3H1669V402.3H1665.2ZM1665.2 403.1H1669V407.1H1665.2ZM1669.8 398.3H1673.6V402.3H1669.8ZM1669.8 403.1H1673.6V407.1H1669.8ZM1674.4 398.3H1678.2V402.3H1674.4ZM1674.4 403.1H1678.2V407.1H1674.4ZM1679.5 400.8H1682.47V404.65H1679.5ZM1679.5 405.25H1682.47V409.1H1679.5ZM1683.07 400.8H1686.03V404.65H1683.07ZM1683.07 405.25H1686.03V409.1H1683.07ZM1686.63 400.8H1689.6V404.65H1686.63ZM1686.63 405.25H1689.6V409.1H1686.63ZM1658.9 404.1H1661.4V409.5H1658.9ZM1678.2 420.2H1684V422.7H1678.2ZM1714 382.7H1719V385.7H1714ZM1719.8 382.7H1724.8V385.7H1719.8ZM1702.9 405.1H1705.4V411H1702.9ZM1715.2 412.1H1719.7V419.7H1715.2ZM1711.7 424.3H1722.3V428.5H1711.7ZM1714.2 421.7H1719.5V431H1714.2ZM1714.2 432.3H1716.95V437.3H1714.2ZM1717.55 432.3H1720.3V437.3H1717.55ZM1702.9 426H1705.4V432H1702.9ZM1658.9 426H1661.5V431H1658.9ZM1662.3 426H1664.9V431H1662.3ZM1670.7 425.2H1672.95V430.3H1670.7ZM1673.45 425.2H1675.7V430.3H1673.45ZM1647.4 431.5H1650.2V435.5H1647.4ZM1669 437.5H1674.5V439.5H1669ZM1685 441H1687.5V447H1685ZM1631.7 432.8H1634.2V438.5H1631.7ZM1607.4 443.1a2.4 1.8 0 1 1 4.8 0a2.4 1.8 0 1 1 -4.8 0ZM1623.8 454.4a2.4 1.8 0 1 1 4.8 0a2.4 1.8 0 1 1 -4.8 0ZM1656.2 458.2a2.4 1.8 0 1 1 4.8 0a2.4 1.8 0 1 1 -4.8 0ZM1620.4 443.1H1626.2V445.3H1620.4ZM1627.2 443.1H1633V445.3H1627.2ZM1635.5 443.1H1638.2V448.6H1635.5ZM1639.1 443.1H1641.8V448.6H1639.1ZM1603.3 456.2H1605.8V461.45H1603.3ZM1603.3 462.25H1605.8V467.5H1603.3ZM1610.3 456.2H1612.8V461.45H1610.3ZM1610.3 462.25H1612.8V467.5H1610.3ZM1660.5 456.5H1662.8V462.35H1660.5ZM1660.5 463.15H1662.8V469H1660.5ZM1666.9 462H1669.84V464.66H1666.9ZM1666.9 465.56H1669.84V468.23H1666.9ZM1666.9 469.12H1669.84V471.79H1666.9ZM1666.9 472.69H1669.84V475.35H1666.9ZM1666.9 476.25H1669.84V478.91H1666.9ZM1666.9 479.81H1669.84V482.48H1666.9ZM1666.9 483.38H1669.84V486.04H1666.9ZM1666.9 486.94H1669.84V489.6H1666.9ZM1670.74 462H1673.68V464.66H1670.74ZM1670.74 465.56H1673.68V468.23H1670.74ZM1670.74 469.12H1673.68V471.79H1670.74ZM1670.74 472.69H1673.68V475.35H1670.74ZM1670.74 476.25H1673.68V478.91H1670.74ZM1670.74 479.81H1673.68V482.48H1670.74ZM1670.74 483.38H1673.68V486.04H1670.74ZM1670.74 486.94H1673.68V489.6H1670.74ZM1674.58 462H1677.52V464.66H1674.58ZM1674.58 465.56H1677.52V468.23H1674.58ZM1674.58 469.12H1677.52V471.79H1674.58ZM1674.58 472.69H1677.52V475.35H1674.58ZM1674.58 476.25H1677.52V478.91H1674.58ZM1674.58 479.81H1677.52V482.48H1674.58ZM1674.58 483.38H1677.52V486.04H1674.58ZM1674.58 486.94H1677.52V489.6H1674.58ZM1678.42 462H1681.36V464.66H1678.42ZM1678.42 465.56H1681.36V468.23H1678.42ZM1678.42 469.12H1681.36V471.79H1678.42ZM1678.42 472.69H1681.36V475.35H1678.42ZM1678.42 476.25H1681.36V478.91H1678.42ZM1678.42 479.81H1681.36V482.48H1678.42ZM1678.42 483.38H1681.36V486.04H1678.42ZM1678.42 486.94H1681.36V489.6H1678.42ZM1682.26 462H1685.2V464.66H1682.26ZM1682.26 465.56H1685.2V468.23H1682.26ZM1682.26 469.12H1685.2V471.79H1682.26ZM1682.26 472.69H1685.2V475.35H1682.26ZM1682.26 476.25H1685.2V478.91H1682.26ZM1682.26 479.81H1685.2V482.48H1682.26ZM1682.26 483.38H1685.2V486.04H1682.26ZM1682.26 486.94H1685.2V489.6H1682.26ZM1626.85 495.3H1630.25V496.7H1626.85ZM1626.4 475H1631.6V477.3H1626.4ZM1598.5 496H1601.3V500.6H1598.5ZM1611.5 535.95H1612.9V539.35H1611.5ZM1637.5 519.5H1639.8V521.45H1637.5ZM1637.5 522.05H1639.8V524H1637.5ZM1640.4 519.5H1642.7V521.45H1640.4ZM1640.4 522.05H1642.7V524H1640.4ZM1643.3 519.5H1645.6V521.45H1643.3ZM1643.3 522.05H1645.6V524H1643.3ZM1646.2 519.5H1648.5V521.45H1646.2ZM1646.2 522.05H1648.5V524H1646.2ZM1642.5 526H1643.8V529H1642.5ZM1637.8 547.1a2.4 2 0 1 1 4.8 0a2.4 2 0 1 1 -4.8 0ZM1631.9 556.6a2.4 2 0 1 1 4.8 0a2.4 2 0 1 1 -4.8 0ZM1645.7 555.7a2.4 2 0 1 1 4.8 0a2.4 2 0 1 1 -4.8 0ZM1641.5 562.7H1644.1V567.3H1641.5ZM1645 562.7H1647.6V567.3H1645ZM1678.1 553.5H1679.5V558H1678.1ZM1669.7 532.5a0.8 0.8 0 1 1 1.6 0a0.8 0.8 0 1 1 -1.6 0ZM1573.9 560.5H1575.3V565H1573.9ZM1582.7 586.5a0.8 0.8 0 1 1 1.6 0a0.8 0.8 0 1 1 -1.6 0ZM1678.4 509.5H1681V511.58H1678.4ZM1678.4 512.28H1681V514.37H1678.4ZM1678.4 515.07H1681V517.15H1678.4ZM1678.4 517.85H1681V519.93H1678.4ZM1678.4 520.63H1681V522.72H1678.4ZM1678.4 523.42H1681V525.5H1678.4ZM1696.4 509.5H1699V511.58H1696.4ZM1696.4 512.28H1699V514.37H1696.4ZM1696.4 515.07H1699V517.15H1696.4ZM1696.4 517.85H1699V519.93H1696.4ZM1696.4 520.63H1699V522.72H1696.4ZM1696.4 523.42H1699V525.5H1696.4ZM1681.5 507H1683.84V509.3H1681.5ZM1684.54 507H1686.88V509.3H1684.54ZM1687.58 507H1689.92V509.3H1687.58ZM1690.62 507H1692.96V509.3H1690.62ZM1693.66 507H1696V509.3H1693.66ZM1681.5 525.3H1683.84V527.5H1681.5ZM1684.54 525.3H1686.88V527.5H1684.54ZM1687.58 525.3H1689.92V527.5H1687.58ZM1690.62 525.3H1692.96V527.5H1690.62ZM1693.66 525.3H1696V527.5H1693.66ZM1681.5 502.5H1684.9V505.2H1681.5ZM1685.5 502.5H1688.9V505.2H1685.5ZM1693 498.8H1697.5V500.8H1693ZM1691.7 501.5H1694.85V505.2H1691.7ZM1695.45 501.5H1698.6V505.2H1695.45ZM1672.5 496.5H1674.5V501.5H1672.5ZM1675.7 499.7H1677.7V505H1675.7ZM1659.1 506.5H1662.5V510.4H1659.1ZM1663.1 506.5H1666.5V510.4H1663.1ZM1668.7 502H1670.95V506.05H1668.7ZM1668.7 506.65H1670.95V510.7H1668.7ZM1671.55 502H1673.8V506.05H1671.55ZM1671.55 506.65H1673.8V510.7H1671.55ZM1663.2 513.5H1668.5V516H1663.2ZM1664.5 516.8H1667.55V520.3H1664.5ZM1668.05 516.8H1671.1V520.3H1668.05ZM1665 524H1669.5V526.5H1665ZM1658.2 522.7H1660V527.6H1658.2ZM1578.7 515.3H1582.15V519.75H1578.7ZM1578.7 520.55H1582.15V525H1578.7ZM1578.7 525.8H1582.15V530.25H1578.7ZM1578.7 531.05H1582.15V535.5H1578.7ZM1582.95 515.3H1586.4V519.75H1582.95ZM1582.95 520.55H1586.4V525H1582.95ZM1582.95 525.8H1586.4V530.25H1582.95ZM1582.95 531.05H1586.4V535.5H1582.95ZM1588.2 513.5H1590.6V518.6H1588.2ZM1544.3 537.4H1547.95V541.63H1544.3ZM1544.3 542.43H1547.95V546.67H1544.3ZM1544.3 547.47H1547.95V551.7H1544.3ZM1548.75 537.4H1552.4V541.63H1548.75ZM1548.75 542.43H1552.4V546.67H1548.75ZM1548.75 547.47H1552.4V551.7H1548.75ZM1545.6 532.8H1551.1V535.2H1545.6ZM1527.3 560H1530V562.04H1527.3ZM1527.3 562.74H1530V564.78H1527.3ZM1527.3 565.48H1530V567.52H1527.3ZM1527.3 568.22H1530V570.26H1527.3ZM1527.3 570.96H1530V573H1527.3ZM1544.4 560H1547.1V562.04H1544.4ZM1544.4 562.74H1547.1V564.78H1544.4ZM1544.4 565.48H1547.1V567.52H1544.4ZM1544.4 568.22H1547.1V570.26H1544.4ZM1544.4 570.96H1547.1V573H1544.4ZM1531 556.1H1533.02V558.6H1531ZM1533.62 556.1H1535.64V558.6H1533.62ZM1536.24 556.1H1538.26V558.6H1536.24ZM1538.86 556.1H1540.88V558.6H1538.86ZM1541.48 556.1H1543.5V558.6H1541.48ZM1531 574.3H1533.02V576.8H1531ZM1533.62 574.3H1535.64V576.8H1533.62ZM1536.24 574.3H1538.26V576.8H1536.24ZM1538.86 574.3H1540.88V576.8H1538.86ZM1541.48 574.3H1543.5V576.8H1541.48ZM1533.5 568.7H1541V570.3H1533.5ZM1517.2 553H1519.53V556.2H1517.2ZM1517.2 556.8H1519.53V560H1517.2ZM1520.13 553H1522.47V556.2H1520.13ZM1520.13 556.8H1522.47V560H1520.13ZM1523.07 553H1525.4V556.2H1523.07ZM1523.07 556.8H1525.4V560H1523.07ZM1523 567.5H1525.5V573.5H1523ZM1517 572.5H1519V577.5H1517ZM1520 575H1525V577.2H1520ZM1509.4 560.3H1511.55V562.23H1509.4ZM1509.4 562.93H1511.55V564.87H1509.4ZM1509.4 565.57H1511.55V567.5H1509.4ZM1509.4 568.2H1511.55V570.13H1509.4ZM1509.4 570.83H1511.55V572.77H1509.4ZM1509.4 573.47H1511.55V575.4H1509.4ZM1509.4 576.1H1511.55V578.03H1509.4ZM1509.4 578.73H1511.55V580.67H1509.4ZM1509.4 581.37H1511.55V583.3H1509.4ZM1512.25 560.3H1514.4V562.23H1512.25ZM1512.25 562.93H1514.4V564.87H1512.25ZM1512.25 565.57H1514.4V567.5H1512.25ZM1512.25 568.2H1514.4V570.13H1512.25ZM1512.25 570.83H1514.4V572.77H1512.25ZM1512.25 573.47H1514.4V575.4H1512.25ZM1512.25 576.1H1514.4V578.03H1512.25ZM1512.25 578.73H1514.4V580.67H1512.25ZM1512.25 581.37H1514.4V583.3H1512.25ZM1506 571H1507.2V575H1506ZM1606.4 580H1608.33V585.4H1606.4ZM1608.93 580H1610.87V585.4H1608.93ZM1611.47 580H1613.4V585.4H1611.47ZM1614 580H1615.93V585.4H1614ZM1616.53 580H1618.47V585.4H1616.53ZM1619.07 580H1621V585.4H1619.07ZM1621.6 580H1623.53V585.4H1621.6ZM1624.13 580H1626.07V585.4H1624.13ZM1626.67 580H1628.6V585.4H1626.67ZM1615.5 574.5H1619V575.8H1615.5ZM1620.8 565a0.7 0.7 0 1 1 1.4 0a0.7 0.7 0 1 1 -1.4 0ZM1519.5 578.5H1522.5V582H1519.5ZM1523 578.5H1526V582H1523ZM1528 578.5H1530.83V582H1528ZM1531.33 578.5H1534.17V582H1531.33ZM1534.67 578.5H1537.5V582H1534.67ZM1521 583.5H1526V586H1521ZM1525.5 586.5H1528V592H1525.5ZM1532 585.5H1534.67V591H1532ZM1535.17 585.5H1537.83V591H1535.17ZM1538.33 585.5H1541V591H1538.33ZM1548.7 584H1551.8V589H1548.7ZM1543.5 582H1546V590H1543.5ZM1554 588.5H1559.5V591H1554ZM1505.5 602H1508.9V607.5H1505.5ZM1512.6 602H1516V607.5H1512.6ZM1520.7 600.2H1524.7V608.2H1520.7ZM1487.5 614.3H1495.5V617H1487.5ZM1490.5 621H1494V624.2H1490.5ZM1506.9 617.8H1508.37V621.9H1506.9ZM1508.87 617.8H1510.33V621.9H1508.87ZM1510.83 617.8H1512.3V621.9H1510.83ZM1512.8 617.8H1514.27V621.9H1512.8ZM1514.77 617.8H1516.23V621.9H1514.77ZM1516.73 617.8H1518.2V621.9H1516.73ZM1518.7 617.8H1520.17V621.9H1518.7ZM1520.67 617.8H1522.13V621.9H1520.67ZM1522.63 617.8H1524.1V621.9H1522.63ZM1506.9 645.7H1508.37V649.8H1506.9ZM1508.87 645.7H1510.33V649.8H1508.87ZM1510.83 645.7H1512.3V649.8H1510.83ZM1512.8 645.7H1514.27V649.8H1512.8ZM1514.77 645.7H1516.23V649.8H1514.77ZM1516.73 645.7H1518.2V649.8H1516.73ZM1518.7 645.7H1520.17V649.8H1518.7ZM1520.67 645.7H1522.13V649.8H1520.67ZM1522.63 645.7H1524.1V649.8H1522.63ZM1502.6 622.1H1506.7V624.26H1502.6ZM1502.6 624.76H1506.7V626.91H1502.6ZM1502.6 627.41H1506.7V629.57H1502.6ZM1502.6 630.07H1506.7V632.22H1502.6ZM1502.6 632.72H1506.7V634.88H1502.6ZM1502.6 635.38H1506.7V637.53H1502.6ZM1502.6 638.03H1506.7V640.19H1502.6ZM1502.6 640.69H1506.7V642.84H1502.6ZM1502.6 643.34H1506.7V645.5H1502.6ZM1524.3 622.1H1528.4V624.26H1524.3ZM1524.3 624.76H1528.4V626.91H1524.3ZM1524.3 627.41H1528.4V629.57H1524.3ZM1524.3 630.07H1528.4V632.22H1524.3ZM1524.3 632.72H1528.4V634.88H1524.3ZM1524.3 635.38H1528.4V637.53H1524.3ZM1524.3 638.03H1528.4V640.19H1524.3ZM1524.3 640.69H1528.4V642.84H1524.3ZM1524.3 643.34H1528.4V645.5H1524.3ZM1514.3 633.1H1516.7V634.5H1514.3ZM1514.6 630.5H1516V635.5H1514.6ZM1470.5 630H1476.5V632.3H1470.5ZM1479.3 632.5H1482.4V637.5H1479.3ZM1470 640.5H1475.5V644.85H1470ZM1470 645.65H1475.5V650H1470ZM1479.5 643H1483.65V651H1479.5ZM1484.85 643H1489V651H1484.85ZM1493.3 649.5H1498.5V652.5H1493.3ZM1533.5 657.7H1538.9V660.7H1533.5ZM1504.5 653.5H1512.5V656.5H1504.5ZM1519.5 654.5H1527.5V657.5H1519.5ZM1470.8 677.17H1475.5V680.13H1470.8ZM1478.1 677.17H1482.8V680.13H1478.1ZM1508.5 668.3H1511.58V671H1508.5ZM1512.47 668.3H1515.55V671H1512.47ZM1516.45 668.3H1519.53V671H1516.45ZM1520.42 668.3H1523.5V671H1520.42ZM1522.99 692.8H1525.71V697H1522.99ZM1522.99 700.3H1525.71V704.7H1522.99ZM1535 614.7H1539.75V618H1535ZM1540.25 614.7H1545V618H1540.25ZM1533.5 619H1535.5V621H1533.5ZM1537 621.3H1541.5V624.2H1537ZM1546 616H1550V620.4H1546ZM1546 621.2H1550V625.6H1546ZM1550.8 616H1554.8V620.4H1550.8ZM1550.8 621.2H1554.8V625.6H1550.8ZM1541.8 630.5H1545.6V636H1541.8ZM1535.2 631.5H1539.2V639.4H1535.2ZM1536.5 642.4H1541V645.4H1536.5ZM1568.2 599.2H1574V601.3H1568.2ZM1576 597.1H1579.1V602.3H1576ZM1597.7 606.4H1603.25V610.5H1597.7ZM1597.7 611.2H1603.25V615.3H1597.7ZM1603.95 606.4H1609.5V610.5H1603.95ZM1603.95 611.2H1609.5V615.3H1603.95ZM1588.1 618.4a2.4 1.8 0 1 1 4.8 0a2.4 1.8 0 1 1 -4.8 0ZM1570.2 619.2H1576V621.3H1570.2ZM1600.2 620.9H1602.85V625.6H1600.2ZM1603.35 620.9H1606V625.6H1603.35ZM1612.5 624.6H1617.3V627.4H1612.5ZM1612.5 628H1617.3V630.8H1612.5ZM1581.2 624H1586.8V629.1H1581.2ZM1570.2 627H1576V629.85H1570.2ZM1570.2 630.45H1576V633.3H1570.2ZM1564.5 635.3H1569.03V639.1H1564.5ZM1564.5 639.8H1569.03V643.6H1564.5ZM1569.73 635.3H1574.27V639.1H1569.73ZM1569.73 639.8H1574.27V643.6H1569.73ZM1574.97 635.3H1579.5V639.1H1574.97ZM1574.97 639.8H1579.5V643.6H1574.97ZM1591.9 634.7H1596.15V638.55H1591.9ZM1591.9 639.15H1596.15V643H1591.9ZM1596.75 634.7H1601V638.55H1596.75ZM1596.75 639.15H1601V643H1596.75ZM1604 634.7H1608.7V638.55H1604ZM1604 639.15H1608.7V643H1604ZM1609.3 634.7H1614V638.55H1609.3ZM1609.3 639.15H1614V643H1609.3ZM1635.2 605.8H1641V611.2H1635.2ZM1653.8 605.4H1658.6V610H1653.8ZM1655 610.5H1657V613H1655ZM1647.6 613.2H1652.5V615.7H1647.6ZM1659 613.2H1665.2V615.7H1659ZM1630 646.7a2.6 2 0 1 1 5.2 0a2.6 2 0 1 1 -5.2 0ZM1630 658a2.6 2 0 1 1 5.2 0a2.6 2 0 1 1 -5.2 0ZM1650.8 627.7a2.6 2 0 1 1 5.2 0a2.6 2 0 1 1 -5.2 0ZM1661.5 621.5a2.6 2 0 1 1 5.2 0a2.6 2 0 1 1 -5.2 0ZM1692.1 692a2.4 1.8 0 1 1 4.8 0a2.4 1.8 0 1 1 -4.8 0ZM1687 605.3a2.4 1.2 0 1 1 4.8 0a2.4 1.2 0 1 1 -4.8 0ZM1659.6 584.8H1662.72V592.6H1659.6ZM1663.42 584.8H1666.55V592.6H1663.42ZM1667.25 584.8H1670.38V592.6H1667.25ZM1671.08 584.8H1674.2V592.6H1671.08ZM1674.9 584.8H1678.02V592.6H1674.9ZM1678.72 584.8H1681.85V592.6H1678.72ZM1682.55 584.8H1685.67V592.6H1682.55ZM1686.38 584.8H1689.5V592.6H1686.38Z" fill="#000"/>
<path d="M1242.5 80H1273.8V111.3H1242.5ZM480.3 101H492.2V115.4H480.3ZM475.7 121.3H488.9M475.7 130H488.9M779.8 188.6H791.2V200H779.8ZM798.5 201.25H809V207H798.5ZM764.25 246.25H779V254.85H764.25ZM764.25 255.9H779V264.5H764.25ZM572 384.25H576.9V390.55H572ZM577.6 384.25H582.5V390.55H577.6ZM572 391.2H576.9V397.5H572ZM577.6 391.2H582.5V397.5H577.6ZM524.1 530.1H532V536.1H524.1ZM534.7 530.1H544.9V536.1H534.7ZM575.35 530.1H583.25V536.1H575.35ZM585.95 530.1H596.15V536.1H585.95ZM626.1 530.1H634V536.1H626.1ZM636.7 530.1H646.9V536.1H636.7ZM677.35 530.1H685.25V536.1H677.35ZM687.95 530.1H698.15V536.1H687.95ZM1035 232.5H1051.25V239.5H1035ZM1137.5 233H1148.5V241H1137.5ZM1171.6 287.2H1202.3V306.3H1171.6ZM881.6 592.1H889.5V598.1H881.6ZM892.2 592.1H902.4V598.1H892.2ZM929.85 592.1H937.75V598.1H929.85ZM940.45 592.1H950.65V598.1H940.45ZM979.1 590.6H987V596.6H979.1ZM989.7 590.6H999.9V596.6H989.7ZM1027.85 590.6H1035.75V596.6H1027.85ZM1038.45 590.6H1048.65V596.6H1038.45ZM170.75 616.25H187.5V626.25H170.75ZM203 684.5H212.5V702.5H203ZM240.75 708.5H258V717.5H240.75ZM261.5 688H271V696.5H261.5ZM190 714.25H201.25V720H190ZM413.75 645H441.25V662.5H413.75ZM545 548.25H574.5V565.5H545ZM1094.5 649.5H1125.75V681.25H1094.5ZM1058.25 683.75H1089.5V715H1058.25ZM1660.2 154.8a2.4 2.4 0 1 1 4.8 0a2.4 2.4 0 1 1 -4.8 0ZM1660.2 160.78a2.4 2.4 0 1 1 4.8 0a2.4 2.4 0 1 1 -4.8 0ZM1660.2 166.75a2.4 2.4 0 1 1 4.8 0a2.4 2.4 0 1 1 -4.8 0ZM1660.2 172.73a2.4 2.4 0 1 1 4.8 0a2.4 2.4 0 1 1 -4.8 0ZM1660.2 178.7a2.4 2.4 0 1 1 4.8 0a2.4 2.4 0 1 1 -4.8 0ZM1660.2 184.68a2.4 2.4 0 1 1 4.8 0a2.4 2.4 0 1 1 -4.8 0ZM1660.2 190.65a2.4 2.4 0 1 1 4.8 0a2.4 2.4 0 1 1 -4.8 0ZM1660.2 196.62a2.4 2.4 0 1 1 4.8 0a2.4 2.4 0 1 1 -4.8 0ZM1660.2 202.6a2.4 2.4 0 1 1 4.8 0a2.4 2.4 0 1 1 -4.8 0ZM1669.6 152.3a2.4 2.4 0 1 1 4.8 0a2.4 2.4 0 1 1 -4.8 0ZM1669.6 158.29a2.4 2.4 0 1 1 4.8 0a2.4 2.4 0 1 1 -4.8 0ZM1669.6 164.28a2.4 2.4 0 1 1 4.8 0a2.4 2.4 0 1 1 -4.8 0ZM1669.6 170.27a2.4 2.4 0 1 1 4.8 0a2.4 2.4 0 1 1 -4.8 0ZM1669.6 176.26a2.4 2.4 0 1 1 4.8 0a2.4 2.4 0 1 1 -4.8 0ZM1669.6 182.25a2.4 2.4 0 1 1 4.8 0a2.4 2.4 0 1 1 -4.8 0ZM1669.6 188.24a2.4 2.4 0 1 1 4.8 0a2.4 2.4 0 1 1 -4.8 0ZM1669.6 194.23a2.4 2.4 0 1 1 4.8 0a2.4 2.4 0 1 1 -4.8 0ZM1669.6 200.22a2.4 2.4 0 1 1 4.8 0a2.4 2.4 0 1 1 -4.8 0ZM1669.6 206.21a2.4 2.4 0 1 1 4.8 0a2.4 2.4 0 1 1 -4.8 0ZM1628 168.5H1641V178.5H1628ZM1632.3 168.5V178.5M1636.7 168.5V178.5M1708.4 288.5H1719.7M1645 360.6H1655.1V377.7H1645ZM1630.4 375.2H1636.2V383.2H1630.4ZM1608.6 385.7H1614.1V397H1608.6ZM1615.8 385.7H1626.7V391.3H1615.8ZM1615.8 393.3H1626.7V398.8H1615.8ZM1612.1 407.1H1617.9V418.4H1612.1ZM1597 526H1627.4V549.3H1597ZM1658.6 533.7H1699.4V577.4H1658.6ZM1554.8 540.7H1595.2V585.1H1554.8ZM1533.5 606.7h9M1486.7 619.5H1491.7V625.6H1486.7ZM1492.7 619.5H1498V625.6H1492.7ZM1489 668.8h8.5M1535.5 677.7h9M1534 620H1544.5V625.5H1534ZM1540.5 627H1546.9V639.4H1540.5ZM1533.1 641.1H1544.4V646.7H1533.1Z" fill="none" stroke="#000" stroke-width="1.3"/>
<path d="M829.5 120.2V108.2H841.5M829.5 186V198H841.5M903.9 120.2V108.2H891.9M903.9 186V198H891.9M924.3 120.2V108.2H936.3M924.3 186V198H936.3M998.8 120.2V108.2H986.8M998.8 186V198H986.8M1019.3 120.2V108.2H1031.3M1019.3 186V198H1031.3M1093.4 120.2V108.2H1081.4M1093.4 186V198H1081.4M1113.8 120.2V108.2H1125.8M1113.8 186V198H1125.8M1188.3 120.2V108.2H1176.3M1188.3 186V198H1176.3M574 190H747.25V363H574ZM840.5 574H866.5V599H840.5ZM446.25 644.25H472V672.5H446.25ZM452.5 678.75H478V706.25H452.5ZM931 619.5H970.5M1171.3 596.25H1216.25V727H1171.3" fill="none" stroke="#000" stroke-width="1.8"/>
<path d="M833.6 111.9h0M833.6 116.05h0M833.6 120.2h0M833.6 124.35h0M833.6 128.5h0M833.6 132.65h0M833.6 136.8h0M833.6 140.95h0M833.6 145.1h0M833.6 149.25h0M833.6 153.4h0M833.6 157.55h0M833.6 161.7h0M833.6 165.85h0M833.6 170h0M833.6 174.15h0M833.6 178.3h0M833.6 182.45h0M833.6 186.6h0M833.6 190.75h0M833.6 194.9h0M838.35 111.9h0M838.35 116.05h0M838.35 120.2h0M838.35 124.35h0M838.35 128.5h0M838.35 132.65h0M838.35 136.8h0M838.35 140.95h0M838.35 145.1h0M838.35 149.25h0M838.35 153.4h0M838.35 157.55h0M838.35 161.7h0M838.35 165.85h0M838.35 170h0M838.35 174.15h0M838.35 178.3h0M838.35 182.45h0M838.35 186.6h0M838.35 190.75h0M838.35 194.9h0M843.09 111.9h0M843.09 116.05h0M843.09 120.2h0M843.09 124.35h0M843.09 128.5h0M843.09 132.65h0M843.09 136.8h0M843.09 140.95h0M843.09 145.1h0M843.09 149.25h0M843.09 153.4h0M843.09 157.55h0M843.09 161.7h0M843.09 165.85h0M843.09 170h0M843.09 174.15h0M843.09 178.3h0M843.09 182.45h0M843.09 186.6h0M843.09 190.75h0M843.09 194.9h0M847.84 111.9h0M847.84 116.05h0M847.84 120.2h0M847.84 124.35h0M847.84 128.5h0M847.84 132.65h0M847.84 136.8h0M847.84 140.95h0M847.84 145.1h0M847.84 149.25h0M847.84 153.4h0M847.84 157.55h0M847.84 161.7h0M847.84 165.85h0M847.84 170h0M847.84 174.15h0M847.84 178.3h0M847.84 182.45h0M847.84 186.6h0M847.84 190.75h0M847.84 194.9h0M852.58 111.9h0M852.58 116.05h0M852.58 120.2h0M852.58 124.35h0M852.58 128.5h0M852.58 132.65h0M852.58 136.8h0M852.58 140.95h0M852.58 145.1h0M852.58 149.25h0M852.58 153.4h0M852.58 157.55h0M852.58 161.7h0M852.58 165.85h0M852.58 170h0M852.58 174.15h0M852.58 178.3h0M852.58 182.45h0M852.58 186.6h0M852.58 190.75h0M852.58 194.9h0M857.33 111.9h0M857.33 116.05h0M857.33 120.2h0M857.33 124.35h0M857.33 128.5h0M857.33 132.65h0M857.33 136.8h0M857.33 140.95h0M857.33 145.1h0M857.33 149.25h0M857.33 153.4h0M857.33 157.55h0M857.33 161.7h0M857.33 165.85h0M857.33 170h0M857.33 174.15h0M857.33 178.3h0M857.33 182.45h0M857.33 186.6h0M857.33 190.75h0M857.33 194.9h0M862.07 111.9h0M862.07 116.05h0M862.07 120.2h0M862.07 124.35h0M862.07 128.5h0M862.07 132.65h0M862.07 136.8h0M862.07 140.95h0M862.07 145.1h0M862.07 149.25h0M862.07 153.4h0M862.07 157.55h0M862.07 161.7h0M862.07 165.85h0M862.07 170h0M862.07 174.15h0M862.07 178.3h0M862.07 182.45h0M862.07 186.6h0M862.07 190.75h0M862.07 194.9h0M866.82 111.9h0M866.82 116.05h0M866.82 120.2h0M866.82 124.35h0M866.82 128.5h0M866.82 132.65h0M866.82 136.8h0M866.82 140.95h0M866.82 145.1h0M866.82 149.25h0M866.82 153.4h0M866.82 157.55h0M866.82 161.7h0M866.82 165.85h0M866.82 170h0M866.82 174.15h0M866.82 178.3h0M866.82 182.45h0M866.82 186.6h0M866.82 190.75h0M866.82 194.9h0M871.56 111.9h0M871.56 116.05h0M871.56 120.2h0M871.56 124.35h0M871.56 128.5h0M871.56 132.65h0M871.56 136.8h0M871.56 140.95h0M871.56 145.1h0M871.56 149.25h0M871.56 153.4h0M871.56 157.55h0M871.56 161.7h0M871.56 165.85h0M871.56 170h0M871.56 174.15h0M871.56 178.3h0M871.56 182.45h0M871.56 186.6h0M871.56 190.75h0M871.56 194.9h0M876.31 111.9h0M876.31 116.05h0M876.31 120.2h0M876.31 124.35h0M876.31 128.5h0M876.31 132.65h0M876.31 136.8h0M876.31 140.95h0M876.31 145.1h0M876.31 149.25h0M876.31 153.4h0M876.31 157.55h0M876.31 161.7h0M876.31 165.85h0M876.31 170h0M876.31 174.15h0M876.31 178.3h0M876.31 182.45h0M876.31 186.6h0M876.31 190.75h0M876.31 194.9h0M881.05 111.9h0M881.05 116.05h0M881.05 120.2h0M881.05 124.35h0M881.05 128.5h0M881.05 132.65h0M881.05 136.8h0M881.05 140.95h0M881.05 145.1h0M881.05 149.25h0M881.05 153.4h0M881.05 157.55h0M881.05 161.7h0M881.05 165.85h0M881.05 170h0M881.05 174.15h0M881.05 178.3h0M881.05 182.45h0M881.05 186.6h0M881.05 190.75h0M881.05 194.9h0M885.8 111.9h0M885.8 116.05h0M885.8 120.2h0M885.8 124.35h0M885.8 128.5h0M885.8 132.65h0M885.8 136.8h0M885.8 140.95h0M885.8 145.1h0M885.8 149.25h0M885.8 153.4h0M885.8 157.55h0M885.8 161.7h0M885.8 165.85h0M885.8 170h0M885.8 174.15h0M885.8 178.3h0M885.8 182.45h0M885.8 186.6h0M885.8 190.75h0M885.8 194.9h0M890.54 111.9h0M890.54 116.05h0M890.54 120.2h0M890.54 124.35h0M890.54 128.5h0M890.54 132.65h0M890.54 136.8h0M890.54 140.95h0M890.54 145.1h0M890.54 149.25h0M890.54 153.4h0M890.54 157.55h0M890.54 161.7h0M890.54 165.85h0M890.54 170h0M890.54 174.15h0M890.54 178.3h0M890.54 182.45h0M890.54 186.6h0M890.54 190.75h0M890.54 194.9h0M895.29 111.9h0M895.29 116.05h0M895.29 120.2h0M895.29 124.35h0M895.29 128.5h0M895.29 132.65h0M895.29 136.8h0M895.29 140.95h0M895.29 145.1h0M895.29 149.25h0M895.29 153.4h0M895.29 157.55h0M895.29 161.7h0M895.29 165.85h0M895.29 170h0M895.29 174.15h0M895.29 178.3h0M895.29 182.45h0M895.29 186.6h0M895.29 190.75h0M895.29 194.9h0M900.03 111.9h0M900.03 116.05h0M900.03 120.2h0M900.03 124.35h0M900.03 128.5h0M900.03 132.65h0M900.03 136.8h0M900.03 140.95h0M900.03 145.1h0M900.03 149.25h0M900.03 153.4h0M900.03 157.55h0M900.03 161.7h0M900.03 165.85h0M900.03 170h0M900.03 174.15h0M900.03 178.3h0M900.03 182.45h0M900.03 186.6h0M900.03 190.75h0M900.03 194.9h0M928.4 111.9h0M928.4 116.05h0M928.4 120.2h0M928.4 124.35h0M928.4 128.5h0M928.4 132.65h0M928.4 136.8h0M928.4 140.95h0M928.4 145.1h0M928.4 149.25h0M928.4 153.4h0M928.4 157.55h0M928.4 161.7h0M928.4 165.85h0M928.4 170h0M928.4 174.15h0M928.4 178.3h0M928.4 182.45h0M928.4 186.6h0M928.4 190.75h0M928.4 194.9h0M933.14 111.9h0M933.14 116.05h0M933.14 120.2h0M933.14 124.35h0M933.14 128.5h0M933.14 132.65h0M933.14 136.8h0M933.14 140.95h0M933.14 145.1h0M933.14 149.25h0M933.14 153.4h0M933.14 157.55h0M933.14 161.7h0M933.14 165.85h0M933.14 170h0M933.14 174.15h0M933.14 178.3h0M933.14 182.45h0M933.14 186.6h0M933.14 190.75h0M933.14 194.9h0M937.89 111.9h0M937.89 116.05h0M937.89 120.2h0M937.89 124.35h0M937.89 128.5h0M937.89 132.65h0M937.89 136.8h0M937.89 140.95h0M937.89 145.1h0M937.89 149.25h0M937.89 153.4h0M937.89 157.55h0M937.89 161.7h0M937.89 165.85h0M937.89 170h0M937.89 174.15h0M937.89 178.3h0M937.89 182.45h0M937.89 186.6h0M937.89 190.75h0M937.89 194.9h0M942.63 111.9h0M942.63 116.05h0M942.63 120.2h0M942.63 124.35h0M942.63 128.5h0M942.63 132.65h0M942.63 136.8h0M942.63 140.95h0M942.63 145.1h0M942.63 149.25h0M942.63 153.4h0M942.63 157.55h0M942.63 161.7h0M942.63 165.85h0M942.63 170h0M942.63 174.15h0M942.63 178.3h0M942.63 182.45h0M942.63 186.6h0M942.63 190.75h0M942.63 194.9h0M947.38 111.9h0M947.38 116.05h0M947.38 120.2h0M947.38 124.35h0M947.38 128.5h0M947.38 132.65h0M947.38 136.8h0M947.38 140.95h0M947.38 145.1h0M947.38 149.25h0M947.38 153.4h0M947.38 157.55h0M947.38 161.7h0M947.38 165.85h0M947.38 170h0M947.38 174.15h0M947.38 178.3h0M947.38 182.45h0M947.38 186.6h0M947.38 190.75h0M947.38 194.9h0M952.12 111.9h0M952.12 116.05h0M952.12 120.2h0M952.12 124.35h0M952.12 128.5h0M952.12 132.65h0M952.12 136.8h0M952.12 140.95h0M952.12 145.1h0M952.12 149.25h0M952.12 153.4h0M952.12 157.55h0M952.12 161.7h0M952.12 165.85h0M952.12 170h0M952.12 174.15h0M952.12 178.3h0M952.12 182.45h0M952.12 186.6h0M952.12 190.75h0M952.12 194.9h0M956.87 111.9h0M956.87 116.05h0M956.87 120.2h0M956.87 124.35h0M956.87 128.5h0M956.87 132.65h0M956.87 136.8h0M956.87 140.95h0M956.87 145.1h0M956.87 149.25h0M956.87 153.4h0M956.87 157.55h0M956.87 161.7h0M956.87 165.85h0M956.87 170h0M956.87 174.15h0M956.87 178.3h0M956.87 182.45h0M956.87 186.6h0M956.87 190.75h0M956.87 194.9h0M961.62 111.9h0M961.62 116.05h0M961.62 120.2h0M961.62 124.35h0M961.62 128.5h0M961.62 132.65h0M961.62 136.8h0M961.62 140.95h0M961.62 145.1h0M961.62 149.25h0M961.62 153.4h0M961.62 157.55h0M961.62 161.7h0M961.62 165.85h0M961.62 170h0M961.62 174.15h0M961.62 178.3h0M961.62 182.45h0M961.62 186.6h0M961.62 190.75h0M961.62 194.9h0M966.36 111.9h0M966.36 116.05h0M966.36 120.2h0M966.36 124.35h0M966.36 128.5h0M966.36 132.65h0M966.36 136.8h0M966.36 140.95h0M966.36 145.1h0M966.36 149.25h0M966.36 153.4h0M966.36 157.55h0M966.36 161.7h0M966.36 165.85h0M966.36 170h0M966.36 174.15h0M966.36 178.3h0M966.36 182.45h0M966.36 186.6h0M966.36 190.75h0M966.36 194.9h0M971.11 111.9h0M971.11 116.05h0M971.11 120.2h0M971.11 124.35h0M971.11 128.5h0M971.11 132.65h0M971.11 136.8h0M971.11 140.95h0M971.11 145.1h0M971.11 149.25h0M971.11 153.4h0M971.11 157.55h0M971.11 161.7h0M971.11 165.85h0M971.11 170h0M971.11 174.15h0M971.11 178.3h0M971.11 182.45h0M971.11 186.6h0M971.11 190.75h0M971.11 194.9h0M975.85 111.9h0M975.85 116.05h0M975.85 120.2h0M975.85 124.35h0M975.85 128.5h0M975.85 132.65h0M975.85 136.8h0M975.85 140.95h0M975.85 145.1h0M975.85 149.25h0M975.85 153.4h0M975.85 157.55h0M975.85 161.7h0M975.85 165.85h0M975.85 170h0M975.85 174.15h0M975.85 178.3h0M975.85 182.45h0M975.85 186.6h0M975.85 190.75h0M975.85 194.9h0M980.6 111.9h0M980.6 116.05h0M980.6 120.2h0M980.6 124.35h0M980.6 128.5h0M980.6 132.65h0M980.6 136.8h0M980.6 140.95h0M980.6 145.1h0M980.6 149.25h0M980.6 153.4h0M980.6 157.55h0M980.6 161.7h0M980.6 165.85h0M980.6 170h0M980.6 174.15h0M980.6 178.3h0M980.6 182.45h0M980.6 186.6h0M980.6 190.75h0M980.6 194.9h0M985.34 111.9h0M985.34 116.05h0M985.34 120.2h0M985.34 124.35h0M985.34 128.5h0M985.34 132.65h0M985.34 136.8h0M985.34 140.95h0M985.34 145.1h0M985.34 149.25h0M985.34 153.4h0M985.34 157.55h0M985.34 161.7h0M985.34 165.85h0M985.34 170h0M985.34 174.15h0M985.34 178.3h0M985.34 182.45h0M985.34 186.6h0M985.34 190.75h0M985.34 194.9h0M990.09 111.9h0M990.09 116.05h0M990.09 120.2h0M990.09 124.35h0M990.09 128.5h0M990.09 132.65h0M990.09 136.8h0M990.09 140.95h0M990.09 145.1h0M990.09 149.25h0M990.09 153.4h0M990.09 157.55h0M990.09 161.7h0M990.09 165.85h0M990.09 170h0M990.09 174.15h0M990.09 178.3h0M990.09 182.45h0M990.09 186.6h0M990.09 190.75h0M990.09 194.9h0M994.83 111.9h0M994.83 116.05h0M994.83 120.2h0M994.83 124.35h0M994.83 128.5h0M994.83 132.65h0M994.83 136.8h0M994.83 140.95h0M994.83 145.1h0M994.83 149.25h0M994.83 153.4h0M994.83 157.55h0M994.83 161.7h0M994.83 165.85h0M994.83 170h0M994.83 174.15h0M994.83 178.3h0M994.83 182.45h0M994.83 186.6h0M994.83 190.75h0M994.83 194.9h0M1023.4 111.9h0M1023.4 116.05h0M1023.4 120.2h0M1023.4 124.35h0M1023.4 128.5h0M1023.4 132.65h0M1023.4 136.8h0M1023.4 140.95h0M1023.4 145.1h0M1023.4 149.25h0M1023.4 153.4h0M1023.4 157.55h0M1023.4 161.7h0M1023.4 165.85h0M1023.4 170h0M1023.4 174.15h0M1023.4 178.3h0M1023.4 182.45h0M1023.4 186.6h0M1023.4 190.75h0M1023.4 194.9h0M1028.14 111.9h0M1028.14 116.05h0M1028.14 120.2h0M1028.14 124.35h0M1028.14 128.5h0M1028.14 132.65h0M1028.14 136.8h0M1028.14 140.95h0M1028.14 145.1h0M1028.14 149.25h0M1028.14 153.4h0M1028.14 157.55h0M1028.14 161.7h0M1028.14 165.85h0M1028.14 170h0M1028.14 174.15h0M1028.14 178.3h0M1028.14 182.45h0M1028.14 186.6h0M1028.14 190.75h0M1028.14 194.9h0M1032.89 111.9h0M1032.89 116.05h0M1032.89 120.2h0M1032.89 124.35h0M1032.89 128.5h0M1032.89 132.65h0M1032.89 136.8h0M1032.89 140.95h0M1032.89 145.1h0M1032.89 149.25h0M1032.89 153.4h0M1032.89 157.55h0M1032.89 161.7h0M1032.89 165.85h0M1032.89 170h0M1032.89 174.15h0M1032.89 178.3h0M1032.89 182.45h0M1032.89 186.6h0M1032.89 190.75h0M1032.89 194.9h0M1037.63 111.9h0M1037.63 116.05h0M1037.63 120.2h0M1037.63 124.35h0M1037.63 128.5h0M1037.63 132.65h0M1037.63 136.8h0M1037.63 140.95h0M1037.63 145.1h0M1037.63 149.25h0M1037.63 153.4h0M1037.63 157.55h0M1037.63 161.7h0M1037.63 165.85h0M1037.63 170h0M1037.63 174.15h0M1037.63 178.3h0M1037.63 182.45h0M1037.63 186.6h0M1037.63 190.75h0M1037.63 194.9h0M1042.38 111.9h0M1042.38 116.05h0M1042.38 120.2h0M1042.38 124.35h0M1042.38 128.5h0M1042.38 132.65h0M1042.38 136.8h0M1042.38 140.95h0M1042.38 145.1h0M1042.38 149.25h0M1042.38 153.4h0M1042.38 157.55h0M1042.38 161.7h0M1042.38 165.85h0M1042.38 170h0M1042.38 174.15h0M1042.38 178.3h0M1042.38 182.45h0M1042.38 186.6h0M1042.38 190.75h0M1042.38 194.9h0M1047.12 111.9h0M1047.12 116.05h0M1047.12 120.2h0M1047.12 124.35h0M1047.12 128.5h0M1047.12 132.65h0M1047.12 136.8h0M1047.12 140.95h0M1047.12 145.1h0M1047.12 149.25h0M1047.12 153.4h0M1047.12 157.55h0M1047.12 161.7h0M1047.12 165.85h0M1047.12 170h0M1047.12 174.15h0M1047.12 178.3h0M1047.12 182.45h0M1047.12 186.6h0M1047.12 190.75h0M1047.12 194.9h0M1051.87 111.9h0M1051.87 116.05h0M1051.87 120.2h0M1051.87 124.35h0M1051.87 128.5h0M1051.87 132.65h0M1051.87 136.8h0M1051.87 140.95h0M1051.87 145.1h0M1051.87 149.25h0M1051.87 153.4h0M1051.87 157.55h0M1051.87 161.7h0M1051.87 165.85h0M1051.87 170h0M1051.87 174.15h0M1051.87 178.3h0M1051.87 182.45h0M1051.87 186.6h0M1051.87 190.75h0M1051.87 194.9h0M1056.62 111.9h0M1056.62 116.05h0M1056.62 120.2h0M1056.62 124.35h0M1056.62 128.5h0M1056.62 132.65h0M1056.62 136.8h0M1056.62 140.95h0M1056.62 145.1h0M1056.62 149.25h0M1056.62 153.4h0M1056.62 157.55h0M1056.62 161.7h0M1056.62 165.85h0M1056.62 170h0M1056.62 174.15h0M1056.62 178.3h0M1056.62 182.45h0M1056.62 186.6h0M1056.62 190.75h0M1056.62 194.9h0M1061.36 111.9h0M1061.36 116.05h0M1061.36 120.2h0M1061.36 124.35h0M1061.36 128.5h0M1061.36 132.65h0M1061.36 136.8h0M1061.36 140.95h0M1061.36 145.1h0M1061.36 149.25h0M1061.36 153.4h0M1061.36 157.55h0M1061.36 161.7h0M1061.36 165.85h0M1061.36 170h0M1061.36 174.15h0M1061.36 178.3h0M1061.36 182.45h0M1061.36 186.6h0M1061.36 190.75h0M1061.36 194.9h0M1066.11 111.9h0M1066.11 116.05h0M1066.11 120.2h0M1066.11 124.35h0M1066.11 128.5h0M1066.11 132.65h0M1066.11 136.8h0M1066.11 140.95h0M1066.11 145.1h0M1066.11 149.25h0M1066.11 153.4h0M1066.11 157.55h0M1066.11 161.7h0M1066.11 165.85h0M1066.11 170h0M1066.11 174.15h0M1066.11 178.3h0M1066.11 182.45h0M1066.11 186.6h0M1066.11 190.75h0M1066.11 194.9h0M1070.85 111.9h0M1070.85 116.05h0M1070.85 120.2h0M1070.85 124.35h0M1070.85 128.5h0M1070.85 132.65h0M1070.85 136.8h0M1070.85 140.95h0M1070.85 145.1h0M1070.85 149.25h0M1070.85 153.4h0M1070.85 157.55h0M1070.85 161.7h0M1070.85 165.85h0M1070.85 170h0M1070.85 174.15h0M1070.85 178.3h0M1070.85 182.45h0M1070.85 186.6h0M1070.85 190.75h0M1070.85 194.9h0M1075.6 111.9h0M1075.6 116.05h0M1075.6 120.2h0M1075.6 124.35h0M1075.6 128.5h0M1075.6 132.65h0M1075.6 136.8h0M1075.6 140.95h0M1075.6 145.1h0M1075.6 149.25h0M1075.6 153.4h0M1075.6 157.55h0M1075.6 161.7h0M1075.6 165.85h0M1075.6 170h0M1075.6 174.15h0M1075.6 178.3h0M1075.6 182.45h0M1075.6 186.6h0M1075.6 190.75h0M1075.6 194.9h0M1080.34 111.9h0M1080.34 116.05h0M1080.34 120.2h0M1080.34 124.35h0M1080.34 128.5h0M1080.34 132.65h0M1080.34 136.8h0M1080.34 140.95h0M1080.34 145.1h0M1080.34 149.25h0M1080.34 153.4h0M1080.34 157.55h0M1080.34 161.7h0M1080.34 165.85h0M1080.34 170h0M1080.34 174.15h0M1080.34 178.3h0M1080.34 182.45h0M1080.34 186.6h0M1080.34 190.75h0M1080.34 194.9h0M1085.09 111.9h0M1085.09 116.05h0M1085.09 120.2h0M1085.09 124.35h0M1085.09 128.5h0M1085.09 132.65h0M1085.09 136.8h0M1085.09 140.95h0M1085.09 145.1h0M1085.09 149.25h0M1085.09 153.4h0M1085.09 157.55h0M1085.09 161.7h0M1085.09 165.85h0M1085.09 170h0M1085.09 174.15h0M1085.09 178.3h0M1085.09 182.45h0M1085.09 186.6h0M1085.09 190.75h0M1085.09 194.9h0M1089.83 111.9h0M1089.83 116.05h0M1089.83 120.2h0M1089.83 124.35h0M1089.83 128.5h0M1089.83 132.65h0M1089.83 136.8h0M1089.83 140.95h0M1089.83 145.1h0M1089.83 149.25h0M1089.83 153.4h0M1089.83 157.55h0M1089.83 161.7h0M1089.83 165.85h0M1089.83 170h0M1089.83 174.15h0M1089.83 178.3h0M1089.83 182.45h0M1089.83 186.6h0M1089.83 190.75h0M1089.83 194.9h0M1117.9 111.9h0M1117.9 116.05h0M1117.9 120.2h0M1117.9 124.35h0M1117.9 128.5h0M1117.9 132.65h0M1117.9 136.8h0M1117.9 140.95h0M1117.9 145.1h0M1117.9 149.25h0M1117.9 153.4h0M1117.9 157.55h0M1117.9 161.7h0M1117.9 165.85h0M1117.9 170h0M1117.9 174.15h0M1117.9 178.3h0M1117.9 182.45h0M1117.9 186.6h0M1117.9 190.75h0M1117.9 194.9h0M1122.64 111.9h0M1122.64 116.05h0M1122.64 120.2h0M1122.64 124.35h0M1122.64 128.5h0M1122.64 132.65h0M1122.64 136.8h0M1122.64 140.95h0M1122.64 145.1h0M1122.64 149.25h0M1122.64 153.4h0M1122.64 157.55h0M1122.64 161.7h0M1122.64 165.85h0M1122.64 170h0M1122.64 174.15h0M1122.64 178.3h0M1122.64 182.45h0M1122.64 186.6h0M1122.64 190.75h0M1122.64 194.9h0M1127.39 111.9h0M1127.39 116.05h0M1127.39 120.2h0M1127.39 124.35h0M1127.39 128.5h0M1127.39 132.65h0M1127.39 136.8h0M1127.39 140.95h0M1127.39 145.1h0M1127.39 149.25h0M1127.39 153.4h0M1127.39 157.55h0M1127.39 161.7h0M1127.39 165.85h0M1127.39 170h0M1127.39 174.15h0M1127.39 178.3h0M1127.39 182.45h0M1127.39 186.6h0M1127.39 190.75h0M1127.39 194.9h0M1132.13 111.9h0M1132.13 116.05h0M1132.13 120.2h0M1132.13 124.35h0M1132.13 128.5h0M1132.13 132.65h0M1132.13 136.8h0M1132.13 140.95h0M1132.13 145.1h0M1132.13 149.25h0M1132.13 153.4h0M1132.13 157.55h0M1132.13 161.7h0M1132.13 165.85h0M1132.13 170h0M1132.13 174.15h0M1132.13 178.3h0M1132.13 182.45h0M1132.13 186.6h0M1132.13 190.75h0M1132.13 194.9h0M1136.88 111.9h0M1136.88 116.05h0M1136.88 120.2h0M1136.88 124.35h0M1136.88 128.5h0M1136.88 132.65h0M1136.88 136.8h0M1136.88 140.95h0M1136.88 145.1h0M1136.88 149.25h0M1136.88 153.4h0M1136.88 157.55h0M1136.88 161.7h0M1136.88 165.85h0M1136.88 170h0M1136.88 174.15h0M1136.88 178.3h0M1136.88 182.45h0M1136.88 186.6h0M1136.88 190.75h0M1136.88 194.9h0M1141.62 111.9h0M1141.62 116.05h0M1141.62 120.2h0M1141.62 124.35h0M1141.62 128.5h0M1141.62 132.65h0M1141.62 136.8h0M1141.62 140.95h0M1141.62 145.1h0M1141.62 149.25h0M1141.62 153.4h0M1141.62 157.55h0M1141.62 161.7h0M1141.62 165.85h0M1141.62 170h0M1141.62 174.15h0M1141.62 178.3h0M1141.62 182.45h0M1141.62 186.6h0M1141.62 190.75h0M1141.62 194.9h0M1146.37 111.9h0M1146.37 116.05h0M1146.37 120.2h0M1146.37 124.35h0M1146.37 128.5h0M1146.37 132.65h0M1146.37 136.8h0M1146.37 140.95h0M1146.37 145.1h0M1146.37 149.25h0M1146.37 153.4h0M1146.37 157.55h0M1146.37 161.7h0M1146.37 165.85h0M1146.37 170h0M1146.37 174.15h0M1146.37 178.3h0M1146.37 182.45h0M1146.37 186.6h0M1146.37 190.75h0M1146.37 194.9h0M1151.11 111.9h0M1151.11 116.05h0M1151.11 120.2h0M1151.11 124.35h0M1151.11 128.5h0M1151.11 132.65h0M1151.11 136.8h0M1151.11 140.95h0M1151.11 145.1h0M1151.11 149.25h0M1151.11 153.4h0M1151.11 157.55h0M1151.11 161.7h0M1151.11 165.85h0M1151.11 170h0M1151.11 174.15h0M1151.11 178.3h0M1151.11 182.45h0M1151.11 186.6h0M1151.11 190.75h0M1151.11 194.9h0M1155.86 111.9h0M1155.86 116.05h0M1155.86 120.2h0M1155.86 124.35h0M1155.86 128.5h0M1155.86 132.65h0M1155.86 136.8h0M1155.86 140.95h0M1155.86 145.1h0M1155.86 149.25h0M1155.86 153.4h0M1155.86 157.55h0M1155.86 161.7h0M1155.86 165.85h0M1155.86 170h0M1155.86 174.15h0M1155.86 178.3h0M1155.86 182.45h0M1155.86 186.6h0M1155.86 190.75h0M1155.86 194.9h0M1160.6 111.9h0M1160.6 116.05h0M1160.6 120.2h0M1160.6 124.35h0M1160.6 128.5h0M1160.6 132.65h0M1160.6 136.8h0M1160.6 140.95h0M1160.6 145.1h0M1160.6 149.25h0M1160.6 153.4h0M1160.6 157.55h0M1160.6 161.7h0M1160.6 165.85h0M1160.6 170h0M1160.6 174.15h0M1160.6 178.3h0M1160.6 182.45h0M1160.6 186.6h0M1160.6 190.75h0M1160.6 194.9h0M1165.35 111.9h0M1165.35 116.05h0M1165.35 120.2h0M1165.35 124.35h0M1165.35 128.5h0M1165.35 132.65h0M1165.35 136.8h0M1165.35 140.95h0M1165.35 145.1h0M1165.35 149.25h0M1165.35 153.4h0M1165.35 157.55h0M1165.35 161.7h0M1165.35 165.85h0M1165.35 170h0M1165.35 174.15h0M1165.35 178.3h0M1165.35 182.45h0M1165.35 186.6h0M1165.35 190.75h0M1165.35 194.9h0M1170.09 111.9h0M1170.09 116.05h0M1170.09 120.2h0M1170.09 124.35h0M1170.09 128.5h0M1170.09 132.65h0M1170.09 136.8h0M1170.09 140.95h0M1170.09 145.1h0M1170.09 149.25h0M1170.09 153.4h0M1170.09 157.55h0M1170.09 161.7h0M1170.09 165.85h0M1170.09 170h0M1170.09 174.15h0M1170.09 178.3h0M1170.09 182.45h0M1170.09 186.6h0M1170.09 190.75h0M1170.09 194.9h0M1174.84 111.9h0M1174.84 116.05h0M1174.84 120.2h0M1174.84 124.35h0M1174.84 128.5h0M1174.84 132.65h0M1174.84 136.8h0M1174.84 140.95h0M1174.84 145.1h0M1174.84 149.25h0M1174.84 153.4h0M1174.84 157.55h0M1174.84 161.7h0M1174.84 165.85h0M1174.84 170h0M1174.84 174.15h0M1174.84 178.3h0M1174.84 182.45h0M1174.84 186.6h0M1174.84 190.75h0M1174.84 194.9h0M1179.58 111.9h0M1179.58 116.05h0M1179.58 120.2h0M1179.58 124.35h0M1179.58 128.5h0M1179.58 132.65h0M1179.58 136.8h0M1179.58 140.95h0M1179.58 145.1h0M1179.58 149.25h0M1179.58 153.4h0M1179.58 157.55h0M1179.58 161.7h0M1179.58 165.85h0M1179.58 170h0M1179.58 174.15h0M1179.58 178.3h0M1179.58 182.45h0M1179.58 186.6h0M1179.58 190.75h0M1179.58 194.9h0M1184.33 111.9h0M1184.33 116.05h0M1184.33 120.2h0M1184.33 124.35h0M1184.33 128.5h0M1184.33 132.65h0M1184.33 136.8h0M1184.33 140.95h0M1184.33 145.1h0M1184.33 149.25h0M1184.33 153.4h0M1184.33 157.55h0M1184.33 161.7h0M1184.33 165.85h0M1184.33 170h0M1184.33 174.15h0M1184.33 178.3h0M1184.33 182.45h0M1184.33 186.6h0M1184.33 190.75h0M1184.33 194.9h0M577.25 96.25h0M577.25 100.75h0M577.25 105.25h0M577.25 109.75h0M577.25 114.25h0M577.25 118.75h0M577.25 123.25h0M577.25 127.75h0M577.25 132.25h0M577.25 136.75h0M577.25 141.25h0M577.25 145.75h0M577.25 150.25h0M577.25 154.75h0M577.25 159.25h0M577.25 163.75h0M577.25 168.25h0M577.25 172.75h0M581.75 96.25h0M581.75 100.75h0M581.75 105.25h0M581.75 109.75h0M581.75 114.25h0M581.75 118.75h0M581.75 123.25h0M581.75 127.75h0M581.75 132.25h0M581.75 136.75h0M581.75 141.25h0M581.75 145.75h0M581.75 150.25h0M581.75 154.75h0M581.75 159.25h0M581.75 163.75h0M581.75 168.25h0M581.75 172.75h0M586.25 96.25h0M586.25 100.75h0M586.25 105.25h0M586.25 109.75h0M586.25 114.25h0M586.25 118.75h0M586.25 123.25h0M586.25 127.75h0M586.25 132.25h0M586.25 136.75h0M586.25 141.25h0M586.25 145.75h0M586.25 150.25h0M586.25 154.75h0M586.25 159.25h0M586.25 163.75h0M586.25 168.25h0M586.25 172.75h0M590.75 96.25h0M590.75 100.75h0M590.75 105.25h0M590.75 109.75h0M590.75 114.25h0M590.75 118.75h0M590.75 123.25h0M590.75 127.75h0M590.75 132.25h0M590.75 136.75h0M590.75 141.25h0M590.75 145.75h0M590.75 150.25h0M590.75 154.75h0M590.75 159.25h0M590.75 163.75h0M590.75 168.25h0M590.75 172.75h0M595.25 96.25h0M595.25 100.75h0M595.25 105.25h0M595.25 109.75h0M595.25 114.25h0M595.25 118.75h0M595.25 123.25h0M595.25 127.75h0M595.25 132.25h0M595.25 136.75h0M595.25 141.25h0M595.25 145.75h0M595.25 150.25h0M595.25 154.75h0M595.25 159.25h0M595.25 163.75h0M595.25 168.25h0M595.25 172.75h0M617.25 96.25h0M617.25 100.75h0M617.25 105.25h0M617.25 109.75h0M617.25 114.25h0M617.25 118.75h0M617.25 123.25h0M617.25 127.75h0M617.25 132.25h0M617.25 136.75h0M617.25 141.25h0M617.25 145.75h0M617.25 150.25h0M617.25 154.75h0M617.25 159.25h0M617.25 163.75h0M617.25 168.25h0M617.25 172.75h0M621.75 96.25h0M621.75 100.75h0M621.75 105.25h0M621.75 109.75h0M621.75 114.25h0M621.75 118.75h0M621.75 123.25h0M621.75 127.75h0M621.75 132.25h0M621.75 136.75h0M621.75 141.25h0M621.75 145.75h0M621.75 150.25h0M621.75 154.75h0M621.75 159.25h0M621.75 163.75h0M621.75 168.25h0M621.75 172.75h0M626.25 96.25h0M626.25 100.75h0M626.25 105.25h0M626.25 109.75h0M626.25 114.25h0M626.25 118.75h0M626.25 123.25h0M626.25 127.75h0M626.25 132.25h0M626.25 136.75h0M626.25 141.25h0M626.25 145.75h0M626.25 150.25h0M626.25 154.75h0M626.25 159.25h0M626.25 163.75h0M626.25 168.25h0M626.25 172.75h0M630.75 96.25h0M630.75 100.75h0M630.75 105.25h0M630.75 109.75h0M630.75 114.25h0M630.75 118.75h0M630.75 123.25h0M630.75 127.75h0M630.75 132.25h0M630.75 136.75h0M630.75 141.25h0M630.75 145.75h0M630.75 150.25h0M630.75 154.75h0M630.75 159.25h0M630.75 163.75h0M630.75 168.25h0M630.75 172.75h0M635.25 96.25h0M635.25 100.75h0M635.25 105.25h0M635.25 109.75h0M635.25 114.25h0M635.25 118.75h0M635.25 123.25h0M635.25 127.75h0M635.25 132.25h0M635.25 136.75h0M635.25 141.25h0M635.25 145.75h0M635.25 150.25h0M635.25 154.75h0M635.25 159.25h0M635.25 163.75h0M635.25 168.25h0M635.25 172.75h0M674 96.25h0M674 100.75h0M674 105.25h0M674 109.75h0M674 114.25h0M674 118.75h0M674 123.25h0M674 127.75h0M674 132.25h0M674 136.75h0M674 141.25h0M674 145.75h0M674 150.25h0M674 154.75h0M674 159.25h0M674 163.75h0M674 168.25h0M674 172.75h0M678.5 96.25h0M678.5 100.75h0M678.5 105.25h0M678.5 109.75h0M678.5 114.25h0M678.5 118.75h0M678.5 123.25h0M678.5 127.75h0M678.5 132.25h0M678.5 136.75h0M678.5 141.25h0M678.5 145.75h0M678.5 150.25h0M678.5 154.75h0M678.5 159.25h0M678.5 163.75h0M678.5 168.25h0M678.5 172.75h0M683 96.25h0M683 100.75h0M683 105.25h0M683 109.75h0M683 114.25h0M683 118.75h0M683 123.25h0M683 127.75h0M683 132.25h0M683 136.75h0M683 141.25h0M683 145.75h0M683 150.25h0M683 154.75h0M683 159.25h0M683 163.75h0M683 168.25h0M683 172.75h0M687.5 96.25h0M687.5 100.75h0M687.5 105.25h0M687.5 109.75h0M687.5 114.25h0M687.5 118.75h0M687.5 123.25h0M687.5 127.75h0M687.5 132.25h0M687.5 136.75h0M687.5 141.25h0M687.5 145.75h0M687.5 150.25h0M687.5 154.75h0M687.5 159.25h0M687.5 163.75h0M687.5 168.25h0M687.5 172.75h0M692 96.25h0M692 100.75h0M692 105.25h0M692 109.75h0M692 114.25h0M692 118.75h0M692 123.25h0M692 127.75h0M692 132.25h0M692 136.75h0M692 141.25h0M692 145.75h0M692 150.25h0M692 154.75h0M692 159.25h0M692 163.75h0M692 168.25h0M692 172.75h0M714 96.25h0M714 100.75h0M714 105.25h0M714 109.75h0M714 114.25h0M714 118.75h0M714 123.25h0M714 127.75h0M714 132.25h0M714 136.75h0M714 141.25h0M714 145.75h0M714 150.25h0M714 154.75h0M714 159.25h0M714 163.75h0M714 168.25h0M714 172.75h0M718.5 96.25h0M718.5 100.75h0M718.5 105.25h0M718.5 109.75h0M718.5 114.25h0M718.5 118.75h0M718.5 123.25h0M718.5 127.75h0M718.5 132.25h0M718.5 136.75h0M718.5 141.25h0M718.5 145.75h0M718.5 150.25h0M718.5 154.75h0M718.5 159.25h0M718.5 163.75h0M718.5 168.25h0M718.5 172.75h0M723 96.25h0M723 100.75h0M723 105.25h0M723 109.75h0M723 114.25h0M723 118.75h0M723 123.25h0M723 127.75h0M723 132.25h0M723 136.75h0M723 141.25h0M723 145.75h0M723 150.25h0M723 154.75h0M723 159.25h0M723 163.75h0M723 168.25h0M723 172.75h0M727.5 96.25h0M727.5 100.75h0M727.5 105.25h0M727.5 109.75h0M727.5 114.25h0M727.5 118.75h0M727.5 123.25h0M727.5 127.75h0M727.5 132.25h0M727.5 136.75h0M727.5 141.25h0M727.5 145.75h0M727.5 150.25h0M727.5 154.75h0M727.5 159.25h0M727.5 163.75h0M727.5 168.25h0M727.5 172.75h0M732 96.25h0M732 100.75h0M732 105.25h0M732 109.75h0M732 114.25h0M732 118.75h0M732 123.25h0M732 127.75h0M732 132.25h0M732 136.75h0M732 141.25h0M732 145.75h0M732 150.25h0M732 154.75h0M732 159.25h0M732 163.75h0M732 168.25h0M732 172.75h0M480.25 195.75h0M484.75 195.75h0M489.25 195.75h0M493.75 195.75h0M498.25 195.75h0M502.75 195.75h0M507.25 195.75h0M511.75 195.75h0M516.25 195.75h0M520.75 195.75h0M525.25 195.75h0M529.75 195.75h0M534.25 195.75h0M538.75 195.75h0M543.25 195.75h0M547.75 195.75h0M552.25 195.75h0M556.75 195.75h0M480.25 200.25h0M484.75 200.25h0M489.25 200.25h0M493.75 200.25h0M498.25 200.25h0M502.75 200.25h0M507.25 200.25h0M511.75 200.25h0M516.25 200.25h0M520.75 200.25h0M525.25 200.25h0M529.75 200.25h0M534.25 200.25h0M538.75 200.25h0M543.25 200.25h0M547.75 200.25h0M552.25 200.25h0M556.75 200.25h0M480.25 204.75h0M484.75 204.75h0M489.25 204.75h0M493.75 204.75h0M498.25 204.75h0M502.75 204.75h0M507.25 204.75h0M511.75 204.75h0M516.25 204.75h0M520.75 204.75h0M525.25 204.75h0M529.75 204.75h0M534.25 204.75h0M538.75 204.75h0M543.25 204.75h0M547.75 204.75h0M552.25 204.75h0M556.75 204.75h0M480.25 209.25h0M484.75 209.25h0M489.25 209.25h0M493.75 209.25h0M498.25 209.25h0M502.75 209.25h0M507.25 209.25h0M511.75 209.25h0M516.25 209.25h0M520.75 209.25h0M525.25 209.25h0M529.75 209.25h0M534.25 209.25h0M538.75 209.25h0M543.25 209.25h0M547.75 209.25h0M552.25 209.25h0M556.75 209.25h0M480.25 213.75h0M484.75 213.75h0M489.25 213.75h0M493.75 213.75h0M498.25 213.75h0M502.75 213.75h0M507.25 213.75h0M511.75 213.75h0M516.25 213.75h0M520.75 213.75h0M525.25 213.75h0M529.75 213.75h0M534.25 213.75h0M538.75 213.75h0M543.25 213.75h0M547.75 213.75h0M552.25 213.75h0M556.75 213.75h0M480.25 235.5h0M484.75 235.5h0M489.25 235.5h0M493.75 235.5h0M498.25 235.5h0M502.75 235.5h0M507.25 235.5h0M511.75 235.5h0M516.25 235.5h0M520.75 235.5h0M525.25 235.5h0M529.75 235.5h0M534.25 235.5h0M538.75 235.5h0M543.25 235.5h0M547.75 235.5h0M552.25 235.5h0M556.75 235.5h0M480.25 240h0M484.75 240h0M489.25 240h0M493.75 240h0M498.25 240h0M502.75 240h0M507.25 240h0M511.75 240h0M516.25 240h0M520.75 240h0M525.25 240h0M529.75 240h0M534.25 240h0M538.75 240h0M543.25 240h0M547.75 240h0M552.25 240h0M556.75 240h0M480.25 244.5h0M484.75 244.5h0M489.25 244.5h0M493.75 244.5h0M498.25 244.5h0M502.75 244.5h0M507.25 244.5h0M511.75 244.5h0M516.25 244.5h0M520.75 244.5h0M525.25 244.5h0M529.75 244.5h0M534.25 244.5h0M538.75 244.5h0M543.25 244.5h0M547.75 244.5h0M552.25 244.5h0M556.75 244.5h0M480.25 249h0M484.75 249h0M489.25 249h0M493.75 249h0M498.25 249h0M502.75 249h0M507.25 249h0M511.75 249h0M516.25 249h0M520.75 249h0M525.25 249h0M529.75 249h0M534.25 249h0M538.75 249h0M543.25 249h0M547.75 249h0M552.25 249h0M556.75 249h0M480.25 253.5h0M484.75 253.5h0M489.25 253.5h0M493.75 253.5h0M498.25 253.5h0M502.75 253.5h0M507.25 253.5h0M511.75 253.5h0M516.25 253.5h0M520.75 253.5h0M525.25 253.5h0M529.75 253.5h0M534.25 253.5h0M538.75 253.5h0M543.25 253.5h0M547.75 253.5h0M552.25 253.5h0M556.75 253.5h0M480.25 292.75h0M484.75 292.75h0M489.25 292.75h0M493.75 292.75h0M498.25 292.75h0M502.75 292.75h0M507.25 292.75h0M511.75 292.75h0M516.25 292.75h0M520.75 292.75h0M525.25 292.75h0M529.75 292.75h0M534.25 292.75h0M538.75 292.75h0M543.25 292.75h0M547.75 292.75h0M552.25 292.75h0M556.75 292.75h0M480.25 297.25h0M484.75 297.25h0M489.25 297.25h0M493.75 297.25h0M498.25 297.25h0M502.75 297.25h0M507.25 297.25h0M511.75 297.25h0M516.25 297.25h0M520.75 297.25h0M525.25 297.25h0M529.75 297.25h0M534.25 297.25h0M538.75 297.25h0M543.25 297.25h0M547.75 297.25h0M552.25 297.25h0M556.75 297.25h0M480.25 301.75h0M484.75 301.75h0M489.25 301.75h0M493.75 301.75h0M498.25 301.75h0M502.75 301.75h0M507.25 301.75h0M511.75 301.75h0M516.25 301.75h0M520.75 301.75h0M525.25 301.75h0M529.75 301.75h0M534.25 301.75h0M538.75 301.75h0M543.25 301.75h0M547.75 301.75h0M552.25 301.75h0M556.75 301.75h0M480.25 306.25h0M484.75 306.25h0M489.25 306.25h0M493.75 306.25h0M498.25 306.25h0M502.75 306.25h0M507.25 306.25h0M511.75 306.25h0M516.25 306.25h0M520.75 306.25h0M525.25 306.25h0M529.75 306.25h0M534.25 306.25h0M538.75 306.25h0M543.25 306.25h0M547.75 306.25h0M552.25 306.25h0M556.75 306.25h0M480.25 310.75h0M484.75 310.75h0M489.25 310.75h0M493.75 310.75h0M498.25 310.75h0M502.75 310.75h0M507.25 310.75h0M511.75 310.75h0M516.25 310.75h0M520.75 310.75h0M525.25 310.75h0M529.75 310.75h0M534.25 310.75h0M538.75 310.75h0M543.25 310.75h0M547.75 310.75h0M552.25 310.75h0M556.75 310.75h0M480.25 332.5h0M484.75 332.5h0M489.25 332.5h0M493.75 332.5h0M498.25 332.5h0M502.75 332.5h0M507.25 332.5h0M511.75 332.5h0M516.25 332.5h0M520.75 332.5h0M525.25 332.5h0M529.75 332.5h0M534.25 332.5h0M538.75 332.5h0M543.25 332.5h0M547.75 332.5h0M552.25 332.5h0M556.75 332.5h0M480.25 337h0M484.75 337h0M489.25 337h0M493.75 337h0M498.25 337h0M502.75 337h0M507.25 337h0M511.75 337h0M516.25 337h0M520.75 337h0M525.25 337h0M529.75 337h0M534.25 337h0M538.75 337h0M543.25 337h0M547.75 337h0M552.25 337h0M556.75 337h0M480.25 341.5h0M484.75 341.5h0M489.25 341.5h0M493.75 341.5h0M498.25 341.5h0M502.75 341.5h0M507.25 341.5h0M511.75 341.5h0M516.25 341.5h0M520.75 341.5h0M525.25 341.5h0M529.75 341.5h0M534.25 341.5h0M538.75 341.5h0M543.25 341.5h0M547.75 341.5h0M552.25 341.5h0M556.75 341.5h0M480.25 346h0M484.75 346h0M489.25 346h0M493.75 346h0M498.25 346h0M502.75 346h0M507.25 346h0M511.75 346h0M516.25 346h0M520.75 346h0M525.25 346h0M529.75 346h0M534.25 346h0M538.75 346h0M543.25 346h0M547.75 346h0M552.25 346h0M556.75 346h0M480.25 350.5h0M484.75 350.5h0M489.25 350.5h0M493.75 350.5h0M498.25 350.5h0M502.75 350.5h0M507.25 350.5h0M511.75 350.5h0M516.25 350.5h0M520.75 350.5h0M525.25 350.5h0M529.75 350.5h0M534.25 350.5h0M538.75 350.5h0M543.25 350.5h0M547.75 350.5h0M552.25 350.5h0M556.75 350.5h0" fill="none" stroke="#000" stroke-width="2.9" stroke-linecap="round"/>
<path d="M833.6 111.9h0M833.6 116.05h0M833.6 120.2h0M833.6 124.35h0M833.6 128.5h0M833.6 132.65h0M833.6 136.8h0M833.6 140.95h0M833.6 145.1h0M833.6 149.25h0M833.6 153.4h0M833.6 157.55h0M833.6 161.7h0M833.6 165.85h0M833.6 170h0M833.6 174.15h0M833.6 178.3h0M833.6 182.45h0M833.6 186.6h0M833.6 190.75h0M833.6 194.9h0M838.35 111.9h0M838.35 116.05h0M838.35 120.2h0M838.35 124.35h0M838.35 128.5h0M838.35 132.65h0M838.35 136.8h0M838.35 140.95h0M838.35 145.1h0M838.35 149.25h0M838.35 153.4h0M838.35 157.55h0M838.35 161.7h0M838.35 165.85h0M838.35 170h0M838.35 174.15h0M838.35 178.3h0M838.35 182.45h0M838.35 186.6h0M838.35 190.75h0M838.35 194.9h0M843.09 111.9h0M843.09 116.05h0M843.09 120.2h0M843.09 124.35h0M843.09 128.5h0M843.09 132.65h0M843.09 136.8h0M843.09 140.95h0M843.09 145.1h0M843.09 149.25h0M843.09 153.4h0M843.09 157.55h0M843.09 161.7h0M843.09 165.85h0M843.09 170h0M843.09 174.15h0M843.09 178.3h0M843.09 182.45h0M843.09 186.6h0M843.09 190.75h0M843.09 194.9h0M847.84 111.9h0M847.84 116.05h0M847.84 120.2h0M847.84 124.35h0M847.84 128.5h0M847.84 132.65h0M847.84 136.8h0M847.84 140.95h0M847.84 145.1h0M847.84 149.25h0M847.84 153.4h0M847.84 157.55h0M847.84 161.7h0M847.84 165.85h0M847.84 170h0M847.84 174.15h0M847.84 178.3h0M847.84 182.45h0M847.84 186.6h0M847.84 190.75h0M847.84 194.9h0M852.58 111.9h0M852.58 116.05h0M852.58 120.2h0M852.58 124.35h0M852.58 128.5h0M852.58 132.65h0M852.58 136.8h0M852.58 140.95h0M852.58 145.1h0M852.58 149.25h0M852.58 153.4h0M852.58 157.55h0M852.58 161.7h0M852.58 165.85h0M852.58 170h0M852.58 174.15h0M852.58 178.3h0M852.58 182.45h0M852.58 186.6h0M852.58 190.75h0M852.58 194.9h0M857.33 111.9h0M857.33 116.05h0M857.33 120.2h0M857.33 124.35h0M857.33 128.5h0M857.33 132.65h0M857.33 136.8h0M857.33 140.95h0M857.33 145.1h0M857.33 149.25h0M857.33 153.4h0M857.33 157.55h0M857.33 161.7h0M857.33 165.85h0M857.33 170h0M857.33 174.15h0M857.33 178.3h0M857.33 182.45h0M857.33 186.6h0M857.33 190.75h0M857.33 194.9h0M862.07 111.9h0M862.07 116.05h0M862.07 120.2h0M862.07 124.35h0M862.07 128.5h0M862.07 132.65h0M862.07 136.8h0M862.07 140.95h0M862.07 145.1h0M862.07 149.25h0M862.07 153.4h0M862.07 157.55h0M862.07 161.7h0M862.07 165.85h0M862.07 170h0M862.07 174.15h0M862.07 178.3h0M862.07 182.45h0M862.07 186.6h0M862.07 190.75h0M862.07 194.9h0M866.82 111.9h0M866.82 116.05h0M866.82 120.2h0M866.82 124.35h0M866.82 128.5h0M866.82 132.65h0M866.82 136.8h0M866.82 140.95h0M866.82 145.1h0M866.82 149.25h0M866.82 153.4h0M866.82 157.55h0M866.82 161.7h0M866.82 165.85h0M866.82 170h0M866.82 174.15h0M866.82 178.3h0M866.82 182.45h0M866.82 186.6h0M866.82 190.75h0M866.82 194.9h0M871.56 111.9h0M871.56 116.05h0M871.56 120.2h0M871.56 124.35h0M871.56 128.5h0M871.56 132.65h0M871.56 136.8h0M871.56 140.95h0M871.56 145.1h0M871.56 149.25h0M871.56 153.4h0M871.56 157.55h0M871.56 161.7h0M871.56 165.85h0M871.56 170h0M871.56 174.15h0M871.56 178.3h0M871.56 182.45h0M871.56 186.6h0M871.56 190.75h0M871.56 194.9h0M876.31 111.9h0M876.31 116.05h0M876.31 120.2h0M876.31 124.35h0M876.31 128.5h0M876.31 132.65h0M876.31 136.8h0M876.31 140.95h0M876.31 145.1h0M876.31 149.25h0M876.31 153.4h0M876.31 157.55h0M876.31 161.7h0M876.31 165.85h0M876.31 170h0M876.31 174.15h0M876.31 178.3h0M876.31 182.45h0M876.31 186.6h0M876.31 190.75h0M876.31 194.9h0M881.05 111.9h0M881.05 116.05h0M881.05 120.2h0M881.05 124.35h0M881.05 128.5h0M881.05 132.65h0M881.05 136.8h0M881.05 140.95h0M881.05 145.1h0M881.05 149.25h0M881.05 153.4h0M881.05 157.55h0M881.05 161.7h0M881.05 165.85h0M881.05 170h0M881.05 174.15h0M881.05 178.3h0M881.05 182.45h0M881.05 186.6h0M881.05 190.75h0M881.05 194.9h0M885.8 111.9h0M885.8 116.05h0M885.8 120.2h0M885.8 124.35h0M885.8 128.5h0M885.8 132.65h0M885.8 136.8h0M885.8 140.95h0M885.8 145.1h0M885.8 149.25h0M885.8 153.4h0M885.8 157.55h0M885.8 161.7h0M885.8 165.85h0M885.8 170h0M885.8 174.15h0M885.8 178.3h0M885.8 182.45h0M885.8 186.6h0M885.8 190.75h0M885.8 194.9h0M890.54 111.9h0M890.54 116.05h0M890.54 120.2h0M890.54 124.35h0M890.54 128.5h0M890.54 132.65h0M890.54 136.8h0M890.54 140.95h0M890.54 145.1h0M890.54 149.25h0M890.54 153.4h0M890.54 157.55h0M890.54 161.7h0M890.54 165.85h0M890.54 170h0M890.54 174.15h0M890.54 178.3h0M890.54 182.45h0M890.54 186.6h0M890.54 190.75h0M890.54 194.9h0M895.29 111.9h0M895.29 116.05h0M895.29 120.2h0M895.29 124.35h0M895.29 128.5h0M895.29 132.65h0M895.29 136.8h0M895.29 140.95h0M895.29 145.1h0M895.29 149.25h0M895.29 153.4h0M895.29 157.55h0M895.29 161.7h0M895.29 165.85h0M895.29 170h0M895.29 174.15h0M895.29 178.3h0M895.29 182.45h0M895.29 186.6h0M895.29 190.75h0M895.29 194.9h0M900.03 111.9h0M900.03 116.05h0M900.03 120.2h0M900.03 124.35h0M900.03 128.5h0M900.03 132.65h0M900.03 136.8h0M900.03 140.95h0M900.03 145.1h0M900.03 149.25h0M900.03 153.4h0M900.03 157.55h0M900.03 161.7h0M900.03 165.85h0M900.03 170h0M900.03 174.15h0M900.03 178.3h0M900.03 182.45h0M900.03 186.6h0M900.03 190.75h0M900.03 194.9h0M928.4 111.9h0M928.4 116.05h0M928.4 120.2h0M928.4 124.35h0M928.4 128.5h0M928.4 132.65h0M928.4 136.8h0M928.4 140.95h0M928.4 145.1h0M928.4 149.25h0M928.4 153.4h0M928.4 157.55h0M928.4 161.7h0M928.4 165.85h0M928.4 170h0M928.4 174.15h0M928.4 178.3h0M928.4 182.45h0M928.4 186.6h0M928.4 190.75h0M928.4 194.9h0M933.14 111.9h0M933.14 116.05h0M933.14 120.2h0M933.14 124.35h0M933.14 128.5h0M933.14 132.65h0M933.14 136.8h0M933.14 140.95h0M933.14 145.1h0M933.14 149.25h0M933.14 153.4h0M933.14 157.55h0M933.14 161.7h0M933.14 165.85h0M933.14 170h0M933.14 174.15h0M933.14 178.3h0M933.14 182.45h0M933.14 186.6h0M933.14 190.75h0M933.14 194.9h0M937.89 111.9h0M937.89 116.05h0M937.89 120.2h0M937.89 124.35h0M937.89 128.5h0M937.89 132.65h0M937.89 136.8h0M937.89 140.95h0M937.89 145.1h0M937.89 149.25h0M937.89 153.4h0M937.89 157.55h0M937.89 161.7h0M937.89 165.85h0M937.89 170h0M937.89 174.15h0M937.89 178.3h0M937.89 182.45h0M937.89 186.6h0M937.89 190.75h0M937.89 194.9h0M942.63 111.9h0M942.63 116.05h0M942.63 120.2h0M942.63 124.35h0M942.63 128.5h0M942.63 132.65h0M942.63 136.8h0M942.63 140.95h0M942.63 145.1h0M942.63 149.25h0M942.63 153.4h0M942.63 157.55h0M942.63 161.7h0M942.63 165.85h0M942.63 170h0M942.63 174.15h0M942.63 178.3h0M942.63 182.45h0M942.63 186.6h0M942.63 190.75h0M942.63 194.9h0M947.38 111.9h0M947.38 116.05h0M947.38 120.2h0M947.38 124.35h0M947.38 128.5h0M947.38 132.65h0M947.38 136.8h0M947.38 140.95h0M947.38 145.1h0M947.38 149.25h0M947.38 153.4h0M947.38 157.55h0M947.38 161.7h0M947.38 165.85h0M947.38 170h0M947.38 174.15h0M947.38 178.3h0M947.38 182.45h0M947.38 186.6h0M947.38 190.75h0M947.38 194.9h0M952.12 111.9h0M952.12 116.05h0M952.12 120.2h0M952.12 124.35h0M952.12 128.5h0M952.12 132.65h0M952.12 136.8h0M952.12 140.95h0M952.12 145.1h0M952.12 149.25h0M952.12 153.4h0M952.12 157.55h0M952.12 161.7h0M952.12 165.85h0M952.12 170h0M952.12 174.15h0M952.12 178.3h0M952.12 182.45h0M952.12 186.6h0M952.12 190.75h0M952.12 194.9h0M956.87 111.9h0M956.87 116.05h0M956.87 120.2h0M956.87 124.35h0M956.87 128.5h0M956.87 132.65h0M956.87 136.8h0M956.87 140.95h0M956.87 145.1h0M956.87 149.25h0M956.87 153.4h0M956.87 157.55h0M956.87 161.7h0M956.87 165.85h0M956.87 170h0M956.87 174.15h0M956.87 178.3h0M956.87 182.45h0M956.87 186.6h0M956.87 190.75h0M956.87 194.9h0M961.62 111.9h0M961.62 116.05h0M961.62 120.2h0M961.62 124.35h0M961.62 128.5h0M961.62 132.65h0M961.62 136.8h0M961.62 140.95h0M961.62 145.1h0M961.62 149.25h0M961.62 153.4h0M961.62 157.55h0M961.62 161.7h0M961.62 165.85h0M961.62 170h0M961.62 174.15h0M961.62 178.3h0M961.62 182.45h0M961.62 186.6h0M961.62 190.75h0M961.62 194.9h0M966.36 111.9h0M966.36 116.05h0M966.36 120.2h0M966.36 124.35h0M966.36 128.5h0M966.36 132.65h0M966.36 136.8h0M966.36 140.95h0M966.36 145.1h0M966.36 149.25h0M966.36 153.4h0M966.36 157.55h0M966.36 161.7h0M966.36 165.85h0M966.36 170h0M966.36 174.15h0M966.36 178.3h0M966.36 182.45h0M966.36 186.6h0M966.36 190.75h0M966.36 194.9h0M971.11 111.9h0M971.11 116.05h0M971.11 120.2h0M971.11 124.35h0M971.11 128.5h0M971.11 132.65h0M971.11 136.8h0M971.11 140.95h0M971.11 145.1h0M971.11 149.25h0M971.11 153.4h0M971.11 157.55h0M971.11 161.7h0M971.11 165.85h0M971.11 170h0M971.11 174.15h0M971.11 178.3h0M971.11 182.45h0M971.11 186.6h0M971.11 190.75h0M971.11 194.9h0M975.85 111.9h0M975.85 116.05h0M975.85 120.2h0M975.85 124.35h0M975.85 128.5h0M975.85 132.65h0M975.85 136.8h0M975.85 140.95h0M975.85 145.1h0M975.85 149.25h0M975.85 153.4h0M975.85 157.55h0M975.85 161.7h0M975.85 165.85h0M975.85 170h0M975.85 174.15h0M975.85 178.3h0M975.85 182.45h0M975.85 186.6h0M975.85 190.75h0M975.85 194.9h0M980.6 111.9h0M980.6 116.05h0M980.6 120.2h0M980.6 124.35h0M980.6 128.5h0M980.6 132.65h0M980.6 136.8h0M980.6 140.95h0M980.6 145.1h0M980.6 149.25h0M980.6 153.4h0M980.6 157.55h0M980.6 161.7h0M980.6 165.85h0M980.6 170h0M980.6 174.15h0M980.6 178.3h0M980.6 182.45h0M980.6 186.6h0M980.6 190.75h0M980.6 194.9h0M985.34 111.9h0M985.34 116.05h0M985.34 120.2h0M985.34 124.35h0M985.34 128.5h0M985.34 132.65h0M985.34 136.8h0M985.34 140.95h0M985.34 145.1h0M985.34 149.25h0M985.34 153.4h0M985.34 157.55h0M985.34 161.7h0M985.34 165.85h0M985.34 170h0M985.34 174.15h0M985.34 178.3h0M985.34 182.45h0M985.34 186.6h0M985.34 190.75h0M985.34 194.9h0M990.09 111.9h0M990.09 116.05h0M990.09 120.2h0M990.09 124.35h0M990.09 128.5h0M990.09 132.65h0M990.09 136.8h0M990.09 140.95h0M990.09 145.1h0M990.09 149.25h0M990.09 153.4h0M990.09 157.55h0M990.09 161.7h0M990.09 165.85h0M990.09 170h0M990.09 174.15h0M990.09 178.3h0M990.09 182.45h0M990.09 186.6h0M990.09 190.75h0M990.09 194.9h0M994.83 111.9h0M994.83 116.05h0M994.83 120.2h0M994.83 124.35h0M994.83 128.5h0M994.83 132.65h0M994.83 136.8h0M994.83 140.95h0M994.83 145.1h0M994.83 149.25h0M994.83 153.4h0M994.83 157.55h0M994.83 161.7h0M994.83 165.85h0M994.83 170h0M994.83 174.15h0M994.83 178.3h0M994.83 182.45h0M994.83 186.6h0M994.83 190.75h0M994.83 194.9h0M1023.4 111.9h0M1023.4 116.05h0M1023.4 120.2h0M1023.4 124.35h0M1023.4 128.5h0M1023.4 132.65h0M1023.4 136.8h0M1023.4 140.95h0M1023.4 145.1h0M1023.4 149.25h0M1023.4 153.4h0M1023.4 157.55h0M1023.4 161.7h0M1023.4 165.85h0M1023.4 170h0M1023.4 174.15h0M1023.4 178.3h0M1023.4 182.45h0M1023.4 186.6h0M1023.4 190.75h0M1023.4 194.9h0M1028.14 111.9h0M1028.14 116.05h0M1028.14 120.2h0M1028.14 124.35h0M1028.14 128.5h0M1028.14 132.65h0M1028.14 136.8h0M1028.14 140.95h0M1028.14 145.1h0M1028.14 149.25h0M1028.14 153.4h0M1028.14 157.55h0M1028.14 161.7h0M1028.14 165.85h0M1028.14 170h0M1028.14 174.15h0M1028.14 178.3h0M1028.14 182.45h0M1028.14 186.6h0M1028.14 190.75h0M1028.14 194.9h0M1032.89 111.9h0M1032.89 116.05h0M1032.89 120.2h0M1032.89 124.35h0M1032.89 128.5h0M1032.89 132.65h0M1032.89 136.8h0M1032.89 140.95h0M1032.89 145.1h0M1032.89 149.25h0M1032.89 153.4h0M1032.89 157.55h0M1032.89 161.7h0M1032.89 165.85h0M1032.89 170h0M1032.89 174.15h0M1032.89 178.3h0M1032.89 182.45h0M1032.89 186.6h0M1032.89 190.75h0M1032.89 194.9h0M1037.63 111.9h0M1037.63 116.05h0M1037.63 120.2h0M1037.63 124.35h0M1037.63 128.5h0M1037.63 132.65h0M1037.63 136.8h0M1037.63 140.95h0M1037.63 145.1h0M1037.63 149.25h0M1037.63 153.4h0M1037.63 157.55h0M1037.63 161.7h0M1037.63 165.85h0M1037.63 170h0M1037.63 174.15h0M1037.63 178.3h0M1037.63 182.45h0M1037.63 186.6h0M1037.63 190.75h0M1037.63 194.9h0M1042.38 111.9h0M1042.38 116.05h0M1042.38 120.2h0M1042.38 124.35h0M1042.38 128.5h0M1042.38 132.65h0M1042.38 136.8h0M1042.38 140.95h0M1042.38 145.1h0M1042.38 149.25h0M1042.38 153.4h0M1042.38 157.55h0M1042.38 161.7h0M1042.38 165.85h0M1042.38 170h0M1042.38 174.15h0M1042.38 178.3h0M1042.38 182.45h0M1042.38 186.6h0M1042.38 190.75h0M1042.38 194.9h0M1047.12 111.9h0M1047.12 116.05h0M1047.12 120.2h0M1047.12 124.35h0M1047.12 128.5h0M1047.12 132.65h0M1047.12 136.8h0M1047.12 140.95h0M1047.12 145.1h0M1047.12 149.25h0M1047.12 153.4h0M1047.12 157.55h0M1047.12 161.7h0M1047.12 165.85h0M1047.12 170h0M1047.12 174.15h0M1047.12 178.3h0M1047.12 182.45h0M1047.12 186.6h0M1047.12 190.75h0M1047.12 194.9h0M1051.87 111.9h0M1051.87 116.05h0M1051.87 120.2h0M1051.87 124.35h0M1051.87 128.5h0M1051.87 132.65h0M1051.87 136.8h0M1051.87 140.95h0M1051.87 145.1h0M1051.87 149.25h0M1051.87 153.4h0M1051.87 157.55h0M1051.87 161.7h0M1051.87 165.85h0M1051.87 170h0M1051.87 174.15h0M1051.87 178.3h0M1051.87 182.45h0M1051.87 186.6h0M1051.87 190.75h0M1051.87 194.9h0M1056.62 111.9h0M1056.62 116.05h0M1056.62 120.2h0M1056.62 124.35h0M1056.62 128.5h0M1056.62 132.65h0M1056.62 136.8h0M1056.62 140.95h0M1056.62 145.1h0M1056.62 149.25h0M1056.62 153.4h0M1056.62 157.55h0M1056.62 161.7h0M1056.62 165.85h0M1056.62 170h0M1056.62 174.15h0M1056.62 178.3h0M1056.62 182.45h0M1056.62 186.6h0M1056.62 190.75h0M1056.62 194.9h0M1061.36 111.9h0M1061.36 116.05h0M1061.36 120.2h0M1061.36 124.35h0M1061.36 128.5h0M1061.36 132.65h0M1061.36 136.8h0M1061.36 140.95h0M1061.36 145.1h0M1061.36 149.25h0M1061.36 153.4h0M1061.36 157.55h0M1061.36 161.7h0M1061.36 165.85h0M1061.36 170h0M1061.36 174.15h0M1061.36 178.3h0M1061.36 182.45h0M1061.36 186.6h0M1061.36 190.75h0M1061.36 194.9h0M1066.11 111.9h0M1066.11 116.05h0M1066.11 120.2h0M1066.11 124.35h0M1066.11 128.5h0M1066.11 132.65h0M1066.11 136.8h0M1066.11 140.95h0M1066.11 145.1h0M1066.11 149.25h0M1066.11 153.4h0M1066.11 157.55h0M1066.11 161.7h0M1066.11 165.85h0M1066.11 170h0M1066.11 174.15h0M1066.11 178.3h0M1066.11 182.45h0M1066.11 186.6h0M1066.11 190.75h0M1066.11 194.9h0M1070.85 111.9h0M1070.85 116.05h0M1070.85 120.2h0M1070.85 124.35h0M1070.85 128.5h0M1070.85 132.65h0M1070.85 136.8h0M1070.85 140.95h0M1070.85 145.1h0M1070.85 149.25h0M1070.85 153.4h0M1070.85 157.55h0M1070.85 161.7h0M1070.85 165.85h0M1070.85 170h0M1070.85 174.15h0M1070.85 178.3h0M1070.85 182.45h0M1070.85 186.6h0M1070.85 190.75h0M1070.85 194.9h0M1075.6 111.9h0M1075.6 116.05h0M1075.6 120.2h0M1075.6 124.35h0M1075.6 128.5h0M1075.6 132.65h0M1075.6 136.8h0M1075.6 140.95h0M1075.6 145.1h0M1075.6 149.25h0M1075.6 153.4h0M1075.6 157.55h0M1075.6 161.7h0M1075.6 165.85h0M1075.6 170h0M1075.6 174.15h0M1075.6 178.3h0M1075.6 182.45h0M1075.6 186.6h0M1075.6 190.75h0M1075.6 194.9h0M1080.34 111.9h0M1080.34 116.05h0M1080.34 120.2h0M1080.34 124.35h0M1080.34 128.5h0M1080.34 132.65h0M1080.34 136.8h0M1080.34 140.95h0M1080.34 145.1h0M1080.34 149.25h0M1080.34 153.4h0M1080.34 157.55h0M1080.34 161.7h0M1080.34 165.85h0M1080.34 170h0M1080.34 174.15h0M1080.34 178.3h0M1080.34 182.45h0M1080.34 186.6h0M1080.34 190.75h0M1080.34 194.9h0M1085.09 111.9h0M1085.09 116.05h0M1085.09 120.2h0M1085.09 124.35h0M1085.09 128.5h0M1085.09 132.65h0M1085.09 136.8h0M1085.09 140.95h0M1085.09 145.1h0M1085.09 149.25h0M1085.09 153.4h0M1085.09 157.55h0M1085.09 161.7h0M1085.09 165.85h0M1085.09 170h0M1085.09 174.15h0M1085.09 178.3h0M1085.09 182.45h0M1085.09 186.6h0M1085.09 190.75h0M1085.09 194.9h0M1089.83 111.9h0M1089.83 116.05h0M1089.83 120.2h0M1089.83 124.35h0M1089.83 128.5h0M1089.83 132.65h0M1089.83 136.8h0M1089.83 140.95h0M1089.83 145.1h0M1089.83 149.25h0M1089.83 153.4h0M1089.83 157.55h0M1089.83 161.7h0M1089.83 165.85h0M1089.83 170h0M1089.83 174.15h0M1089.83 178.3h0M1089.83 182.45h0M1089.83 186.6h0M1089.83 190.75h0M1089.83 194.9h0M1117.9 111.9h0M1117.9 116.05h0M1117.9 120.2h0M1117.9 124.35h0M1117.9 128.5h0M1117.9 132.65h0M1117.9 136.8h0M1117.9 140.95h0M1117.9 145.1h0M1117.9 149.25h0M1117.9 153.4h0M1117.9 157.55h0M1117.9 161.7h0M1117.9 165.85h0M1117.9 170h0M1117.9 174.15h0M1117.9 178.3h0M1117.9 182.45h0M1117.9 186.6h0M1117.9 190.75h0M1117.9 194.9h0M1122.64 111.9h0M1122.64 116.05h0M1122.64 120.2h0M1122.64 124.35h0M1122.64 128.5h0M1122.64 132.65h0M1122.64 136.8h0M1122.64 140.95h0M1122.64 145.1h0M1122.64 149.25h0M1122.64 153.4h0M1122.64 157.55h0M1122.64 161.7h0M1122.64 165.85h0M1122.64 170h0M1122.64 174.15h0M1122.64 178.3h0M1122.64 182.45h0M1122.64 186.6h0M1122.64 190.75h0M1122.64 194.9h0M1127.39 111.9h0M1127.39 116.05h0M1127.39 120.2h0M1127.39 124.35h0M1127.39 128.5h0M1127.39 132.65h0M1127.39 136.8h0M1127.39 140.95h0M1127.39 145.1h0M1127.39 149.25h0M1127.39 153.4h0M1127.39 157.55h0M1127.39 161.7h0M1127.39 165.85h0M1127.39 170h0M1127.39 174.15h0M1127.39 178.3h0M1127.39 182.45h0M1127.39 186.6h0M1127.39 190.75h0M1127.39 194.9h0M1132.13 111.9h0M1132.13 116.05h0M1132.13 120.2h0M1132.13 124.35h0M1132.13 128.5h0M1132.13 132.65h0M1132.13 136.8h0M1132.13 140.95h0M1132.13 145.1h0M1132.13 149.25h0M1132.13 153.4h0M1132.13 157.55h0M1132.13 161.7h0M1132.13 165.85h0M1132.13 170h0M1132.13 174.15h0M1132.13 178.3h0M1132.13 182.45h0M1132.13 186.6h0M1132.13 190.75h0M1132.13 194.9h0M1136.88 111.9h0M1136.88 116.05h0M1136.88 120.2h0M1136.88 124.35h0M1136.88 128.5h0M1136.88 132.65h0M1136.88 136.8h0M1136.88 140.95h0M1136.88 145.1h0M1136.88 149.25h0M1136.88 153.4h0M1136.88 157.55h0M1136.88 161.7h0M1136.88 165.85h0M1136.88 170h0M1136.88 174.15h0M1136.88 178.3h0M1136.88 182.45h0M1136.88 186.6h0M1136.88 190.75h0M1136.88 194.9h0M1141.62 111.9h0M1141.62 116.05h0M1141.62 120.2h0M1141.62 124.35h0M1141.62 128.5h0M1141.62 132.65h0M1141.62 136.8h0M1141.62 140.95h0M1141.62 145.1h0M1141.62 149.25h0M1141.62 153.4h0M1141.62 157.55h0M1141.62 161.7h0M1141.62 165.85h0M1141.62 170h0M1141.62 174.15h0M1141.62 178.3h0M1141.62 182.45h0M1141.62 186.6h0M1141.62 190.75h0M1141.62 194.9h0M1146.37 111.9h0M1146.37 116.05h0M1146.37 120.2h0M1146.37 124.35h0M1146.37 128.5h0M1146.37 132.65h0M1146.37 136.8h0M1146.37 140.95h0M1146.37 145.1h0M1146.37 149.25h0M1146.37 153.4h0M1146.37 157.55h0M1146.37 161.7h0M1146.37 165.85h0M1146.37 170h0M1146.37 174.15h0M1146.37 178.3h0M1146.37 182.45h0M1146.37 186.6h0M1146.37 190.75h0M1146.37 194.9h0M1151.11 111.9h0M1151.11 116.05h0M1151.11 120.2h0M1151.11 124.35h0M1151.11 128.5h0M1151.11 132.65h0M1151.11 136.8h0M1151.11 140.95h0M1151.11 145.1h0M1151.11 149.25h0M1151.11 153.4h0M1151.11 157.55h0M1151.11 161.7h0M1151.11 165.85h0M1151.11 170h0M1151.11 174.15h0M1151.11 178.3h0M1151.11 182.45h0M1151.11 186.6h0M1151.11 190.75h0M1151.11 194.9h0M1155.86 111.9h0M1155.86 116.05h0M1155.86 120.2h0M1155.86 124.35h0M1155.86 128.5h0M1155.86 132.65h0M1155.86 136.8h0M1155.86 140.95h0M1155.86 145.1h0M1155.86 149.25h0M1155.86 153.4h0M1155.86 157.55h0M1155.86 161.7h0M1155.86 165.85h0M1155.86 170h0M1155.86 174.15h0M1155.86 178.3h0M1155.86 182.45h0M1155.86 186.6h0M1155.86 190.75h0M1155.86 194.9h0M1160.6 111.9h0M1160.6 116.05h0M1160.6 120.2h0M1160.6 124.35h0M1160.6 128.5h0M1160.6 132.65h0M1160.6 136.8h0M1160.6 140.95h0M1160.6 145.1h0M1160.6 149.25h0M1160.6 153.4h0M1160.6 157.55h0M1160.6 161.7h0M1160.6 165.85h0M1160.6 170h0M1160.6 174.15h0M1160.6 178.3h0M1160.6 182.45h0M1160.6 186.6h0M1160.6 190.75h0M1160.6 194.9h0M1165.35 111.9h0M1165.35 116.05h0M1165.35 120.2h0M1165.35 124.35h0M1165.35 128.5h0M1165.35 132.65h0M1165.35 136.8h0M1165.35 140.95h0M1165.35 145.1h0M1165.35 149.25h0M1165.35 153.4h0M1165.35 157.55h0M1165.35 161.7h0M1165.35 165.85h0M1165.35 170h0M1165.35 174.15h0M1165.35 178.3h0M1165.35 182.45h0M1165.35 186.6h0M1165.35 190.75h0M1165.35 194.9h0M1170.09 111.9h0M1170.09 116.05h0M1170.09 120.2h0M1170.09 124.35h0M1170.09 128.5h0M1170.09 132.65h0M1170.09 136.8h0M1170.09 140.95h0M1170.09 145.1h0M1170.09 149.25h0M1170.09 153.4h0M1170.09 157.55h0M1170.09 161.7h0M1170.09 165.85h0M1170.09 170h0M1170.09 174.15h0M1170.09 178.3h0M1170.09 182.45h0M1170.09 186.6h0M1170.09 190.75h0M1170.09 194.9h0M1174.84 111.9h0M1174.84 116.05h0M1174.84 120.2h0M1174.84 124.35h0M1174.84 128.5h0M1174.84 132.65h0M1174.84 136.8h0M1174.84 140.95h0M1174.84 145.1h0M1174.84 149.25h0M1174.84 153.4h0M1174.84 157.55h0M1174.84 161.7h0M1174.84 165.85h0M1174.84 170h0M1174.84 174.15h0M1174.84 178.3h0M1174.84 182.45h0M1174.84 186.6h0M1174.84 190.75h0M1174.84 194.9h0M1179.58 111.9h0M1179.58 116.05h0M1179.58 120.2h0M1179.58 124.35h0M1179.58 128.5h0M1179.58 132.65h0M1179.58 136.8h0M1179.58 140.95h0M1179.58 145.1h0M1179.58 149.25h0M1179.58 153.4h0M1179.58 157.55h0M1179.58 161.7h0M1179.58 165.85h0M1179.58 170h0M1179.58 174.15h0M1179.58 178.3h0M1179.58 182.45h0M1179.58 186.6h0M1179.58 190.75h0M1179.58 194.9h0M1184.33 111.9h0M1184.33 116.05h0M1184.33 120.2h0M1184.33 124.35h0M1184.33 128.5h0M1184.33 132.65h0M1184.33 136.8h0M1184.33 140.95h0M1184.33 145.1h0M1184.33 149.25h0M1184.33 153.4h0M1184.33 157.55h0M1184.33 161.7h0M1184.33 165.85h0M1184.33 170h0M1184.33 174.15h0M1184.33 178.3h0M1184.33 182.45h0M1184.33 186.6h0M1184.33 190.75h0M1184.33 194.9h0" fill="none" stroke="#fff" stroke-width="0.85" stroke-linecap="round"/>
<path d="M907 110.8V196M921.7 110.8V196M1096.3 110.8V196M1111.2 110.8V196" fill="none" stroke="#000" stroke-width="1.5" stroke-dasharray="2 2.15"/>
<path d="M961.2 106.5V108.5M979.8 106.5V108.5M994.5 106.5V108.5M1131.8 106.5V108.5M1150.5 106.5V108.5M1169 106.5V108.5M1188 106.5V108.5M834 198V200M848 198V200M866.8 198V200M885.5 198V200M1023.5 198V200M1037.5 198V200M1056.3 198V200M1075 198V200M924.3 98.8H956.3V105.5H924.3ZM935.82 98.8V105.5M944.78 98.8V105.5M1081.3 98.8H1113V105.5H1081.3ZM1092.71 98.8V105.5M1101.59 98.8V105.5M894.5 201.8H926.8V208.3H894.5ZM906.13 201.8V208.3M915.17 201.8V208.3M1051.8 201.8H1083.8V208.3H1051.8ZM1063.32 201.8V208.3M1072.28 201.8V208.3M819.5 111.3H825.5V143.3H819.5ZM819.5 122.82H825.5M819.5 131.78H825.5M1191.8 135H1198V167H1191.8ZM1191.8 146.52H1198M1191.8 155.48H1198M817.4 413.3L822.1 418.4L817.4 423.6ZM491.2 128.6H503V144.6H491.2ZM527.6 128.6H537.5V144.6H527.6ZM546.5 361.25H557V377.5H546.5ZM517.5 460.5H557.5V503.75H517.5ZM524.5 519.2H530V527.3H544.9M524.5 519.2V523.5H530M568.75 460.5H608.75V503.75H568.75ZM575.75 519.2H581.25V527.3H596.15M575.75 519.2V523.5H581.25M619.5 460.5H659.5V503.75H619.5ZM626.5 519.2H632V527.3H646.9M626.5 519.2V523.5H632M670.75 460.5H710.75V503.75H670.75ZM677.75 519.2H683.25V527.3H698.15M677.75 519.2V523.5H683.25M605 513.75H616.25V520H605ZM656.5 513.75H667.75V520H656.5ZM707.5 513.75H718.75V520H707.5ZM1135 233.5h2.5M1148.5 233.5h3M1140 241v2.5M1146 241v2.5M1141 231h5M1162.5 321.25H1202.5V364.25H1162.5ZM1166.25 370H1178.25V375.5H1166.25ZM1193.25 370H1207V387H1193.25ZM912 451H928.5V458.5H912ZM827.5 522H868.25V565H827.5ZM874.5 522H915V565H874.5ZM922.5 522H963.25V565H922.5ZM973 522H1013.25V565H973ZM1022 522H1062V565H1022ZM1068.25 522H1108.75V565H1068.25ZM1120.75 522H1161.25V565H1120.75ZM798.75 572H834.5V602.5H798.75ZM882 581.2H887.5V589.3H902.4M882 581.2V585.5H887.5M930.25 581.2H935.75V589.3H950.65M930.25 581.2V585.5H935.75M979.5 579.7H985V587.8H999.9M979.5 579.7V584H985M1028.25 579.7H1033.75V587.8H1048.65M1028.25 579.7V584H1033.75M1070 575H1107V605H1070ZM1118.25 575H1155.25V605H1118.25ZM1177.5 433.25H1190.8V586.25H1177.5ZM221.25 709H238V717.5H221.25ZM80 682.5H153.25V724.25H80ZM83.6 684.15V688.35a3.1 3.1 0 0 1 -6.2 0V684.15a3.1 3.1 0 0 1 6.2 0ZM156.35 684.15V688.35a3.1 3.1 0 0 1 -6.2 0V684.15a3.1 3.1 0 0 1 6.2 0ZM83.6 704.65V708.85a3.1 3.1 0 0 1 -6.2 0V704.65a3.1 3.1 0 0 1 6.2 0ZM156.35 704.65V708.85a3.1 3.1 0 0 1 -6.2 0V704.65a3.1 3.1 0 0 1 6.2 0ZM86.3 735.3L95.7 735.3L91 730ZM488 650.5H557.5V710.5H488ZM490 643.75H494.5V648.25H490ZM497.5 643.75H502V648.25H497.5ZM505 643.75H509.5V648.25H505ZM512.5 643.75H517V648.25H512.5ZM598.5 562v7M600 566l3 3M524.5 605.75H530V617H524.5ZM532 605.75H537.5V617H532ZM755 618.75H771.25V626.25H755ZM777.5 601.25H789.25V606.75H777.5ZM596.25 637H600.25a2.5 2.5 0 0 1 0 5H596.25a2.5 2.5 0 0 1 0 -5ZM596.25 724.3H600.25a2.5 2.5 0 0 1 0 5H596.25a2.5 2.5 0 0 1 0 -5ZM616.75 637H620.75a2.5 2.5 0 0 1 0 5H616.75a2.5 2.5 0 0 1 0 -5ZM616.75 724.3H620.75a2.5 2.5 0 0 1 0 5H616.75a2.5 2.5 0 0 1 0 -5ZM765.4 661.5H899.25V681.8H765.4ZM920.5 671.25H948V692.5H920.5ZM955 693H982V713.75H955ZM1108 704.5H1143.75V721.75H1108ZM1092.5 623H1104.5V628.5H1092.5ZM1092.5 630.5H1104.5V636.25H1092.5ZM1111 622.5H1118V628.5H1111ZM1132 621H1138.5V627H1132ZM1148 613.25H1159.5V618.5H1148ZM1148 621H1159.5V626.5H1148ZM1716.55 122.2H1725.45a5 5 0 0 1 0 10H1716.55a5 5 0 0 1 0 -10ZM1678.2 133.5H1740.6M1678.2 136H1740.6M1678.2 222.6H1740.6M1678.2 225H1740.6M1740.6 127.7V230.8M1678.2 133.5V136M1678.2 222.6V225M1668.2 132.1H1673.2a4.4 4.4 0 0 1 0 8.8H1668.2a4.4 4.4 0 0 1 0 -8.8ZM1668.2 218.1H1673.2a4.4 4.4 0 0 1 0 8.8H1668.2a4.4 4.4 0 0 1 0 -8.8ZM1716.05 225.8H1724.95a5 5 0 0 1 0 10H1716.05a5 5 0 0 1 0 -10ZM1625.5 152H1641.5V160H1625.5ZM1617 172.5H1622.5V184.5H1617ZM1608.5 214.5H1614V225.5H1608.5ZM1615.8 248.4L1676.2 245.4L1676.2 278.6L1615.8 282.4ZM1728 275.2H1735.6a4.4 4.4 0 0 1 0 8.8H1728a4.4 4.4 0 0 1 0 -8.8ZM1728 326H1735.6a4.4 4.4 0 0 1 0 8.8H1728a4.4 4.4 0 0 1 0 -8.8ZM1728 389.6H1735.6a4.4 4.4 0 0 1 0 8.8H1728a4.4 4.4 0 0 1 0 -8.8ZM1728 440.4H1735.6a4.4 4.4 0 0 1 0 8.8H1728a4.4 4.4 0 0 1 0 -8.8ZM1709.5 295.5H1718.5V306H1709.5ZM1694.6 288.9H1700.1V300.2H1694.6ZM1646.8 347.5H1660.6V358H1646.8ZM1649.2 349.4H1653V356.1H1649.2ZM1654.6 349.4H1658.4V356.1H1654.6ZM1653 352.7h1.6M1646.3 428.5H1651.3V437.8H1646.3ZM1665.5 434.5H1678V442.6H1665.5ZM1684.5 432.5v11.5M1612.7 480.4H1644.4V511.6H1612.7ZM1631 516.8H1654.5V539.2H1631ZM1634.7 547.1a5.5 5.5 0 1 1 11 0a5.5 5.5 0 1 1 -11 0ZM1628.8 556.6a5.5 5.5 0 1 1 11 0a5.5 5.5 0 1 1 -11 0ZM1642.6 555.7a5.5 5.5 0 1 1 11 0a5.5 5.5 0 1 1 -11 0ZM1661 522.7H1673.3V527.6H1661ZM1531 567.5H1543.5V573.5H1531ZM1494.6 554.4H1512V590.5H1494.6ZM1599.4 565.8H1635.6V583.7H1599.4ZM1547.5 580.5H1553V592.5H1547.5ZM1476.4 598.8H1485.4V612.6H1476.4ZM1486 598.8H1495V612.6H1486ZM1482 605.7h7M1504.2 599.2H1510.2V610.6H1504.2ZM1511.3 599.2H1517.3V610.6H1511.3ZM1478 629.5H1483.6V640.5H1478ZM1626.8 646.7a5.8 5.8 0 1 1 11.6 0a5.8 5.8 0 1 1 -11.6 0ZM1626.8 658a5.8 5.8 0 1 1 11.6 0a5.8 5.8 0 1 1 -11.6 0ZM1647.6 627.7a5.8 5.8 0 1 1 11.6 0a5.8 5.8 0 1 1 -11.6 0ZM1658.3 621.5a5.8 5.8 0 1 1 11.6 0a5.8 5.8 0 1 1 -11.6 0ZM1673.4 600.2H1705.4V616.3H1673.4Z" fill="none" stroke="#000" stroke-width="1.2"/>
<path d="M935.82 100.4H944.78M1092.71 100.4H1101.59M906.13 203.4H915.17M1063.32 203.4H1072.28M823.9 122.82V131.78M1196.4 146.52V155.48M655 279.3l3 3m0 -3l-3 3M771.8 266.3L771.8 270.3M775.2 266.3L775.2 270.3M771.8 271L771.8 275M775.2 271L775.2 275M612 423.2h3.4m-1.7 -1.7v3.4M641 423.2h3.4M610 401.8h3.4M642.5 401.8h3.4m-1.7 -1.7v3.4M663.25 423.2h3.4m-1.7 -1.7v3.4M691.75 423.2h3.4M661.25 401.8h3.4M693.25 401.8h3.4m-1.7 -1.7v3.4M713.25 423.2h3.4m-1.7 -1.7v3.4M743 423.2h3.4M711.25 401.8h3.4M744.5 401.8h3.4m-1.7 -1.7v3.4M557.75 430.3h3.4m-1.7 -1.7v3.4M590.5 430.3h3.4M555.75 452.2h3.4M592 452.2h3.4m-1.7 -1.7v3.4M612 430.3h3.4m-1.7 -1.7v3.4M641 430.3h3.4M610 452.2h3.4M642.5 452.2h3.4m-1.7 -1.7v3.4M663.25 430.3h3.4m-1.7 -1.7v3.4M691.75 430.3h3.4M661.25 452.2h3.4M693.25 452.2h3.4m-1.7 -1.7v3.4M713.25 430.3h3.4m-1.7 -1.7v3.4M743 430.3h3.4M711.25 452.2h3.4M744.5 452.2h3.4m-1.7 -1.7v3.4M509.7 464.5h3m-1.5 -1.5v3M511.2 495.5v3.5M489 503v5M481 486.5h3.4m-1.7 -1.7v3.4M487 480h2.4M1187.23 294.25v5m2.2 -5v5m-4.4 -2.5h2.2m2.2 0h2.2M813.25 492.3h3.4m-1.7 -1.7v3.4M842.5 492.3h3.4M811.25 513.95h3.4M844 513.95h3.4m-1.7 -1.7v3.4M865.75 492.3h3.4m-1.7 -1.7v3.4M894.25 492.3h3.4M863.75 513.95h3.4M895.75 513.95h3.4m-1.7 -1.7v3.4M919.5 513.95h3.4m-1.7 -1.7v3.4M948 513.95h3.4M917.5 492.3h3.4M949.5 492.3h3.4m-1.7 -1.7v3.4M970.75 492.3h3.4m-1.7 -1.7v3.4M999.25 492.3h3.4M968.75 513.95h3.4M1000.75 513.95h3.4m-1.7 -1.7v3.4M1024.5 513.95h3.4m-1.7 -1.7v3.4M1053 513.95h3.4M1022.5 492.3h3.4M1054.5 492.3h3.4m-1.7 -1.7v3.4M1075.25 492.3h3.4m-1.7 -1.7v3.4M1103.75 492.3h3.4M1073.25 513.95h3.4M1105.25 513.95h3.4m-1.7 -1.7v3.4M1127 513.95h3.4m-1.7 -1.7v3.4M1153.75 513.95h3.4M1125 492.3h3.4M1155.25 492.3h3.4m-1.7 -1.7v3.4M802 492h4M1163.5 512.5h4M183 607L186 607L184.5 610ZM221.2 697.3L221.2 700.7L217.8 699ZM235 712.5a1 1 0 1 1 2 0a1 1 0 1 1 -2 0ZM253.3 698L256.3 698L254.8 701ZM427.64 651.25v5m2.2 -5v5m-4.4 -2.5h2.2m2.2 0h2.2M437 664h4m-2 -2v4M559.98 554.38v5m2.2 -5v5m-4.4 -2.5h2.2m2.2 0h2.2M549 546.5h3m-1.5 -1.5v3M567 546.5h3M690 562.75l3 3m0 -3l-3 3M772.5 622.5h3m-1.5 -1.5v3M933.5 631.5H948V639H933.5ZM953.5 631.5H968V639H953.5ZM1140.5 670.8H1145V675H1140.5ZM983 629.5l3 3m0 -3l-3 3M1026.25 629.5l3 3m0 -3l-3 3M1621.9 163.2L1624.5 164.5L1621.9 165.8ZM1603.45 171.3L1603.45 176.3M1608.05 171.3L1608.05 176.3M1643.9 183L1643.9 187M1647.1 183L1647.1 187M1630.7 188L1630.7 192.5M1634.3 188L1634.3 192.5M1642.85 193.5L1642.85 197.5M1646.65 193.5L1646.65 197.5M1641.5 195.5l3 -1.5v3zM1621.5 231.5h3m-1.5 -1.5v3M1621.5 246.5h4.5M1708 301h12M1631.2 356.2L1635.5 356.2M1631.2 359.4L1635.5 359.4M1631.2 365.28L1635.5 365.28M1631.2 368.32L1635.5 368.32M1661 435.5v6M1680.5 435.5v6M1632.2 531.5H1634V537.5H1632.2ZM1651.5 531.5H1653.3V537.5H1651.5ZM1684 512H1686V523H1684ZM1496 555.6H1499.5V557.5H1496ZM1496 587.4H1499.5V589.3H1496ZM1600.5 567H1602.3V572H1600.5ZM1632.6 567H1634.4V572H1632.6ZM1488.5 641h3m-1.5 -1.5v3M1528.5 650h3.4m-1.7 -1.7v3.4M1487.5 653v4M1529.5 664v4M1470 676.19L1476.3 676.19M1470 681.11L1476.3 681.11M1477.3 676.19L1483.6 676.19M1477.3 681.11L1483.6 681.11M1508.5 688.5H1511.1V691H1508.5ZM1513 688.5H1515.6V691H1513ZM1517.5 688.5H1520.1V691H1517.5ZM1522 688.5H1524.6V691H1522ZM1522.09 692L1522.09 697.8M1526.61 692L1526.61 697.8M1522.09 699.5L1522.09 705.5M1526.61 699.5L1526.61 705.5" fill="none" stroke="#000" stroke-width="0.8"/>
<path d="M926.1 104.4L930.5 104.4L928.3 108.8ZM1115.3 104.4L1119.7 104.4L1117.5 108.8ZM897.3 202L899.5 197.6L901.7 202ZM1087.1 202L1089.3 197.6L1091.5 202ZM784.5 192.7L787.5 194.2L784.5 195.7ZM798.5 197L798.5 201L794.5 199ZM588 393L588 396L585 394.5ZM719.7 521.95L723.3 523.75L719.7 525.55ZM1063.3 434.9L1065 431.5L1066.7 434.9ZM1065.5 577.5L1069.5 579.5L1065.5 581.5ZM1159.5 600L1159.5 604L1155.5 602ZM239 596.5L243 596.5L241 600.5ZM543.2 592.8L543.2 596.2L539.8 594.5ZM616.5 594.5L616.5 598.5L612.5 596.5ZM643.3 635.2L645.5 630.8L647.7 635.2ZM1140.3 675.2L1140.3 677.8L1137.7 676.5ZM936.05 660.6L940.45 660.6L938.25 665ZM970.3 681.7L974.7 681.7L972.5 686.1ZM1113.5 697.3L1117.5 697.3L1115.5 701.3ZM1044 686L1048 688L1044 690ZM1103.8 619.3L1107.2 621L1103.8 622.7ZM1145.7 626.3L1145.7 629.7L1142.3 628ZM1673.7 476.5L1675 473.9L1676.3 476.5ZM1599.2 482.9L1603.4 485L1599.2 487.1ZM1598.8 564.6L1600.7 560.8L1602.6 564.6ZM1681.4 532.6L1683.5 528.4L1685.6 532.6ZM1551.5 568.5L1551.5 572.5L1547.5 570.5ZM1518.4 560.9L1518.4 564.1L1515.2 562.5ZM1625.6 590L1627.6 586L1629.6 590ZM1519.7 663.2L1524.3 663.2L1522 667.8Z" fill="#000" stroke="#000" stroke-width="1"/>
<path d="M570.5 92.5H641.75V175.75H570.5ZM667.25 92.5H739V175.75H667.25ZM476.75 188.75H559.75V260H476.75ZM476.75 285.75H559.75V357H476.75ZM522.4 514.9H544.9V537.4H522.4ZM573.65 514.9H596.15V537.4H573.65ZM624.4 514.9H646.9V537.4H624.4ZM675.65 514.9H698.15V537.4H675.65ZM1146.25 415H1160V423.75H1146.25ZM879.9 576.9H902.4V599.4H879.9ZM928.15 576.9H950.65V599.4H928.15ZM977.4 575.4H999.9V597.9H977.4ZM1026.15 575.4H1048.65V597.9H1026.15ZM518.1 580.1H532.65V594.4H518.1ZM591.85 580.6H606.4V594.9H591.85ZM547.5 630.75H565.5V648.25H547.5ZM1682.5 510.5H1695V524.5H1682.5ZM1529.6 600.2H1537.6V613.2H1529.6ZM1537.6 600.2H1546.5V613.2H1537.6ZM1507.4 622.6H1523.6V645H1507.4ZM1485.2 662H1493.3V675.6H1485.2ZM1493.3 662H1501.5V675.6H1493.3ZM1506.7 670.5H1525.3V690.4H1506.7ZM1531.4 671H1540V684.4H1531.4ZM1540 671H1548.6V684.4H1540Z" fill="none" stroke="#000" stroke-width="1.5"/>
<path d="M577.25 96.25h0M577.25 100.75h0M577.25 105.25h0M577.25 109.75h0M577.25 114.25h0M577.25 118.75h0M577.25 123.25h0M577.25 127.75h0M577.25 132.25h0M577.25 136.75h0M577.25 141.25h0M577.25 145.75h0M577.25 150.25h0M577.25 154.75h0M577.25 159.25h0M577.25 163.75h0M577.25 168.25h0M577.25 172.75h0M581.75 96.25h0M581.75 100.75h0M581.75 105.25h0M581.75 109.75h0M581.75 114.25h0M581.75 118.75h0M581.75 123.25h0M581.75 127.75h0M581.75 132.25h0M581.75 136.75h0M581.75 141.25h0M581.75 145.75h0M581.75 150.25h0M581.75 154.75h0M581.75 159.25h0M581.75 163.75h0M581.75 168.25h0M581.75 172.75h0M586.25 96.25h0M586.25 100.75h0M586.25 105.25h0M586.25 109.75h0M586.25 114.25h0M586.25 118.75h0M586.25 123.25h0M586.25 127.75h0M586.25 132.25h0M586.25 136.75h0M586.25 141.25h0M586.25 145.75h0M586.25 150.25h0M586.25 154.75h0M586.25 159.25h0M586.25 163.75h0M586.25 168.25h0M586.25 172.75h0M590.75 96.25h0M590.75 100.75h0M590.75 105.25h0M590.75 109.75h0M590.75 114.25h0M590.75 118.75h0M590.75 123.25h0M590.75 127.75h0M590.75 132.25h0M590.75 136.75h0M590.75 141.25h0M590.75 145.75h0M590.75 150.25h0M590.75 154.75h0M590.75 159.25h0M590.75 163.75h0M590.75 168.25h0M590.75 172.75h0M595.25 96.25h0M595.25 100.75h0M595.25 105.25h0M595.25 109.75h0M595.25 114.25h0M595.25 118.75h0M595.25 123.25h0M595.25 127.75h0M595.25 132.25h0M595.25 136.75h0M595.25 141.25h0M595.25 145.75h0M595.25 150.25h0M595.25 154.75h0M595.25 159.25h0M595.25 163.75h0M595.25 168.25h0M595.25 172.75h0M617.25 96.25h0M617.25 100.75h0M617.25 105.25h0M617.25 109.75h0M617.25 114.25h0M617.25 118.75h0M617.25 123.25h0M617.25 127.75h0M617.25 132.25h0M617.25 136.75h0M617.25 141.25h0M617.25 145.75h0M617.25 150.25h0M617.25 154.75h0M617.25 159.25h0M617.25 163.75h0M617.25 168.25h0M617.25 172.75h0M621.75 96.25h0M621.75 100.75h0M621.75 105.25h0M621.75 109.75h0M621.75 114.25h0M621.75 118.75h0M621.75 123.25h0M621.75 127.75h0M621.75 132.25h0M621.75 136.75h0M621.75 141.25h0M621.75 145.75h0M621.75 150.25h0M621.75 154.75h0M621.75 159.25h0M621.75 163.75h0M621.75 168.25h0M621.75 172.75h0M626.25 96.25h0M626.25 100.75h0M626.25 105.25h0M626.25 109.75h0M626.25 114.25h0M626.25 118.75h0M626.25 123.25h0M626.25 127.75h0M626.25 132.25h0M626.25 136.75h0M626.25 141.25h0M626.25 145.75h0M626.25 150.25h0M626.25 154.75h0M626.25 159.25h0M626.25 163.75h0M626.25 168.25h0M626.25 172.75h0M630.75 96.25h0M630.75 100.75h0M630.75 105.25h0M630.75 109.75h0M630.75 114.25h0M630.75 118.75h0M630.75 123.25h0M630.75 127.75h0M630.75 132.25h0M630.75 136.75h0M630.75 141.25h0M630.75 145.75h0M630.75 150.25h0M630.75 154.75h0M630.75 159.25h0M630.75 163.75h0M630.75 168.25h0M630.75 172.75h0M635.25 96.25h0M635.25 100.75h0M635.25 105.25h0M635.25 109.75h0M635.25 114.25h0M635.25 118.75h0M635.25 123.25h0M635.25 127.75h0M635.25 132.25h0M635.25 136.75h0M635.25 141.25h0M635.25 145.75h0M635.25 150.25h0M635.25 154.75h0M635.25 159.25h0M635.25 163.75h0M635.25 168.25h0M635.25 172.75h0M674 96.25h0M674 100.75h0M674 105.25h0M674 109.75h0M674 114.25h0M674 118.75h0M674 123.25h0M674 127.75h0M674 132.25h0M674 136.75h0M674 141.25h0M674 145.75h0M674 150.25h0M674 154.75h0M674 159.25h0M674 163.75h0M674 168.25h0M674 172.75h0M678.5 96.25h0M678.5 100.75h0M678.5 105.25h0M678.5 109.75h0M678.5 114.25h0M678.5 118.75h0M678.5 123.25h0M678.5 127.75h0M678.5 132.25h0M678.5 136.75h0M678.5 141.25h0M678.5 145.75h0M678.5 150.25h0M678.5 154.75h0M678.5 159.25h0M678.5 163.75h0M678.5 168.25h0M678.5 172.75h0M683 96.25h0M683 100.75h0M683 105.25h0M683 109.75h0M683 114.25h0M683 118.75h0M683 123.25h0M683 127.75h0M683 132.25h0M683 136.75h0M683 141.25h0M683 145.75h0M683 150.25h0M683 154.75h0M683 159.25h0M683 163.75h0M683 168.25h0M683 172.75h0M687.5 96.25h0M687.5 100.75h0M687.5 105.25h0M687.5 109.75h0M687.5 114.25h0M687.5 118.75h0M687.5 123.25h0M687.5 127.75h0M687.5 132.25h0M687.5 136.75h0M687.5 141.25h0M687.5 145.75h0M687.5 150.25h0M687.5 154.75h0M687.5 159.25h0M687.5 163.75h0M687.5 168.25h0M687.5 172.75h0M692 96.25h0M692 100.75h0M692 105.25h0M692 109.75h0M692 114.25h0M692 118.75h0M692 123.25h0M692 127.75h0M692 132.25h0M692 136.75h0M692 141.25h0M692 145.75h0M692 150.25h0M692 154.75h0M692 159.25h0M692 163.75h0M692 168.25h0M692 172.75h0M714 96.25h0M714 100.75h0M714 105.25h0M714 109.75h0M714 114.25h0M714 118.75h0M714 123.25h0M714 127.75h0M714 132.25h0M714 136.75h0M714 141.25h0M714 145.75h0M714 150.25h0M714 154.75h0M714 159.25h0M714 163.75h0M714 168.25h0M714 172.75h0M718.5 96.25h0M718.5 100.75h0M718.5 105.25h0M718.5 109.75h0M718.5 114.25h0M718.5 118.75h0M718.5 123.25h0M718.5 127.75h0M718.5 132.25h0M718.5 136.75h0M718.5 141.25h0M718.5 145.75h0M718.5 150.25h0M718.5 154.75h0M718.5 159.25h0M718.5 163.75h0M718.5 168.25h0M718.5 172.75h0M723 96.25h0M723 100.75h0M723 105.25h0M723 109.75h0M723 114.25h0M723 118.75h0M723 123.25h0M723 127.75h0M723 132.25h0M723 136.75h0M723 141.25h0M723 145.75h0M723 150.25h0M723 154.75h0M723 159.25h0M723 163.75h0M723 168.25h0M723 172.75h0M727.5 96.25h0M727.5 100.75h0M727.5 105.25h0M727.5 109.75h0M727.5 114.25h0M727.5 118.75h0M727.5 123.25h0M727.5 127.75h0M727.5 132.25h0M727.5 136.75h0M727.5 141.25h0M727.5 145.75h0M727.5 150.25h0M727.5 154.75h0M727.5 159.25h0M727.5 163.75h0M727.5 168.25h0M727.5 172.75h0M732 96.25h0M732 100.75h0M732 105.25h0M732 109.75h0M732 114.25h0M732 118.75h0M732 123.25h0M732 127.75h0M732 132.25h0M732 136.75h0M732 141.25h0M732 145.75h0M732 150.25h0M732 154.75h0M732 159.25h0M732 163.75h0M732 168.25h0M732 172.75h0M480.25 195.75h0M484.75 195.75h0M489.25 195.75h0M493.75 195.75h0M498.25 195.75h0M502.75 195.75h0M507.25 195.75h0M511.75 195.75h0M516.25 195.75h0M520.75 195.75h0M525.25 195.75h0M529.75 195.75h0M534.25 195.75h0M538.75 195.75h0M543.25 195.75h0M547.75 195.75h0M552.25 195.75h0M556.75 195.75h0M480.25 200.25h0M484.75 200.25h0M489.25 200.25h0M493.75 200.25h0M498.25 200.25h0M502.75 200.25h0M507.25 200.25h0M511.75 200.25h0M516.25 200.25h0M520.75 200.25h0M525.25 200.25h0M529.75 200.25h0M534.25 200.25h0M538.75 200.25h0M543.25 200.25h0M547.75 200.25h0M552.25 200.25h0M556.75 200.25h0M480.25 204.75h0M484.75 204.75h0M489.25 204.75h0M493.75 204.75h0M498.25 204.75h0M502.75 204.75h0M507.25 204.75h0M511.75 204.75h0M516.25 204.75h0M520.75 204.75h0M525.25 204.75h0M529.75 204.75h0M534.25 204.75h0M538.75 204.75h0M543.25 204.75h0M547.75 204.75h0M552.25 204.75h0M556.75 204.75h0M480.25 209.25h0M484.75 209.25h0M489.25 209.25h0M493.75 209.25h0M498.25 209.25h0M502.75 209.25h0M507.25 209.25h0M511.75 209.25h0M516.25 209.25h0M520.75 209.25h0M525.25 209.25h0M529.75 209.25h0M534.25 209.25h0M538.75 209.25h0M543.25 209.25h0M547.75 209.25h0M552.25 209.25h0M556.75 209.25h0M480.25 213.75h0M484.75 213.75h0M489.25 213.75h0M493.75 213.75h0M498.25 213.75h0M502.75 213.75h0M507.25 213.75h0M511.75 213.75h0M516.25 213.75h0M520.75 213.75h0M525.25 213.75h0M529.75 213.75h0M534.25 213.75h0M538.75 213.75h0M543.25 213.75h0M547.75 213.75h0M552.25 213.75h0M556.75 213.75h0M480.25 235.5h0M484.75 235.5h0M489.25 235.5h0M493.75 235.5h0M498.25 235.5h0M502.75 235.5h0M507.25 235.5h0M511.75 235.5h0M516.25 235.5h0M520.75 235.5h0M525.25 235.5h0M529.75 235.5h0M534.25 235.5h0M538.75 235.5h0M543.25 235.5h0M547.75 235.5h0M552.25 235.5h0M556.75 235.5h0M480.25 240h0M484.75 240h0M489.25 240h0M493.75 240h0M498.25 240h0M502.75 240h0M507.25 240h0M511.75 240h0M516.25 240h0M520.75 240h0M525.25 240h0M529.75 240h0M534.25 240h0M538.75 240h0M543.25 240h0M547.75 240h0M552.25 240h0M556.75 240h0M480.25 244.5h0M484.75 244.5h0M489.25 244.5h0M493.75 244.5h0M498.25 244.5h0M502.75 244.5h0M507.25 244.5h0M511.75 244.5h0M516.25 244.5h0M520.75 244.5h0M525.25 244.5h0M529.75 244.5h0M534.25 244.5h0M538.75 244.5h0M543.25 244.5h0M547.75 244.5h0M552.25 244.5h0M556.75 244.5h0M480.25 249h0M484.75 249h0M489.25 249h0M493.75 249h0M498.25 249h0M502.75 249h0M507.25 249h0M511.75 249h0M516.25 249h0M520.75 249h0M525.25 249h0M529.75 249h0M534.25 249h0M538.75 249h0M543.25 249h0M547.75 249h0M552.25 249h0M556.75 249h0M480.25 253.5h0M484.75 253.5h0M489.25 253.5h0M493.75 253.5h0M498.25 253.5h0M502.75 253.5h0M507.25 253.5h0M511.75 253.5h0M516.25 253.5h0M520.75 253.5h0M525.25 253.5h0M529.75 253.5h0M534.25 253.5h0M538.75 253.5h0M543.25 253.5h0M547.75 253.5h0M552.25 253.5h0M556.75 253.5h0M480.25 292.75h0M484.75 292.75h0M489.25 292.75h0M493.75 292.75h0M498.25 292.75h0M502.75 292.75h0M507.25 292.75h0M511.75 292.75h0M516.25 292.75h0M520.75 292.75h0M525.25 292.75h0M529.75 292.75h0M534.25 292.75h0M538.75 292.75h0M543.25 292.75h0M547.75 292.75h0M552.25 292.75h0M556.75 292.75h0M480.25 297.25h0M484.75 297.25h0M489.25 297.25h0M493.75 297.25h0M498.25 297.25h0M502.75 297.25h0M507.25 297.25h0M511.75 297.25h0M516.25 297.25h0M520.75 297.25h0M525.25 297.25h0M529.75 297.25h0M534.25 297.25h0M538.75 297.25h0M543.25 297.25h0M547.75 297.25h0M552.25 297.25h0M556.75 297.25h0M480.25 301.75h0M484.75 301.75h0M489.25 301.75h0M493.75 301.75h0M498.25 301.75h0M502.75 301.75h0M507.25 301.75h0M511.75 301.75h0M516.25 301.75h0M520.75 301.75h0M525.25 301.75h0M529.75 301.75h0M534.25 301.75h0M538.75 301.75h0M543.25 301.75h0M547.75 301.75h0M552.25 301.75h0M556.75 301.75h0M480.25 306.25h0M484.75 306.25h0M489.25 306.25h0M493.75 306.25h0M498.25 306.25h0M502.75 306.25h0M507.25 306.25h0M511.75 306.25h0M516.25 306.25h0M520.75 306.25h0M525.25 306.25h0M529.75 306.25h0M534.25 306.25h0M538.75 306.25h0M543.25 306.25h0M547.75 306.25h0M552.25 306.25h0M556.75 306.25h0M480.25 310.75h0M484.75 310.75h0M489.25 310.75h0M493.75 310.75h0M498.25 310.75h0M502.75 310.75h0M507.25 310.75h0M511.75 310.75h0M516.25 310.75h0M520.75 310.75h0M525.25 310.75h0M529.75 310.75h0M534.25 310.75h0M538.75 310.75h0M543.25 310.75h0M547.75 310.75h0M552.25 310.75h0M556.75 310.75h0M480.25 332.5h0M484.75 332.5h0M489.25 332.5h0M493.75 332.5h0M498.25 332.5h0M502.75 332.5h0M507.25 332.5h0M511.75 332.5h0M516.25 332.5h0M520.75 332.5h0M525.25 332.5h0M529.75 332.5h0M534.25 332.5h0M538.75 332.5h0M543.25 332.5h0M547.75 332.5h0M552.25 332.5h0M556.75 332.5h0M480.25 337h0M484.75 337h0M489.25 337h0M493.75 337h0M498.25 337h0M502.75 337h0M507.25 337h0M511.75 337h0M516.25 337h0M520.75 337h0M525.25 337h0M529.75 337h0M534.25 337h0M538.75 337h0M543.25 337h0M547.75 337h0M552.25 337h0M556.75 337h0M480.25 341.5h0M484.75 341.5h0M489.25 341.5h0M493.75 341.5h0M498.25 341.5h0M502.75 341.5h0M507.25 341.5h0M511.75 341.5h0M516.25 341.5h0M520.75 341.5h0M525.25 341.5h0M529.75 341.5h0M534.25 341.5h0M538.75 341.5h0M543.25 341.5h0M547.75 341.5h0M552.25 341.5h0M556.75 341.5h0M480.25 346h0M484.75 346h0M489.25 346h0M493.75 346h0M498.25 346h0M502.75 346h0M507.25 346h0M511.75 346h0M516.25 346h0M520.75 346h0M525.25 346h0M529.75 346h0M534.25 346h0M538.75 346h0M543.25 346h0M547.75 346h0M552.25 346h0M556.75 346h0M480.25 350.5h0M484.75 350.5h0M489.25 350.5h0M493.75 350.5h0M498.25 350.5h0M502.75 350.5h0M507.25 350.5h0M511.75 350.5h0M516.25 350.5h0M520.75 350.5h0M525.25 350.5h0M529.75 350.5h0M534.25 350.5h0M538.75 350.5h0M543.25 350.5h0M547.75 350.5h0M552.25 350.5h0M556.75 350.5h0" fill="none" stroke="#fff" stroke-width="0.8" stroke-linecap="round"/>
<path d="M603.42 134.62a2.7 2.7 0 1 1 5.4 0a2.7 2.7 0 1 1 -5.4 0ZM700.42 134.62a2.7 2.7 0 1 1 5.4 0a2.7 2.7 0 1 1 -5.4 0ZM515.55 224.38a2.7 2.7 0 1 1 5.4 0a2.7 2.7 0 1 1 -5.4 0ZM515.55 321.38a2.7 2.7 0 1 1 5.4 0a2.7 2.7 0 1 1 -5.4 0ZM489.2 96.8L492.8 96.8L491 100.4ZM496 147.3h3.5M530.5 147.3h3.5M651.6 400.25H655.9V453H651.6ZM752.1 400.25H754.65V453H752.1ZM551.8 429H554.2V453.5H551.8ZM740.5 460H745.5V462.5H740.5ZM740.5 528.5H745.5V531H740.5ZM1037 234v4M1048.5 234v4M1052.5 236h3m-1.5 -1.5v3M1170 283.5h4m-2 -2v4M1200 285h3M1177.74 288.9H1202.3M1177.74 304.6H1202.3M1167.5 370.5H1171V375H1167.5ZM1195.2 371.6H1205V385.4H1195.2ZM851.6 490.75H853.9V515.5H851.6ZM904.1 490.75H906.4V515.5H904.1ZM910.1 490.75H912.65V515.5H910.1ZM1009.1 490.75H1010.9V515.5H1009.1ZM1014.6 490.75H1016.4V515.5H1014.6ZM1112.85 490.75H1113.2V515.5H1112.85ZM1116.8 490.75H1117.15V515.5H1116.8ZM839.25 613L840.75 610L842.25 613ZM1075 588L1078 585L1078 591ZM1123.25 588L1126.25 585L1126.25 591ZM192.5 715.5H195.5V718.8H192.5ZM196.5 715.5H199.5V718.8H196.5ZM62.5 698H71.25M62.5 726H71.25M66.5 703H70V709H66.5ZM66.5 715H70V721H66.5ZM419.25 646.7H441.25M419.25 660.8H441.25M489.5 655q2.5 -3 5 0M550.9 549.95H574.5M550.9 563.8H574.5M712.25 553.75h5m-2.5 -2.5v5M688.5 590.25h5.5M713.25 602.75h5.5M757 620.3H762V624.8H757ZM764.5 620.3H769.5V624.8H764.5ZM596.35 638.2H600.15a1.3 1.3 0 0 1 0 2.6H596.35a1.3 1.3 0 0 1 0 -2.6ZM596.35 725.5H600.15a1.3 1.3 0 0 1 0 2.6H596.35a1.3 1.3 0 0 1 0 -2.6ZM616.85 638.2H620.65a1.3 1.3 0 0 1 0 2.6H616.85a1.3 1.3 0 0 1 0 -2.6ZM616.85 725.5H620.65a1.3 1.3 0 0 1 0 2.6H616.85a1.3 1.3 0 0 1 0 -2.6ZM572 646L574 649L572 652M896.25 671.75H898.75V677.5H896.25ZM766.5 671.75H769V677.5H766.5ZM950 616v6m-2.5 -3h5M972 622.5v4m-2 -2h4M971.5 642v4M921.7 681.88H923.7V688.25H921.7ZM944.8 681.88H946.8V688.25H944.8ZM956.2 703.38H958.2V709.6H956.2ZM978.8 703.38H980.8V709.6H978.8ZM1109.2 713.12H1111.2V718.3H1109.2ZM1140.55 713.12H1142.55V718.3H1140.55ZM1005.25 620.5h5m-2.5 -2.5v5M981.5 657h5.5M1006.25 669.5h5.5M1048.75 620.5h5m-2.5 -2.5v5M1024.75 657h5.5M1049.75 669.5h5.5M1172 597v6.75M1172 719.5v6.75M1633.3 236.5a1.2 1.2 0 1 1 2.4 0a1.2 1.2 0 1 1 -2.4 0ZM1660.5 372l3 2l-3 2zM1664 372v4M1600.7 511v2.5M1623.1 511v2.5M1636.6 513.1L1640.4 513.1L1638.5 516.9ZM1512.5 613.2L1517.5 613.2L1515 616.2ZM1490.8 647.5H1501M1490.8 649.1H1501M1490.8 650.7H1501M1490.8 652.3H1501M1490.8 653.9H1501M1531 655.7H1541.4M1531 657.3H1541.4M1531 658.9H1541.4M1531 660.5H1541.4M1531 662.1H1541.4" fill="none" stroke="#000" stroke-width="0.9"/>
<path d="M583.6 195.87h0M587.77 195.87h0M591.93 195.87h0M596.09 195.87h0M600.26 195.87h0M604.42 195.87h0M608.58 195.87h0M612.74 195.87h0M616.91 195.87h0M621.07 195.87h0M625.23 195.87h0M629.4 195.87h0M633.56 195.87h0M637.72 195.87h0M641.89 195.87h0M646.05 195.87h0M650.21 195.87h0M658.54 195.87h0M662.7 195.87h0M671.03 195.87h0M675.19 195.87h0M683.52 195.87h0M687.68 195.87h0M696 195.87h0M700.17 195.87h0M708.49 195.87h0M712.66 195.87h0M720.98 195.87h0M725.15 195.87h0M733.47 195.87h0M737.63 195.87h0M579.44 200.03h0M583.6 200.03h0M587.77 200.03h0M591.93 200.03h0M596.09 200.03h0M600.26 200.03h0M604.42 200.03h0M608.58 200.03h0M612.74 200.03h0M616.91 200.03h0M621.07 200.03h0M625.23 200.03h0M629.4 200.03h0M633.56 200.03h0M637.72 200.03h0M641.89 200.03h0M646.05 200.03h0M650.21 200.03h0M654.37 200.03h0M658.54 200.03h0M662.7 200.03h0M666.86 200.03h0M671.03 200.03h0M675.19 200.03h0M679.35 200.03h0M683.52 200.03h0M687.68 200.03h0M691.84 200.03h0M696 200.03h0M700.17 200.03h0M704.33 200.03h0M708.49 200.03h0M712.66 200.03h0M716.82 200.03h0M720.98 200.03h0M725.15 200.03h0M729.31 200.03h0M733.47 200.03h0M737.63 200.03h0M741.8 200.03h0M579.44 204.2h0M583.6 204.2h0M587.77 204.2h0M596.09 204.2h0M600.26 204.2h0M608.58 204.2h0M612.74 204.2h0M621.07 204.2h0M625.23 204.2h0M633.56 204.2h0M637.72 204.2h0M646.05 204.2h0M650.21 204.2h0M658.54 204.2h0M662.7 204.2h0M671.03 204.2h0M675.19 204.2h0M683.52 204.2h0M687.68 204.2h0M696 204.2h0M700.17 204.2h0M708.49 204.2h0M712.66 204.2h0M720.98 204.2h0M725.15 204.2h0M733.47 204.2h0M737.63 204.2h0M741.8 204.2h0M579.44 208.36h0M583.6 208.36h0M587.77 208.36h0M591.93 208.36h0M596.09 208.36h0M600.26 208.36h0M604.42 208.36h0M608.58 208.36h0M612.74 208.36h0M616.91 208.36h0M621.07 208.36h0M625.23 208.36h0M629.4 208.36h0M633.56 208.36h0M637.72 208.36h0M641.89 208.36h0M646.05 208.36h0M650.21 208.36h0M654.37 208.36h0M658.54 208.36h0M662.7 208.36h0M666.86 208.36h0M671.03 208.36h0M675.19 208.36h0M679.35 208.36h0M683.52 208.36h0M687.68 208.36h0M691.84 208.36h0M696 208.36h0M700.17 208.36h0M704.33 208.36h0M708.49 208.36h0M712.66 208.36h0M716.82 208.36h0M720.98 208.36h0M725.15 208.36h0M729.31 208.36h0M733.47 208.36h0M737.63 208.36h0M741.8 208.36h0M579.44 212.52h0M583.6 212.52h0M587.77 212.52h0M591.93 212.52h0M596.09 212.52h0M600.26 212.52h0M608.58 212.52h0M612.74 212.52h0M621.07 212.52h0M625.23 212.52h0M633.56 212.52h0M637.72 212.52h0M646.05 212.52h0M650.21 212.52h0M658.54 212.52h0M662.7 212.52h0M671.03 212.52h0M675.19 212.52h0M683.52 212.52h0M687.68 212.52h0M696 212.52h0M700.17 212.52h0M708.49 212.52h0M712.66 212.52h0M720.98 212.52h0M725.15 212.52h0M729.31 212.52h0M733.47 212.52h0M737.63 212.52h0M741.8 212.52h0M579.44 216.69h0M583.6 216.69h0M587.77 216.69h0M591.93 216.69h0M596.09 216.69h0M600.26 216.69h0M604.42 216.69h0M608.58 216.69h0M612.74 216.69h0M616.91 216.69h0M621.07 216.69h0M625.23 216.69h0M629.4 216.69h0M633.56 216.69h0M637.72 216.69h0M641.89 216.69h0M646.05 216.69h0M650.21 216.69h0M654.37 216.69h0M658.54 216.69h0M662.7 216.69h0M666.86 216.69h0M671.03 216.69h0M675.19 216.69h0M679.35 216.69h0M683.52 216.69h0M687.68 216.69h0M691.84 216.69h0M696 216.69h0M700.17 216.69h0M704.33 216.69h0M708.49 216.69h0M712.66 216.69h0M716.82 216.69h0M720.98 216.69h0M725.15 216.69h0M729.31 216.69h0M733.47 216.69h0M737.63 216.69h0M741.8 216.69h0M579.44 220.85h0M583.6 220.85h0M587.77 220.85h0M591.93 220.85h0M596.09 220.85h0M600.26 220.85h0M608.58 220.85h0M612.74 220.85h0M621.07 220.85h0M625.23 220.85h0M633.56 220.85h0M637.72 220.85h0M646.05 220.85h0M650.21 220.85h0M658.54 220.85h0M662.7 220.85h0M671.03 220.85h0M675.19 220.85h0M683.52 220.85h0M687.68 220.85h0M696 220.85h0M700.17 220.85h0M708.49 220.85h0M712.66 220.85h0M720.98 220.85h0M725.15 220.85h0M729.31 220.85h0M733.47 220.85h0M737.63 220.85h0M741.8 220.85h0M579.44 225.01h0M583.6 225.01h0M587.77 225.01h0M591.93 225.01h0M596.09 225.01h0M600.26 225.01h0M608.58 225.01h0M612.74 225.01h0M616.91 225.01h0M621.07 225.01h0M625.23 225.01h0M629.4 225.01h0M633.56 225.01h0M637.72 225.01h0M641.89 225.01h0M646.05 225.01h0M650.21 225.01h0M654.37 225.01h0M658.54 225.01h0M662.7 225.01h0M666.86 225.01h0M671.03 225.01h0M675.19 225.01h0M679.35 225.01h0M683.52 225.01h0M687.68 225.01h0M691.84 225.01h0M696 225.01h0M700.17 225.01h0M704.33 225.01h0M708.49 225.01h0M712.66 225.01h0M720.98 225.01h0M725.15 225.01h0M729.31 225.01h0M733.47 225.01h0M737.63 225.01h0M741.8 225.01h0M579.44 229.17h0M583.6 229.17h0M587.77 229.17h0M591.93 229.17h0M596.09 229.17h0M600.26 229.17h0M608.58 229.17h0M612.74 229.17h0M621.07 229.17h0M625.23 229.17h0M633.56 229.17h0M637.72 229.17h0M646.05 229.17h0M650.21 229.17h0M658.54 229.17h0M662.7 229.17h0M671.03 229.17h0M675.19 229.17h0M683.52 229.17h0M687.68 229.17h0M696 229.17h0M700.17 229.17h0M708.49 229.17h0M712.66 229.17h0M720.98 229.17h0M725.15 229.17h0M729.31 229.17h0M733.47 229.17h0M737.63 229.17h0M741.8 229.17h0M579.44 233.34h0M583.6 233.34h0M587.77 233.34h0M591.93 233.34h0M596.09 233.34h0M600.26 233.34h0M608.58 233.34h0M612.74 233.34h0M616.91 233.34h0M621.07 233.34h0M625.23 233.34h0M629.4 233.34h0M633.56 233.34h0M637.72 233.34h0M641.89 233.34h0M646.05 233.34h0M650.21 233.34h0M654.37 233.34h0M658.54 233.34h0M662.7 233.34h0M666.86 233.34h0M671.03 233.34h0M675.19 233.34h0M679.35 233.34h0M683.52 233.34h0M687.68 233.34h0M691.84 233.34h0M696 233.34h0M700.17 233.34h0M704.33 233.34h0M708.49 233.34h0M712.66 233.34h0M720.98 233.34h0M725.15 233.34h0M729.31 233.34h0M733.47 233.34h0M737.63 233.34h0M741.8 233.34h0M579.44 237.5h0M583.6 237.5h0M587.77 237.5h0M591.93 237.5h0M596.09 237.5h0M600.26 237.5h0M604.42 237.5h0M608.58 237.5h0M612.74 237.5h0M616.91 237.5h0M704.33 237.5h0M708.49 237.5h0M712.66 237.5h0M716.82 237.5h0M720.98 237.5h0M725.15 237.5h0M729.31 237.5h0M733.47 237.5h0M737.63 237.5h0M741.8 237.5h0M579.44 241.66h0M583.6 241.66h0M587.77 241.66h0M591.93 241.66h0M596.09 241.66h0M600.26 241.66h0M604.42 241.66h0M608.58 241.66h0M612.74 241.66h0M616.91 241.66h0M625.23 241.66h0M629.4 241.66h0M633.56 241.66h0M637.72 241.66h0M641.89 241.66h0M646.05 241.66h0M650.21 241.66h0M654.37 241.66h0M658.54 241.66h0M662.7 241.66h0M666.86 241.66h0M671.03 241.66h0M675.19 241.66h0M679.35 241.66h0M683.52 241.66h0M687.68 241.66h0M691.84 241.66h0M696 241.66h0M704.33 241.66h0M708.49 241.66h0M712.66 241.66h0M716.82 241.66h0M720.98 241.66h0M725.15 241.66h0M729.31 241.66h0M733.47 241.66h0M737.63 241.66h0M741.8 241.66h0M579.44 245.83h0M583.6 245.83h0M591.93 245.83h0M600.26 245.83h0M608.58 245.83h0M616.91 245.83h0M625.23 245.83h0M629.4 245.83h0M633.56 245.83h0M637.72 245.83h0M641.89 245.83h0M646.05 245.83h0M650.21 245.83h0M654.37 245.83h0M658.54 245.83h0M662.7 245.83h0M666.86 245.83h0M671.03 245.83h0M675.19 245.83h0M679.35 245.83h0M683.52 245.83h0M687.68 245.83h0M691.84 245.83h0M696 245.83h0M704.33 245.83h0M712.66 245.83h0M720.98 245.83h0M729.31 245.83h0M737.63 245.83h0M741.8 245.83h0M579.44 249.99h0M583.6 249.99h0M587.77 249.99h0M591.93 249.99h0M596.09 249.99h0M600.26 249.99h0M604.42 249.99h0M608.58 249.99h0M612.74 249.99h0M616.91 249.99h0M625.23 249.99h0M629.4 249.99h0M633.56 249.99h0M637.72 249.99h0M641.89 249.99h0M646.05 249.99h0M650.21 249.99h0M654.37 249.99h0M658.54 249.99h0M662.7 249.99h0M666.86 249.99h0M671.03 249.99h0M675.19 249.99h0M679.35 249.99h0M683.52 249.99h0M687.68 249.99h0M691.84 249.99h0M696 249.99h0M704.33 249.99h0M708.49 249.99h0M712.66 249.99h0M716.82 249.99h0M720.98 249.99h0M725.15 249.99h0M729.31 249.99h0M733.47 249.99h0M737.63 249.99h0M741.8 249.99h0M579.44 254.15h0M583.6 254.15h0M587.77 254.15h0M591.93 254.15h0M596.09 254.15h0M600.26 254.15h0M604.42 254.15h0M608.58 254.15h0M612.74 254.15h0M616.91 254.15h0M625.23 254.15h0M629.4 254.15h0M633.56 254.15h0M637.72 254.15h0M641.89 254.15h0M646.05 254.15h0M650.21 254.15h0M654.37 254.15h0M658.54 254.15h0M662.7 254.15h0M666.86 254.15h0M671.03 254.15h0M675.19 254.15h0M679.35 254.15h0M683.52 254.15h0M687.68 254.15h0M691.84 254.15h0M696 254.15h0M704.33 254.15h0M708.49 254.15h0M712.66 254.15h0M716.82 254.15h0M720.98 254.15h0M725.15 254.15h0M729.31 254.15h0M733.47 254.15h0M737.63 254.15h0M741.8 254.15h0M579.44 258.31h0M583.6 258.31h0M591.93 258.31h0M600.26 258.31h0M608.58 258.31h0M616.91 258.31h0M625.23 258.31h0M629.4 258.31h0M633.56 258.31h0M637.72 258.31h0M641.89 258.31h0M646.05 258.31h0M650.21 258.31h0M654.37 258.31h0M658.54 258.31h0M662.7 258.31h0M666.86 258.31h0M671.03 258.31h0M675.19 258.31h0M679.35 258.31h0M683.52 258.31h0M687.68 258.31h0M691.84 258.31h0M696 258.31h0M704.33 258.31h0M712.66 258.31h0M720.98 258.31h0M729.31 258.31h0M737.63 258.31h0M741.8 258.31h0M579.44 262.48h0M583.6 262.48h0M587.77 262.48h0M591.93 262.48h0M596.09 262.48h0M600.26 262.48h0M604.42 262.48h0M608.58 262.48h0M612.74 262.48h0M616.91 262.48h0M625.23 262.48h0M629.4 262.48h0M633.56 262.48h0M637.72 262.48h0M641.89 262.48h0M646.05 262.48h0M650.21 262.48h0M654.37 262.48h0M658.54 262.48h0M662.7 262.48h0M666.86 262.48h0M671.03 262.48h0M675.19 262.48h0M679.35 262.48h0M683.52 262.48h0M687.68 262.48h0M691.84 262.48h0M696 262.48h0M704.33 262.48h0M708.49 262.48h0M712.66 262.48h0M716.82 262.48h0M720.98 262.48h0M725.15 262.48h0M729.31 262.48h0M733.47 262.48h0M737.63 262.48h0M741.8 262.48h0M579.44 266.64h0M583.6 266.64h0M587.77 266.64h0M591.93 266.64h0M596.09 266.64h0M600.26 266.64h0M604.42 266.64h0M608.58 266.64h0M612.74 266.64h0M616.91 266.64h0M625.23 266.64h0M629.4 266.64h0M633.56 266.64h0M637.72 266.64h0M641.89 266.64h0M646.05 266.64h0M650.21 266.64h0M654.37 266.64h0M658.54 266.64h0M662.7 266.64h0M666.86 266.64h0M671.03 266.64h0M675.19 266.64h0M679.35 266.64h0M683.52 266.64h0M687.68 266.64h0M691.84 266.64h0M696 266.64h0M704.33 266.64h0M708.49 266.64h0M712.66 266.64h0M716.82 266.64h0M720.98 266.64h0M725.15 266.64h0M729.31 266.64h0M733.47 266.64h0M737.63 266.64h0M741.8 266.64h0M583.6 270.8h0M591.93 270.8h0M600.26 270.8h0M608.58 270.8h0M616.91 270.8h0M625.23 270.8h0M629.4 270.8h0M633.56 270.8h0M637.72 270.8h0M641.89 270.8h0M646.05 270.8h0M650.21 270.8h0M654.37 270.8h0M658.54 270.8h0M662.7 270.8h0M666.86 270.8h0M671.03 270.8h0M675.19 270.8h0M679.35 270.8h0M683.52 270.8h0M687.68 270.8h0M691.84 270.8h0M696 270.8h0M704.33 270.8h0M712.66 270.8h0M720.98 270.8h0M729.31 270.8h0M737.63 270.8h0M579.44 274.97h0M583.6 274.97h0M587.77 274.97h0M591.93 274.97h0M596.09 274.97h0M600.26 274.97h0M604.42 274.97h0M608.58 274.97h0M612.74 274.97h0M616.91 274.97h0M625.23 274.97h0M629.4 274.97h0M633.56 274.97h0M637.72 274.97h0M641.89 274.97h0M646.05 274.97h0M650.21 274.97h0M654.37 274.97h0M658.54 274.97h0M662.7 274.97h0M666.86 274.97h0M671.03 274.97h0M675.19 274.97h0M679.35 274.97h0M683.52 274.97h0M687.68 274.97h0M691.84 274.97h0M696 274.97h0M704.33 274.97h0M708.49 274.97h0M712.66 274.97h0M716.82 274.97h0M720.98 274.97h0M725.15 274.97h0M729.31 274.97h0M733.47 274.97h0M737.63 274.97h0M741.8 274.97h0M579.44 279.13h0M583.6 279.13h0M587.77 279.13h0M591.93 279.13h0M596.09 279.13h0M600.26 279.13h0M604.42 279.13h0M608.58 279.13h0M612.74 279.13h0M616.91 279.13h0M625.23 279.13h0M629.4 279.13h0M633.56 279.13h0M637.72 279.13h0M641.89 279.13h0M646.05 279.13h0M650.21 279.13h0M654.37 279.13h0M658.54 279.13h0M662.7 279.13h0M666.86 279.13h0M671.03 279.13h0M675.19 279.13h0M679.35 279.13h0M683.52 279.13h0M687.68 279.13h0M691.84 279.13h0M696 279.13h0M704.33 279.13h0M708.49 279.13h0M712.66 279.13h0M716.82 279.13h0M720.98 279.13h0M725.15 279.13h0M729.31 279.13h0M733.47 279.13h0M737.63 279.13h0M741.8 279.13h0M583.6 283.29h0M591.93 283.29h0M600.26 283.29h0M608.58 283.29h0M616.91 283.29h0M625.23 283.29h0M629.4 283.29h0M633.56 283.29h0M637.72 283.29h0M641.89 283.29h0M646.05 283.29h0M650.21 283.29h0M654.37 283.29h0M658.54 283.29h0M662.7 283.29h0M666.86 283.29h0M671.03 283.29h0M675.19 283.29h0M679.35 283.29h0M683.52 283.29h0M687.68 283.29h0M691.84 283.29h0M696 283.29h0M704.33 283.29h0M712.66 283.29h0M720.98 283.29h0M729.31 283.29h0M737.63 283.29h0M579.44 287.46h0M583.6 287.46h0M587.77 287.46h0M591.93 287.46h0M596.09 287.46h0M600.26 287.46h0M604.42 287.46h0M608.58 287.46h0M612.74 287.46h0M616.91 287.46h0M625.23 287.46h0M629.4 287.46h0M633.56 287.46h0M637.72 287.46h0M641.89 287.46h0M646.05 287.46h0M650.21 287.46h0M654.37 287.46h0M658.54 287.46h0M662.7 287.46h0M666.86 287.46h0M671.03 287.46h0M675.19 287.46h0M679.35 287.46h0M683.52 287.46h0M687.68 287.46h0M691.84 287.46h0M696 287.46h0M704.33 287.46h0M708.49 287.46h0M712.66 287.46h0M716.82 287.46h0M720.98 287.46h0M725.15 287.46h0M729.31 287.46h0M733.47 287.46h0M737.63 287.46h0M741.8 287.46h0M579.44 291.62h0M583.6 291.62h0M587.77 291.62h0M591.93 291.62h0M596.09 291.62h0M600.26 291.62h0M604.42 291.62h0M608.58 291.62h0M612.74 291.62h0M616.91 291.62h0M625.23 291.62h0M629.4 291.62h0M633.56 291.62h0M637.72 291.62h0M641.89 291.62h0M646.05 291.62h0M650.21 291.62h0M654.37 291.62h0M658.54 291.62h0M662.7 291.62h0M666.86 291.62h0M671.03 291.62h0M675.19 291.62h0M679.35 291.62h0M683.52 291.62h0M687.68 291.62h0M691.84 291.62h0M696 291.62h0M704.33 291.62h0M708.49 291.62h0M712.66 291.62h0M716.82 291.62h0M720.98 291.62h0M725.15 291.62h0M729.31 291.62h0M733.47 291.62h0M737.63 291.62h0M741.8 291.62h0M583.6 295.78h0M591.93 295.78h0M600.26 295.78h0M608.58 295.78h0M616.91 295.78h0M625.23 295.78h0M629.4 295.78h0M633.56 295.78h0M637.72 295.78h0M641.89 295.78h0M646.05 295.78h0M650.21 295.78h0M654.37 295.78h0M658.54 295.78h0M662.7 295.78h0M666.86 295.78h0M671.03 295.78h0M675.19 295.78h0M679.35 295.78h0M683.52 295.78h0M687.68 295.78h0M691.84 295.78h0M696 295.78h0M704.33 295.78h0M712.66 295.78h0M720.98 295.78h0M729.31 295.78h0M737.63 295.78h0M579.44 299.94h0M583.6 299.94h0M587.77 299.94h0M591.93 299.94h0M596.09 299.94h0M600.26 299.94h0M604.42 299.94h0M608.58 299.94h0M612.74 299.94h0M616.91 299.94h0M625.23 299.94h0M629.4 299.94h0M633.56 299.94h0M637.72 299.94h0M641.89 299.94h0M646.05 299.94h0M650.21 299.94h0M654.37 299.94h0M658.54 299.94h0M662.7 299.94h0M666.86 299.94h0M671.03 299.94h0M675.19 299.94h0M679.35 299.94h0M683.52 299.94h0M687.68 299.94h0M691.84 299.94h0M696 299.94h0M704.33 299.94h0M708.49 299.94h0M712.66 299.94h0M716.82 299.94h0M720.98 299.94h0M725.15 299.94h0M729.31 299.94h0M733.47 299.94h0M737.63 299.94h0M741.8 299.94h0M579.44 304.11h0M583.6 304.11h0M587.77 304.11h0M591.93 304.11h0M596.09 304.11h0M600.26 304.11h0M604.42 304.11h0M608.58 304.11h0M612.74 304.11h0M616.91 304.11h0M625.23 304.11h0M629.4 304.11h0M633.56 304.11h0M637.72 304.11h0M641.89 304.11h0M646.05 304.11h0M650.21 304.11h0M654.37 304.11h0M658.54 304.11h0M662.7 304.11h0M666.86 304.11h0M671.03 304.11h0M675.19 304.11h0M679.35 304.11h0M683.52 304.11h0M687.68 304.11h0M691.84 304.11h0M696 304.11h0M704.33 304.11h0M708.49 304.11h0M712.66 304.11h0M716.82 304.11h0M720.98 304.11h0M725.15 304.11h0M729.31 304.11h0M733.47 304.11h0M737.63 304.11h0M741.8 304.11h0M583.6 308.27h0M591.93 308.27h0M600.26 308.27h0M608.58 308.27h0M616.91 308.27h0M625.23 308.27h0M629.4 308.27h0M633.56 308.27h0M637.72 308.27h0M641.89 308.27h0M646.05 308.27h0M650.21 308.27h0M654.37 308.27h0M658.54 308.27h0M662.7 308.27h0M666.86 308.27h0M671.03 308.27h0M675.19 308.27h0M679.35 308.27h0M683.52 308.27h0M687.68 308.27h0M691.84 308.27h0M696 308.27h0M704.33 308.27h0M712.66 308.27h0M720.98 308.27h0M729.31 308.27h0M737.63 308.27h0M579.44 312.43h0M583.6 312.43h0M587.77 312.43h0M591.93 312.43h0M596.09 312.43h0M600.26 312.43h0M604.42 312.43h0M608.58 312.43h0M612.74 312.43h0M616.91 312.43h0M625.23 312.43h0M629.4 312.43h0M633.56 312.43h0M637.72 312.43h0M641.89 312.43h0M646.05 312.43h0M650.21 312.43h0M654.37 312.43h0M658.54 312.43h0M662.7 312.43h0M666.86 312.43h0M671.03 312.43h0M675.19 312.43h0M679.35 312.43h0M683.52 312.43h0M687.68 312.43h0M691.84 312.43h0M696 312.43h0M704.33 312.43h0M708.49 312.43h0M712.66 312.43h0M716.82 312.43h0M720.98 312.43h0M725.15 312.43h0M729.31 312.43h0M733.47 312.43h0M737.63 312.43h0M741.8 312.43h0M579.44 316.6h0M583.6 316.6h0M587.77 316.6h0M591.93 316.6h0M596.09 316.6h0M600.26 316.6h0M604.42 316.6h0M608.58 316.6h0M612.74 316.6h0M616.91 316.6h0M704.33 316.6h0M708.49 316.6h0M712.66 316.6h0M716.82 316.6h0M720.98 316.6h0M725.15 316.6h0M729.31 316.6h0M733.47 316.6h0M737.63 316.6h0M741.8 316.6h0M579.44 320.76h0M583.6 320.76h0M587.77 320.76h0M591.93 320.76h0M596.09 320.76h0M600.26 320.76h0M608.58 320.76h0M612.74 320.76h0M616.91 320.76h0M621.07 320.76h0M625.23 320.76h0M629.4 320.76h0M633.56 320.76h0M637.72 320.76h0M641.89 320.76h0M646.05 320.76h0M650.21 320.76h0M654.37 320.76h0M658.54 320.76h0M662.7 320.76h0M666.86 320.76h0M671.03 320.76h0M675.19 320.76h0M679.35 320.76h0M683.52 320.76h0M687.68 320.76h0M691.84 320.76h0M696 320.76h0M700.17 320.76h0M704.33 320.76h0M708.49 320.76h0M712.66 320.76h0M720.98 320.76h0M725.15 320.76h0M729.31 320.76h0M733.47 320.76h0M737.63 320.76h0M741.8 320.76h0M579.44 324.92h0M583.6 324.92h0M587.77 324.92h0M591.93 324.92h0M596.09 324.92h0M600.26 324.92h0M608.58 324.92h0M612.74 324.92h0M621.07 324.92h0M625.23 324.92h0M633.56 324.92h0M637.72 324.92h0M646.05 324.92h0M650.21 324.92h0M658.54 324.92h0M662.7 324.92h0M671.03 324.92h0M675.19 324.92h0M683.52 324.92h0M687.68 324.92h0M696 324.92h0M700.17 324.92h0M708.49 324.92h0M712.66 324.92h0M720.98 324.92h0M725.15 324.92h0M729.31 324.92h0M733.47 324.92h0M737.63 324.92h0M741.8 324.92h0M579.44 329.09h0M583.6 329.09h0M587.77 329.09h0M591.93 329.09h0M596.09 329.09h0M600.26 329.09h0M608.58 329.09h0M612.74 329.09h0M616.91 329.09h0M621.07 329.09h0M625.23 329.09h0M629.4 329.09h0M633.56 329.09h0M637.72 329.09h0M641.89 329.09h0M646.05 329.09h0M650.21 329.09h0M654.37 329.09h0M658.54 329.09h0M662.7 329.09h0M666.86 329.09h0M671.03 329.09h0M675.19 329.09h0M679.35 329.09h0M683.52 329.09h0M687.68 329.09h0M691.84 329.09h0M696 329.09h0M700.17 329.09h0M704.33 329.09h0M708.49 329.09h0M712.66 329.09h0M720.98 329.09h0M725.15 329.09h0M729.31 329.09h0M733.47 329.09h0M737.63 329.09h0M741.8 329.09h0M579.44 333.25h0M583.6 333.25h0M587.77 333.25h0M591.93 333.25h0M596.09 333.25h0M600.26 333.25h0M608.58 333.25h0M612.74 333.25h0M621.07 333.25h0M625.23 333.25h0M633.56 333.25h0M637.72 333.25h0M646.05 333.25h0M650.21 333.25h0M658.54 333.25h0M662.7 333.25h0M671.03 333.25h0M675.19 333.25h0M683.52 333.25h0M687.68 333.25h0M696 333.25h0M700.17 333.25h0M708.49 333.25h0M712.66 333.25h0M720.98 333.25h0M725.15 333.25h0M729.31 333.25h0M733.47 333.25h0M737.63 333.25h0M741.8 333.25h0M579.44 337.41h0M583.6 337.41h0M587.77 337.41h0M591.93 337.41h0M596.09 337.41h0M600.26 337.41h0M604.42 337.41h0M608.58 337.41h0M612.74 337.41h0M616.91 337.41h0M621.07 337.41h0M625.23 337.41h0M629.4 337.41h0M633.56 337.41h0M637.72 337.41h0M641.89 337.41h0M646.05 337.41h0M650.21 337.41h0M654.37 337.41h0M658.54 337.41h0M662.7 337.41h0M666.86 337.41h0M671.03 337.41h0M675.19 337.41h0M679.35 337.41h0M683.52 337.41h0M687.68 337.41h0M691.84 337.41h0M696 337.41h0M700.17 337.41h0M704.33 337.41h0M708.49 337.41h0M712.66 337.41h0M716.82 337.41h0M720.98 337.41h0M725.15 337.41h0M729.31 337.41h0M733.47 337.41h0M737.63 337.41h0M741.8 337.41h0M579.44 341.58h0M583.6 341.58h0M587.77 341.58h0M591.93 341.58h0M596.09 341.58h0M600.26 341.58h0M608.58 341.58h0M612.74 341.58h0M621.07 341.58h0M625.23 341.58h0M633.56 341.58h0M637.72 341.58h0M646.05 341.58h0M650.21 341.58h0M658.54 341.58h0M662.7 341.58h0M671.03 341.58h0M675.19 341.58h0M683.52 341.58h0M687.68 341.58h0M696 341.58h0M700.17 341.58h0M708.49 341.58h0M712.66 341.58h0M720.98 341.58h0M725.15 341.58h0M729.31 341.58h0M733.47 341.58h0M737.63 341.58h0M741.8 341.58h0M579.44 345.74h0M583.6 345.74h0M587.77 345.74h0M591.93 345.74h0M596.09 345.74h0M600.26 345.74h0M604.42 345.74h0M608.58 345.74h0M612.74 345.74h0M616.91 345.74h0M621.07 345.74h0M625.23 345.74h0M629.4 345.74h0M633.56 345.74h0M637.72 345.74h0M641.89 345.74h0M646.05 345.74h0M650.21 345.74h0M654.37 345.74h0M658.54 345.74h0M662.7 345.74h0M666.86 345.74h0M671.03 345.74h0M675.19 345.74h0M679.35 345.74h0M683.52 345.74h0M687.68 345.74h0M691.84 345.74h0M696 345.74h0M700.17 345.74h0M704.33 345.74h0M708.49 345.74h0M712.66 345.74h0M716.82 345.74h0M720.98 345.74h0M725.15 345.74h0M729.31 345.74h0M733.47 345.74h0M737.63 345.74h0M741.8 345.74h0M579.44 349.9h0M583.6 349.9h0M587.77 349.9h0M596.09 349.9h0M600.26 349.9h0M608.58 349.9h0M612.74 349.9h0M621.07 349.9h0M625.23 349.9h0M633.56 349.9h0M637.72 349.9h0M646.05 349.9h0M650.21 349.9h0M658.54 349.9h0M662.7 349.9h0M671.03 349.9h0M675.19 349.9h0M683.52 349.9h0M687.68 349.9h0M696 349.9h0M700.17 349.9h0M708.49 349.9h0M712.66 349.9h0M720.98 349.9h0M725.15 349.9h0M733.47 349.9h0M737.63 349.9h0M741.8 349.9h0M579.44 354.06h0M583.6 354.06h0M587.77 354.06h0M591.93 354.06h0M596.09 354.06h0M600.26 354.06h0M604.42 354.06h0M608.58 354.06h0M612.74 354.06h0M616.91 354.06h0M621.07 354.06h0M625.23 354.06h0M629.4 354.06h0M633.56 354.06h0M637.72 354.06h0M641.89 354.06h0M646.05 354.06h0M650.21 354.06h0M654.37 354.06h0M658.54 354.06h0M662.7 354.06h0M666.86 354.06h0M671.03 354.06h0M675.19 354.06h0M679.35 354.06h0M683.52 354.06h0M687.68 354.06h0M691.84 354.06h0M696 354.06h0M700.17 354.06h0M704.33 354.06h0M708.49 354.06h0M712.66 354.06h0M716.82 354.06h0M720.98 354.06h0M725.15 354.06h0M729.31 354.06h0M733.47 354.06h0M737.63 354.06h0M741.8 354.06h0M583.6 358.23h0M587.77 358.23h0M591.93 358.23h0M596.09 358.23h0M600.26 358.23h0M604.42 358.23h0M608.58 358.23h0M612.74 358.23h0M616.91 358.23h0M621.07 358.23h0M625.23 358.23h0M629.4 358.23h0M633.56 358.23h0M637.72 358.23h0M641.89 358.23h0M646.05 358.23h0M650.21 358.23h0M658.54 358.23h0M662.7 358.23h0M671.03 358.23h0M675.19 358.23h0M683.52 358.23h0M687.68 358.23h0M696 358.23h0M700.17 358.23h0M708.49 358.23h0M712.66 358.23h0M720.98 358.23h0M725.15 358.23h0M733.47 358.23h0M737.63 358.23h0" fill="none" stroke="#000" stroke-width="3.1" stroke-linecap="round"/>
<path d="M577.5 368.25H742.5" fill="none" stroke="#000" stroke-width="1.6" stroke-dasharray="2.6 1.55"/>
<path d="M823 273H1119.5V421.25H823ZM475.7 117.7H488.9V134.2H475.7ZM1176 382v14M1178.5 382v14M1181.5 384v12M800.5 574.5H826V600H800.5ZM214.35 606.35H241.4V633.9H214.35ZM1702 276.5V283.5M1702 326.9V333.9M1702 391.5V398.5M1702 440.8V447.8M1516 673v15.5" fill="none" stroke="#000" stroke-width="1.6"/>
<path d="M823 303V273H853M823 391.25V421.25H853M1119.5 303V273H1089.5M1119.5 391.25V421.25H1089.5" fill="none" stroke="#000" stroke-width="2.2"/>
<path d="M828 276.6h0M833.2 276.6h0M838.4 276.6h0M843.6 276.6h0M848.8 276.6h0M854 276.6h0M859.2 276.6h0M864.4 276.6h0M869.6 276.6h0M874.8 276.6h0M880 276.6h0M885.2 276.6h0M890.4 276.6h0M895.6 276.6h0M900.8 276.6h0M911.2 276.6h0M916.4 276.6h0M921.6 276.6h0M926.8 276.6h0M932 276.6h0M942.4 276.6h0M952.8 276.6h0M958 276.6h0M968.4 276.6h0M973.6 276.6h0M978.8 276.6h0M984 276.6h0M989.2 276.6h0M994.4 276.6h0M999.6 276.6h0M1004.8 276.6h0M1010 276.6h0M1015.2 276.6h0M1020.4 276.6h0M1025.6 276.6h0M1030.8 276.6h0M1036 276.6h0M1041.2 276.6h0M1046.4 276.6h0M1051.6 276.6h0M1056.8 276.6h0M1062 276.6h0M1067.2 276.6h0M1072.4 276.6h0M1077.6 276.6h0M1082.8 276.6h0M1093.2 276.6h0M1098.4 276.6h0M1103.6 276.6h0M1108.8 276.6h0M1114 276.6h0M830.6 279.9h0M835.8 279.9h0M841 279.9h0M846.2 279.9h0M851.4 279.9h0M856.6 279.9h0M861.8 279.9h0M867 279.9h0M872.2 279.9h0M877.4 279.9h0M882.6 279.9h0M893 279.9h0M898.2 279.9h0M903.4 279.9h0M908.6 279.9h0M913.8 279.9h0M919 279.9h0M924.2 279.9h0M929.4 279.9h0M934.6 279.9h0M939.8 279.9h0M945 279.9h0M950.2 279.9h0M955.4 279.9h0M960.6 279.9h0M965.8 279.9h0M971 279.9h0M976.2 279.9h0M981.4 279.9h0M986.6 279.9h0M991.8 279.9h0M997 279.9h0M1002.2 279.9h0M1007.4 279.9h0M1012.6 279.9h0M1017.8 279.9h0M1023 279.9h0M1028.2 279.9h0M1033.4 279.9h0M1038.6 279.9h0M1043.8 279.9h0M1049 279.9h0M1054.2 279.9h0M1059.4 279.9h0M1064.6 279.9h0M1069.8 279.9h0M1075 279.9h0M1080.2 279.9h0M1085.4 279.9h0M1090.6 279.9h0M1095.8 279.9h0M1101 279.9h0M1106.2 279.9h0M1111.4 279.9h0M828 283.2h0M833.2 283.2h0M838.4 283.2h0M843.6 283.2h0M848.8 283.2h0M854 283.2h0M859.2 283.2h0M864.4 283.2h0M869.6 283.2h0M880 283.2h0M885.2 283.2h0M890.4 283.2h0M895.6 283.2h0M900.8 283.2h0M906 283.2h0M911.2 283.2h0M916.4 283.2h0M921.6 283.2h0M926.8 283.2h0M932 283.2h0M937.2 283.2h0M942.4 283.2h0M947.6 283.2h0M952.8 283.2h0M958 283.2h0M963.2 283.2h0M973.6 283.2h0M978.8 283.2h0M984 283.2h0M989.2 283.2h0M994.4 283.2h0M999.6 283.2h0M1004.8 283.2h0M1010 283.2h0M1015.2 283.2h0M1020.4 283.2h0M1025.6 283.2h0M1030.8 283.2h0M1036 283.2h0M1041.2 283.2h0M1056.8 283.2h0M1062 283.2h0M1067.2 283.2h0M1077.6 283.2h0M1082.8 283.2h0M1088 283.2h0M1093.2 283.2h0M1098.4 283.2h0M1103.6 283.2h0M1108.8 283.2h0M1114 283.2h0M829.5 286.5h0M834.7 286.5h0M839.9 286.5h0M845.1 286.5h0M850.3 286.5h0M855.5 286.5h0M860.7 286.5h0M865.9 286.5h0M871.1 286.5h0M876.3 286.5h0M881.5 286.5h0M886.7 286.5h0M891.9 286.5h0M897.1 286.5h0M902.3 286.5h0M907.5 286.5h0M912.7 286.5h0M923.1 286.5h0M928.3 286.5h0M933.5 286.5h0M938.7 286.5h0M943.9 286.5h0M949.1 286.5h0M954.3 286.5h0M959.5 286.5h0M964.7 286.5h0M975.1 286.5h0M985.5 286.5h0M990.7 286.5h0M995.9 286.5h0M1001.1 286.5h0M1006.3 286.5h0M1011.5 286.5h0M1016.7 286.5h0M1021.9 286.5h0M1032.3 286.5h0M1037.5 286.5h0M1042.7 286.5h0M832.1 289.83h0M837.3 289.83h0M842.5 289.83h0M847.7 289.83h0M852.9 289.83h0M858.1 289.83h0M863.3 289.83h0M868.5 289.83h0M873.7 289.83h0M878.9 289.83h0M884.1 289.83h0M889.3 289.83h0M894.5 289.83h0M899.7 289.83h0M904.9 289.83h0M910.1 289.83h0M915.3 289.83h0M920.5 289.83h0M925.7 289.83h0M930.9 289.83h0M936.1 289.83h0M941.3 289.83h0M946.5 289.83h0M951.7 289.83h0M956.9 289.83h0M962.1 289.83h0M967.3 289.83h0M972.5 289.83h0M977.7 289.83h0M982.9 289.83h0M988.1 289.83h0M993.3 289.83h0M998.5 289.83h0M1014.1 289.83h0M1024.5 289.83h0M1029.7 289.83h0M1034.9 289.83h0M1040.1 289.83h0M834.7 293.16h0M839.9 293.16h0M850.3 293.16h0M855.5 293.16h0M860.7 293.16h0M871.1 293.16h0M876.3 293.16h0M881.5 293.16h0M886.7 293.16h0M891.9 293.16h0M897.1 293.16h0M902.3 293.16h0M907.5 293.16h0M912.7 293.16h0M917.9 293.16h0M928.3 293.16h0M933.5 293.16h0M938.7 293.16h0M943.9 293.16h0M949.1 293.16h0M954.3 293.16h0M959.5 293.16h0M964.7 293.16h0M969.9 293.16h0M975.1 293.16h0M980.3 293.16h0M985.5 293.16h0M995.9 293.16h0M1001.1 293.16h0M1011.5 293.16h0M1016.7 293.16h0M1021.9 293.16h0M1027.1 293.16h0M1032.3 293.16h0M1037.5 293.16h0M1042.7 293.16h0M832.1 296.49h0M837.3 296.49h0M842.5 296.49h0M847.7 296.49h0M852.9 296.49h0M858.1 296.49h0M863.3 296.49h0M868.5 296.49h0M873.7 296.49h0M878.9 296.49h0M884.1 296.49h0M889.3 296.49h0M894.5 296.49h0M899.7 296.49h0M904.9 296.49h0M910.1 296.49h0M915.3 296.49h0M920.5 296.49h0M930.9 296.49h0M936.1 296.49h0M941.3 296.49h0M946.5 296.49h0M956.9 296.49h0M967.3 296.49h0M972.5 296.49h0M977.7 296.49h0M982.9 296.49h0M988.1 296.49h0M993.3 296.49h0M998.5 296.49h0M1003.7 296.49h0M1008.9 296.49h0M1014.1 296.49h0M1019.3 296.49h0M1024.5 296.49h0M1029.7 296.49h0M1040.1 296.49h0M829.5 299.82h0M834.7 299.82h0M839.9 299.82h0M845.1 299.82h0M850.3 299.82h0M855.5 299.82h0M860.7 299.82h0M865.9 299.82h0M871.1 299.82h0M876.3 299.82h0M881.5 299.82h0M886.7 299.82h0M891.9 299.82h0M897.1 299.82h0M902.3 299.82h0M907.5 299.82h0M912.7 299.82h0M917.9 299.82h0M923.1 299.82h0M928.3 299.82h0M938.7 299.82h0M943.9 299.82h0M949.1 299.82h0M954.3 299.82h0M959.5 299.82h0M964.7 299.82h0M969.9 299.82h0M980.3 299.82h0M985.5 299.82h0M990.7 299.82h0M995.9 299.82h0M1001.1 299.82h0M1006.3 299.82h0M1016.7 299.82h0M1021.9 299.82h0M1027.1 299.82h0M1032.3 299.82h0M1037.5 299.82h0M1042.7 299.82h0M832.1 303.15h0M837.3 303.15h0M847.7 303.15h0M858.1 303.15h0M863.3 303.15h0M868.5 303.15h0M873.7 303.15h0M878.9 303.15h0M884.1 303.15h0M894.5 303.15h0M904.9 303.15h0M910.1 303.15h0M915.3 303.15h0M920.5 303.15h0M925.7 303.15h0M930.9 303.15h0M936.1 303.15h0M941.3 303.15h0M946.5 303.15h0M951.7 303.15h0M956.9 303.15h0M962.1 303.15h0M967.3 303.15h0M972.5 303.15h0M977.7 303.15h0M982.9 303.15h0M988.1 303.15h0M993.3 303.15h0M998.5 303.15h0M1003.7 303.15h0M1008.9 303.15h0M1014.1 303.15h0M1019.3 303.15h0M1024.5 303.15h0M1029.7 303.15h0M1034.9 303.15h0M1040.1 303.15h0M829.5 306.48h0M834.7 306.48h0M839.9 306.48h0M850.3 306.48h0M855.5 306.48h0M860.7 306.48h0M871.1 306.48h0M876.3 306.48h0M886.7 306.48h0M891.9 306.48h0M897.1 306.48h0M902.3 306.48h0M912.7 306.48h0M917.9 306.48h0M923.1 306.48h0M928.3 306.48h0M933.5 306.48h0M954.3 306.48h0M959.5 306.48h0M964.7 306.48h0M969.9 306.48h0M975.1 306.48h0M980.3 306.48h0M985.5 306.48h0M990.7 306.48h0M995.9 306.48h0M1011.5 306.48h0M1016.7 306.48h0M1021.9 306.48h0M1027.1 306.48h0M1032.3 306.48h0M1037.5 306.48h0M1042.7 306.48h0M832.1 309.81h0M842.5 309.81h0M847.7 309.81h0M852.9 309.81h0M858.1 309.81h0M863.3 309.81h0M868.5 309.81h0M873.7 309.81h0M878.9 309.81h0M884.1 309.81h0M894.5 309.81h0M899.7 309.81h0M904.9 309.81h0M910.1 309.81h0M915.3 309.81h0M920.5 309.81h0M925.7 309.81h0M930.9 309.81h0M936.1 309.81h0M941.3 309.81h0M946.5 309.81h0M951.7 309.81h0M956.9 309.81h0M962.1 309.81h0M967.3 309.81h0M972.5 309.81h0M977.7 309.81h0M982.9 309.81h0M988.1 309.81h0M993.3 309.81h0M998.5 309.81h0M1003.7 309.81h0M1008.9 309.81h0M1019.3 309.81h0M1024.5 309.81h0M1034.9 309.81h0M1040.1 309.81h0M829.5 313.14h0M834.7 313.14h0M839.9 313.14h0M845.1 313.14h0M850.3 313.14h0M855.5 313.14h0M860.7 313.14h0M865.9 313.14h0M871.1 313.14h0M876.3 313.14h0M881.5 313.14h0M886.7 313.14h0M891.9 313.14h0M897.1 313.14h0M907.5 313.14h0M912.7 313.14h0M917.9 313.14h0M923.1 313.14h0M933.5 313.14h0M938.7 313.14h0M949.1 313.14h0M954.3 313.14h0M959.5 313.14h0M964.7 313.14h0M969.9 313.14h0M975.1 313.14h0M980.3 313.14h0M985.5 313.14h0M990.7 313.14h0M1001.1 313.14h0M1006.3 313.14h0M1016.7 313.14h0M1021.9 313.14h0M1027.1 313.14h0M1032.3 313.14h0M1037.5 313.14h0M1042.7 313.14h0M837.3 316.47h0M842.5 316.47h0M847.7 316.47h0M852.9 316.47h0M858.1 316.47h0M863.3 316.47h0M868.5 316.47h0M873.7 316.47h0M878.9 316.47h0M884.1 316.47h0M889.3 316.47h0M899.7 316.47h0M910.1 316.47h0M915.3 316.47h0M920.5 316.47h0M925.7 316.47h0M930.9 316.47h0M941.3 316.47h0M946.5 316.47h0M956.9 316.47h0M962.1 316.47h0M967.3 316.47h0M972.5 316.47h0M977.7 316.47h0M982.9 316.47h0M988.1 316.47h0M993.3 316.47h0M998.5 316.47h0M1003.7 316.47h0M1008.9 316.47h0M1014.1 316.47h0M1024.5 316.47h0M1029.7 316.47h0M1034.9 316.47h0M829.5 319.8h0M839.9 319.8h0M845.1 319.8h0M850.3 319.8h0M855.5 319.8h0M860.7 319.8h0M865.9 319.8h0M871.1 319.8h0M876.3 319.8h0M881.5 319.8h0M886.7 319.8h0M891.9 319.8h0M897.1 319.8h0M907.5 319.8h0M912.7 319.8h0M917.9 319.8h0M923.1 319.8h0M928.3 319.8h0M933.5 319.8h0M938.7 319.8h0M943.9 319.8h0M949.1 319.8h0M954.3 319.8h0M959.5 319.8h0M964.7 319.8h0M969.9 319.8h0M975.1 319.8h0M980.3 319.8h0M995.9 319.8h0M1001.1 319.8h0M1006.3 319.8h0M1016.7 319.8h0M1032.3 319.8h0M1037.5 319.8h0M1042.7 319.8h0M1046 286.5h0M1051.2 286.5h0M1056.4 286.5h0M1061.6 286.5h0M1066.8 286.5h0M1072 286.5h0M1082.4 286.5h0M1087.6 286.5h0M1092.8 286.5h0M1098 286.5h0M1103.2 286.5h0M1108.4 286.5h0M1113.6 286.5h0M1048.6 289.8h0M1053.8 289.8h0M1059 289.8h0M1064.2 289.8h0M1069.4 289.8h0M1074.6 289.8h0M1079.8 289.8h0M1085 289.8h0M1090.2 289.8h0M1095.4 289.8h0M1105.8 289.8h0M1046.7 292.9h0M1046.7 296.15h0M1046.7 299.4h0M1046.7 302.65h0M1046.7 305.9h0M1046.7 309.15h0M1046.7 312.4h0M1046.7 315.65h0M1046.7 318.9h0M1046.7 322.15h0M1046.7 325.4h0M1051.5 292.9h0M1051.5 296.15h0M1051.5 299.4h0M1051.5 302.65h0M1051.5 305.9h0M1051.5 309.15h0M1051.5 312.4h0M1051.5 315.65h0M1051.5 318.9h0M1051.5 322.15h0M1051.5 325.4h0M1056.5 292.9h0M1056.5 296.15h0M1056.5 299.4h0M1056.5 302.65h0M1056.5 305.9h0M1056.5 309.15h0M1056.5 312.4h0M1056.5 315.65h0M1056.5 318.9h0M1056.5 322.15h0M1056.5 325.4h0M1061.5 292.9h0M1061.5 296.15h0M1061.5 299.4h0M1061.5 302.65h0M1061.5 305.9h0M1061.5 309.15h0M1061.5 312.4h0M1061.5 315.65h0M1061.5 318.9h0M1061.5 322.15h0M1061.5 325.4h0M1066.5 292.9h0M1066.5 296.15h0M1066.5 299.4h0M1066.5 305.9h0M1066.5 309.15h0M1066.5 312.4h0M1066.5 315.65h0M1066.5 318.9h0M1066.5 322.15h0M1066.5 325.4h0M1072.6 294.4h0M1076.45 294.4h0M1080.3 294.4h0M1084.15 294.4h0M1088 294.4h0M1091.85 294.4h0M1095.7 294.4h0M1099.55 294.4h0M1103.4 294.4h0M1072.6 300.2h0M1076.45 300.2h0M1080.3 300.2h0M1084.15 300.2h0M1088 300.2h0M1091.85 300.2h0M1095.7 300.2h0M1099.55 300.2h0M1103.4 300.2h0M1072.6 305.8h0M1076.45 305.8h0M1080.3 305.8h0M1084.15 305.8h0M1088 305.8h0M1091.85 305.8h0M1095.7 305.8h0M1099.55 305.8h0M1103.4 305.8h0M1072.6 311.7h0M1076.45 311.7h0M1080.3 311.7h0M1084.15 311.7h0M1088 311.7h0M1091.85 311.7h0M1095.7 311.7h0M1099.55 311.7h0M1103.4 311.7h0M1072.6 317.7h0M1076.45 317.7h0M1080.3 317.7h0M1084.15 317.7h0M1088 317.7h0M1091.85 317.7h0M1095.7 317.7h0M1099.55 317.7h0M1103.4 317.7h0M1072.6 324h0M1076.45 324h0M1080.3 324h0M1084.15 324h0M1088 324h0M1091.85 324h0M1095.7 324h0M1099.55 324h0M1103.4 324h0M1109.8 292h0M1114.1 292h0M1107.65 295.1h0M1105.5 298.2h0M1109.8 298.2h0M1114.1 298.2h0M1107.65 301.3h0M1111.95 301.3h0M1116.25 301.3h0M1105.5 304.4h0M1109.8 304.4h0M1114.1 304.4h0M1107.65 307.5h0M1111.95 307.5h0M1116.25 307.5h0M1105.5 310.6h0M1109.8 310.6h0M1114.1 310.6h0M1107.65 313.7h0M1111.95 313.7h0M1116.25 313.7h0M1105.5 316.8h0M1109.8 316.8h0M1114.1 316.8h0M1107.65 319.9h0M1116.25 319.9h0M1105.5 323h0M1109.8 323h0M1114.1 323h0M1107.65 326.1h0M1111.95 326.1h0M1116.25 326.1h0M1105.5 329.2h0M1109.8 329.2h0M1107.65 332.3h0M1111.95 332.3h0M1116.25 332.3h0M1105.5 335.4h0M1109.8 335.4h0M1114.1 335.4h0M1107.65 338.5h0M1111.95 338.5h0M1116.25 338.5h0M1105.5 341.6h0M1109.8 341.6h0M1114.1 341.6h0M1107.65 344.7h0M1111.95 344.7h0M1116.25 344.7h0M1105.5 347.8h0M1109.8 347.8h0M1107.65 350.9h0M1111.95 350.9h0M1116.25 350.9h0M1109.8 354h0M1114.1 354h0M1111.95 357.1h0M1116.25 357.1h0M1105.5 360.2h0M1109.8 360.2h0M1114.1 360.2h0M1107.65 363.3h0M1111.95 363.3h0M1116.25 363.3h0M1105.5 366.4h0M1114.1 366.4h0M1107.65 369.5h0M1111.95 369.5h0M1116.25 369.5h0M1105.5 372.6h0M1109.8 372.6h0M1114.1 372.6h0M1107.65 375.7h0M1116.25 375.7h0M1105.5 378.8h0M1109.8 378.8h0M1114.1 378.8h0M1107.65 381.9h0M1116.25 381.9h0M1105.5 385h0M1109.8 385h0M1114.1 385h0M1107.65 388.1h0M1116.25 388.1h0M1105.5 391.2h0M1109.8 391.2h0M1114.1 391.2h0M1107.65 394.3h0M1116.25 394.3h0M1105.5 397.4h0M1109.8 397.4h0M1114.1 397.4h0M1107.65 400.5h0M1111.95 400.5h0M1116.25 400.5h0M1105.5 403.6h0M1109.8 403.6h0M1114.1 403.6h0M1107.65 406.7h0M1111.95 406.7h0M1116.25 406.7h0M1105.5 409.8h0M1109.8 409.8h0M1114.1 409.8h0M1107.65 412.9h0M1111.95 412.9h0M1116.25 412.9h0M1105.5 416h0M830.45 322.5h0M834.1 322.5h0M837.75 322.5h0M841.4 322.5h0M845.05 322.5h0M826.8 326.42h0M834.1 326.42h0M837.75 326.42h0M841.4 326.42h0M845.05 326.42h0M830.45 330.34h0M834.1 330.34h0M837.75 330.34h0M841.4 330.34h0M845.05 330.34h0M826.8 334.26h0M830.45 334.26h0M834.1 334.26h0M837.75 334.26h0M845.05 334.26h0M826.8 338.18h0M830.45 338.18h0M834.1 338.18h0M837.75 338.18h0M841.4 338.18h0M826.8 342.1h0M830.45 342.1h0M834.1 342.1h0M837.75 342.1h0M841.4 342.1h0M845.05 342.1h0M826.8 346.02h0M830.45 346.02h0M834.1 346.02h0M837.75 346.02h0M841.4 346.02h0M845.05 346.02h0M826.8 349.94h0M830.45 349.94h0M834.1 349.94h0M837.75 349.94h0M841.4 349.94h0M845.05 349.94h0M826.8 353.86h0M830.45 353.86h0M834.1 353.86h0M837.75 353.86h0M841.4 353.86h0M845.05 353.86h0M826.8 357.78h0M834.1 357.78h0M837.75 357.78h0M841.4 357.78h0M845.05 357.78h0M826.8 361.7h0M830.45 361.7h0M834.1 361.7h0M837.75 361.7h0M841.4 361.7h0M845.05 361.7h0M826.8 365.62h0M830.45 365.62h0M834.1 365.62h0M837.75 365.62h0M841.4 365.62h0M845.05 365.62h0M826.8 369.54h0M830.45 369.54h0M834.1 369.54h0M837.75 369.54h0M841.4 369.54h0M845.05 369.54h0M826.8 373.46h0M830.45 373.46h0M834.1 373.46h0M837.75 373.46h0M841.4 373.46h0M845.05 373.46h0M834.1 377.38h0M837.75 377.38h0M841.4 377.38h0M845.05 377.38h0M826.8 381.3h0M830.45 381.3h0M834.1 381.3h0M837.75 381.3h0M841.4 381.3h0M845.05 381.3h0M830.45 385.22h0M834.1 385.22h0M837.75 385.22h0M841.4 385.22h0M845.05 385.22h0M826.8 389.14h0M830.45 389.14h0M834.1 389.14h0M837.75 389.14h0M841.4 389.14h0M845.05 389.14h0M853.5 326h0M853.5 329.3h0M850.2 332.6h0M853.5 332.6h0M853.5 335.9h0M850.2 339.2h0M853.5 339.2h0M853.5 342.5h0M850.2 345.8h0M853.5 345.8h0M853.5 349.1h0M850.2 352.4h0M853.5 352.4h0M853.5 355.7h0M850.2 359h0M853.5 359h0M853.5 362.3h0M850.2 365.6h0M853.5 365.6h0M853.5 368.9h0M850.2 372.2h0M853.5 372.2h0M853.5 375.5h0M850.2 378.8h0M853.5 378.8h0M853.5 382.1h0M850.2 385.4h0M853.5 385.4h0M853.5 388.7h0M850.2 392h0M853.5 392h0M859.5 332.6h0M863.53 332.6h0M867.56 332.6h0M871.59 332.6h0M875.62 332.6h0M879.65 332.6h0M883.68 332.6h0M887.71 332.6h0M891.74 332.6h0M895.77 332.6h0M899.8 332.6h0M903.83 332.6h0M857 336.9h0M861.1 336.9h0M865.2 336.9h0M869.3 336.9h0M873.4 336.9h0M877.5 336.9h0M881.6 336.9h0M886 338.5h0M890.3 338.5h0M894.6 338.5h0M898.9 338.5h0M903.2 338.5h0M907.5 338.5h0M859.5 344.4h0M863.53 344.4h0M867.56 344.4h0M871.59 344.4h0M875.62 344.4h0M879.65 344.4h0M883.68 344.4h0M887.71 344.4h0M891.74 344.4h0M895.77 344.4h0M899.8 344.4h0M903.83 344.4h0M857 348.7h0M861.1 348.7h0M865.2 348.7h0M869.3 348.7h0M873.4 348.7h0M877.5 348.7h0M881.6 348.7h0M886 350.3h0M890.3 350.3h0M894.6 350.3h0M898.9 350.3h0M903.2 350.3h0M907.5 350.3h0M859.5 356.2h0M863.53 356.2h0M867.56 356.2h0M871.59 356.2h0M875.62 356.2h0M879.65 356.2h0M883.68 356.2h0M887.71 356.2h0M891.74 356.2h0M895.77 356.2h0M899.8 356.2h0M903.83 356.2h0M857 360.5h0M861.1 360.5h0M865.2 360.5h0M869.3 360.5h0M873.4 360.5h0M877.5 360.5h0M881.6 360.5h0M886 362.1h0M890.3 362.1h0M894.6 362.1h0M898.9 362.1h0M903.2 362.1h0M907.5 362.1h0M859.5 368h0M863.53 368h0M867.56 368h0M871.59 368h0M875.62 368h0M879.65 368h0M883.68 368h0M887.71 368h0M891.74 368h0M895.77 368h0M899.8 368h0M903.83 368h0M857 372.3h0M861.1 372.3h0M865.2 372.3h0M869.3 372.3h0M873.4 372.3h0M877.5 372.3h0M881.6 372.3h0M886 373.9h0M890.3 373.9h0M894.6 373.9h0M898.9 373.9h0M903.2 373.9h0M907.5 373.9h0M859.5 379.8h0M863.53 379.8h0M867.56 379.8h0M871.59 379.8h0M875.62 379.8h0M879.65 379.8h0M883.68 379.8h0M887.71 379.8h0M891.74 379.8h0M895.77 379.8h0M899.8 379.8h0M903.83 379.8h0M857 384.1h0M861.1 384.1h0M865.2 384.1h0M869.3 384.1h0M873.4 384.1h0M877.5 384.1h0M881.6 384.1h0M886 385.7h0M890.3 385.7h0M894.6 385.7h0M898.9 385.7h0M903.2 385.7h0M907.5 385.7h0M859.5 391.6h0M863.53 391.6h0M867.56 391.6h0M871.59 391.6h0M875.62 391.6h0M879.65 391.6h0M883.68 391.6h0M887.71 391.6h0M891.74 391.6h0M895.77 391.6h0M899.8 391.6h0M903.83 391.6h0M857 395.9h0M861.1 395.9h0M865.2 395.9h0M869.3 395.9h0M873.4 395.9h0M877.5 395.9h0M881.6 395.9h0M886 397.5h0M890.3 397.5h0M894.6 397.5h0M898.9 397.5h0M903.2 397.5h0M907.5 397.5h0M855 322.5h0M859 322.5h0M863 322.5h0M871 322.5h0M879 322.5h0M883 322.5h0M887 322.5h0M891 322.5h0M903 322.5h0M1059.6 330.2h0M1063.58 330.2h0M1067.56 330.2h0M1071.54 330.2h0M1075.52 330.2h0M1079.5 330.2h0M1083.48 330.2h0M1087.46 330.2h0M1091.44 330.2h0M1095.42 330.2h0M1099.4 330.2h0M1103.38 330.2h0M1059.6 336.1h0M1063.58 336.1h0M1067.56 336.1h0M1071.54 336.1h0M1075.52 336.1h0M1079.5 336.1h0M1083.48 336.1h0M1087.46 336.1h0M1091.44 336.1h0M1095.42 336.1h0M1099.4 336.1h0M1103.38 336.1h0M1059.6 342h0M1063.58 342h0M1067.56 342h0M1071.54 342h0M1075.52 342h0M1079.5 342h0M1083.48 342h0M1087.46 342h0M1091.44 342h0M1095.42 342h0M1099.4 342h0M1103.38 342h0M1059.6 347.9h0M1063.58 347.9h0M1067.56 347.9h0M1071.54 347.9h0M1075.52 347.9h0M1079.5 347.9h0M1083.48 347.9h0M1087.46 347.9h0M1091.44 347.9h0M1095.42 347.9h0M1099.4 347.9h0M1103.38 347.9h0M1059.6 353.8h0M1063.58 353.8h0M1067.56 353.8h0M1071.54 353.8h0M1075.52 353.8h0M1079.5 353.8h0M1083.48 353.8h0M1087.46 353.8h0M1091.44 353.8h0M1095.42 353.8h0M1099.4 353.8h0M1103.38 353.8h0M1059.6 359.7h0M1063.58 359.7h0M1067.56 359.7h0M1071.54 359.7h0M1075.52 359.7h0M1079.5 359.7h0M1083.48 359.7h0M1087.46 359.7h0M1091.44 359.7h0M1095.42 359.7h0M1099.4 359.7h0M1103.38 359.7h0M1059.6 365.6h0M1063.58 365.6h0M1067.56 365.6h0M1071.54 365.6h0M1075.52 365.6h0M1079.5 365.6h0M1083.48 365.6h0M1087.46 365.6h0M1091.44 365.6h0M1095.42 365.6h0M1099.4 365.6h0M1103.38 365.6h0M1059.6 371.5h0M1063.58 371.5h0M1067.56 371.5h0M1071.54 371.5h0M1075.52 371.5h0M1079.5 371.5h0M1083.48 371.5h0M1087.46 371.5h0M1091.44 371.5h0M1095.42 371.5h0M1099.4 371.5h0M1103.38 371.5h0M1059.6 377.4h0M1063.58 377.4h0M1067.56 377.4h0M1071.54 377.4h0M1075.52 377.4h0M1079.5 377.4h0M1083.48 377.4h0M1087.46 377.4h0M1091.44 377.4h0M1095.42 377.4h0M1099.4 377.4h0M1103.38 377.4h0M1064.6 383.3h0M1068.58 383.3h0M1072.56 383.3h0M1076.54 383.3h0M1080.52 383.3h0M1084.5 383.3h0M1088.48 383.3h0M1092.46 383.3h0M1096.44 383.3h0M1100.42 383.3h0M1058.6 333h0M1058.6 338.9h0M1058.6 344.8h0M1058.6 350.7h0M1058.6 356.6h0M1058.6 362.5h0M1058.6 368.4h0M1058.6 374.3h0M1045 324h0M1047.5 327.2h0M1052.5 327.2h0M1057.5 327.2h0M907 388.3h0M912 388.3h0M917 388.3h0M922 388.3h0M927 388.3h0M932 388.3h0M937 388.3h0M942 388.3h0M947 388.3h0M952 388.3h0M957 388.3h0M962 388.3h0M967 388.3h0M972 388.3h0M977 388.3h0M982 388.3h0M987 388.3h0M992 388.3h0M997 388.3h0M1002 388.3h0M1007 388.3h0M1012 388.3h0M1017 388.3h0M1022 388.3h0M1027 388.3h0M1032 388.3h0M1037 388.3h0M1042 388.3h0M1047 388.3h0M1052 388.3h0M1057 388.3h0M1062 388.3h0M1067 388.3h0M1077 388.3h0M1082 388.3h0M1087 388.3h0M1092 388.3h0M1097 388.3h0M1102 388.3h0M909.5 391.7h0M914.5 391.7h0M919.5 391.7h0M924.5 391.7h0M934.5 391.7h0M939.5 391.7h0M944.5 391.7h0M949.5 391.7h0M954.5 391.7h0M959.5 391.7h0M964.5 391.7h0M969.5 391.7h0M974.5 391.7h0M979.5 391.7h0M984.5 391.7h0M989.5 391.7h0M994.5 391.7h0M999.5 391.7h0M1004.5 391.7h0M1009.5 391.7h0M1014.5 391.7h0M1019.5 391.7h0M1024.5 391.7h0M1029.5 391.7h0M1034.5 391.7h0M1039.5 391.7h0M1049.5 391.7h0M1054.5 391.7h0M1059.5 391.7h0M1064.5 391.7h0M1069.5 391.7h0M1074.5 391.7h0M1079.5 391.7h0M1084.5 391.7h0M1089.5 391.7h0M1094.5 391.7h0M899.8 395.3h0M904.8 395.3h0M909.8 395.3h0M914.8 395.3h0M919.8 395.3h0M924.8 395.3h0M929.8 395.3h0M934.8 395.3h0M939.8 395.3h0M944.8 395.3h0M949.8 395.3h0M954.8 395.3h0M959.8 395.3h0M964.8 395.3h0M969.8 395.3h0M974.8 395.3h0M979.8 395.3h0M984.8 395.3h0M989.8 395.3h0M994.8 395.3h0M999.8 395.3h0M1004.8 395.3h0M1009.8 395.3h0M1014.8 395.3h0M1019.8 395.3h0M1024.8 395.3h0M1029.8 395.3h0M1034.8 395.3h0M1039.8 395.3h0M1044.8 395.3h0M1049.8 395.3h0M1054.8 395.3h0M1059.8 395.3h0M1064.8 395.3h0M1069.8 395.3h0M1074.8 395.3h0M1079.8 395.3h0M1084.8 395.3h0M1089.8 395.3h0M1094.8 395.3h0M1099.8 395.3h0M849.5 399h0M854.5 399h0M859.5 399h0M864.5 399h0M869.5 399h0M874.5 399h0M879.5 399h0M884.5 399h0M889.5 399h0M894.5 399h0M899.5 399h0M904.5 399h0M909.5 399h0M914.5 399h0M919.5 399h0M924.5 399h0M929.5 399h0M934.5 399h0M939.5 399h0M944.5 399h0M949.5 399h0M954.5 399h0M959.5 399h0M964.5 399h0M969.5 399h0M974.5 399h0M979.5 399h0M989.5 399h0M994.5 399h0M999.5 399h0M1004.5 399h0M1009.5 399h0M1014.5 399h0M1019.5 399h0M1024.5 399h0M1029.5 399h0M1034.5 399h0M1039.5 399h0M1044.5 399h0M1049.5 399h0M1054.5 399h0M1059.5 399h0M1064.5 399h0M1069.5 399h0M1074.5 399h0M1079.5 399h0M1089.5 399h0M1094.5 399h0M1099.5 399h0M849.5 402.75h0M854.5 402.75h0M859.5 402.75h0M864.5 402.75h0M869.5 402.75h0M874.5 402.75h0M879.5 402.75h0M884.5 402.75h0M889.5 402.75h0M894.5 402.75h0M899.5 402.75h0M904.5 402.75h0M909.5 402.75h0M914.5 402.75h0M919.5 402.75h0M924.5 402.75h0M929.5 402.75h0M934.5 402.75h0M939.5 402.75h0M944.5 402.75h0M954.5 402.75h0M959.5 402.75h0M964.5 402.75h0M969.5 402.75h0M974.5 402.75h0M979.5 402.75h0M984.5 402.75h0M989.5 402.75h0M994.5 402.75h0M999.5 402.75h0M1004.5 402.75h0M1009.5 402.75h0M1014.5 402.75h0M1019.5 402.75h0M1024.5 402.75h0M1029.5 402.75h0M1034.5 402.75h0M1039.5 402.75h0M1044.5 402.75h0M1049.5 402.75h0M1054.5 402.75h0M1059.5 402.75h0M1064.5 402.75h0M1069.5 402.75h0M1074.5 402.75h0M1079.5 402.75h0M1084.5 402.75h0M1089.5 402.75h0M1094.5 402.75h0M1099.5 402.75h0M849.5 406.5h0M854.5 406.5h0M859.5 406.5h0M864.5 406.5h0M874.5 406.5h0M879.5 406.5h0M884.5 406.5h0M889.5 406.5h0M894.5 406.5h0M899.5 406.5h0M904.5 406.5h0M914.5 406.5h0M919.5 406.5h0M929.5 406.5h0M934.5 406.5h0M939.5 406.5h0M944.5 406.5h0M949.5 406.5h0M954.5 406.5h0M959.5 406.5h0M964.5 406.5h0M969.5 406.5h0M974.5 406.5h0M979.5 406.5h0M984.5 406.5h0M989.5 406.5h0M994.5 406.5h0M999.5 406.5h0M1009.5 406.5h0M1014.5 406.5h0M1019.5 406.5h0M1024.5 406.5h0M1029.5 406.5h0M1034.5 406.5h0M1039.5 406.5h0M1044.5 406.5h0M1049.5 406.5h0M1054.5 406.5h0M1059.5 406.5h0M1064.5 406.5h0M1069.5 406.5h0M1074.5 406.5h0M1079.5 406.5h0M1084.5 406.5h0M1089.5 406.5h0M1094.5 406.5h0M1099.5 406.5h0M866 410.8h0M871 410.8h0M881 410.8h0M886 410.8h0M896 410.8h0M901 410.8h0M911 410.8h0M921 410.8h0M931 410.8h0M936 410.8h0M941 410.8h0M951 410.8h0M956 410.8h0M971 410.8h0M976 410.8h0M991 410.8h0M996 410.8h0M1006 410.8h0M1011 410.8h0M1016 410.8h0M1026 410.8h0M1031 410.8h0M1036 410.8h0M1041 410.8h0M1046 410.8h0M1051 410.8h0M1061 410.8h0M1066 410.8h0M1071 410.8h0M1076 410.8h0M1081 410.8h0M1086 410.8h0M1096 410.8h0M1101 410.8h0M830 414.7h0M833.85 414.7h0M837.7 414.7h0M841.55 414.7h0M845.4 414.7h0M849.25 414.7h0M853.1 414.7h0M856.95 414.7h0M860.8 414.7h0M864.65 414.7h0M868.5 414.7h0M872.35 414.7h0M876.2 414.7h0M880.05 414.7h0M883.9 414.7h0M887.75 414.7h0M891.6 414.7h0M895.45 414.7h0M899.3 414.7h0M903.15 414.7h0M907 414.7h0M910.85 414.7h0M914.7 414.7h0M918.55 414.7h0M922.4 414.7h0M926.25 414.7h0M930.1 414.7h0M933.95 414.7h0M937.8 414.7h0M941.65 414.7h0M945.5 414.7h0M949.35 414.7h0M953.2 414.7h0M957.05 414.7h0M960.9 414.7h0M964.75 414.7h0M968.6 414.7h0M972.45 414.7h0M976.3 414.7h0M980.15 414.7h0M984 414.7h0M987.85 414.7h0M991.7 414.7h0M995.55 414.7h0M999.4 414.7h0M1003.25 414.7h0M1007.1 414.7h0M1010.95 414.7h0M1014.8 414.7h0M1018.65 414.7h0M1022.5 414.7h0M1026.35 414.7h0M1030.2 414.7h0M1034.05 414.7h0M1037.9 414.7h0M1041.75 414.7h0M1045.6 414.7h0M1049.45 414.7h0M1053.3 414.7h0M1057.15 414.7h0M1061 414.7h0M1064.85 414.7h0M1068.7 414.7h0M1072.55 414.7h0M1076.4 414.7h0M1080.25 414.7h0M1084.1 414.7h0M1087.95 414.7h0M1091.8 414.7h0M1095.65 414.7h0M1099.5 414.7h0M1107.2 414.7h0M1111.05 414.7h0M1114.9 414.7h0M830 418.5h0M833.85 418.5h0M837.7 418.5h0M841.55 418.5h0M845.4 418.5h0M849.25 418.5h0M853.1 418.5h0M856.95 418.5h0M860.8 418.5h0M864.65 418.5h0M868.5 418.5h0M872.35 418.5h0M876.2 418.5h0M880.05 418.5h0M883.9 418.5h0M887.75 418.5h0M891.6 418.5h0M895.45 418.5h0M899.3 418.5h0M903.15 418.5h0M907 418.5h0M910.85 418.5h0M914.7 418.5h0M918.55 418.5h0M922.4 418.5h0M926.25 418.5h0M930.1 418.5h0M933.95 418.5h0M937.8 418.5h0M941.65 418.5h0M945.5 418.5h0M949.35 418.5h0M953.2 418.5h0M957.05 418.5h0M960.9 418.5h0M964.75 418.5h0M968.6 418.5h0M972.45 418.5h0M976.3 418.5h0M980.15 418.5h0M984 418.5h0M987.85 418.5h0M991.7 418.5h0M995.55 418.5h0M999.4 418.5h0M1003.25 418.5h0M1007.1 418.5h0M1010.95 418.5h0M1014.8 418.5h0M1018.65 418.5h0M1022.5 418.5h0M1026.35 418.5h0M1030.2 418.5h0M1034.05 418.5h0M1037.9 418.5h0M1041.75 418.5h0M1045.6 418.5h0M1049.45 418.5h0M1053.3 418.5h0M1057.15 418.5h0M1061 418.5h0M1064.85 418.5h0M1068.7 418.5h0M1072.55 418.5h0M1076.4 418.5h0M1080.25 418.5h0M1084.1 418.5h0M1087.95 418.5h0M1091.8 418.5h0M1095.65 418.5h0M1099.5 418.5h0M1103.35 418.5h0M1107.2 418.5h0M1111.05 418.5h0M1114.9 418.5h0M826.5 397.5h0M830.7 397.5h0M834.9 397.5h0M839.1 397.5h0M843.3 397.5h0M826.5 401h0M830.7 401h0M834.9 401h0M839.1 401h0M843.3 401h0M826.5 404.5h0M830.7 404.5h0M839.1 404.5h0M843.3 404.5h0M826.5 408h0M830.7 408h0M834.9 408h0M839.1 408h0M843.3 408h0" fill="none" stroke="#000" stroke-width="2.7" stroke-linecap="round"/>
<path d="M493.6 123.4H537.5V149.3H493.6ZM537 122.4H542.7V150.3H537ZM494.5 130.5H500.7V142.7H494.5ZM529.5 130.5H536.5V142.7H529.5ZM762.25 210.5H798V242.5H762.25ZM603.8 404.96H615V420.04H603.8ZM606.4 406.76H612.6V418.24H606.4ZM639.5 404.96H650.7V420.04H639.5ZM642.1 406.76H648.3V418.24H642.1ZM655.05 404.96H666.25V420.04H655.05ZM657.65 406.76H663.85V418.24H657.65ZM690.25 404.96H701.45V420.04H690.25ZM692.85 406.76H699.05V418.24H692.85ZM705.05 404.96H716.25V420.04H705.05ZM707.65 406.76H713.85V418.24H707.65ZM741.5 404.96H752.7V420.04H741.5ZM744.1 406.76H750.3V418.24H744.1ZM549.55 433.56H560.75V448.94H549.55ZM552.15 435.37H558.35V447.13H552.15ZM589 433.56H600.2V448.94H589ZM591.6 435.37H597.8V447.13H591.6ZM603.8 433.56H615V448.94H603.8ZM606.4 435.37H612.6V447.13H606.4ZM639.5 433.56H650.7V448.94H639.5ZM642.1 435.37H648.3V447.13H642.1ZM655.05 433.56H666.25V448.94H655.05ZM657.65 435.37H663.85V447.13H657.65ZM690.25 433.56H701.45V448.94H690.25ZM692.85 435.37H699.05V447.13H692.85ZM705.05 433.56H716.25V448.94H705.05ZM707.65 435.37H713.85V447.13H707.65ZM741.5 433.56H752.7V448.94H741.5ZM744.1 435.37H750.3V447.13H744.1ZM650 398.25H657.5V455H650ZM750.5 398.25H756.25V455H750.5ZM550.2 427H555.8V455.5H550.2ZM489.5 458.75H513.75V503H489.5ZM493.75 458H508.75V469.25H493.75ZM493.75 493.75H508.75V505H493.75ZM729 459.5H746.25V531.25H729ZM1193.25 376h13.75M1193.25 381h13.75M1153 415v8.75M1150.5 419.5h5M913.5 445H918.5V450.8H913.5ZM924.5 445H929.5V450.8H924.5ZM918 458.5H923.5V462.5H918ZM805.05 495.51H816.25V510.74H805.05ZM807.65 497.31H813.85V508.94H807.65ZM841 495.51H852.2V510.74H841ZM843.6 497.31H849.8V508.94H843.6ZM857.55 495.51H868.75V510.74H857.55ZM860.15 497.31H866.35V508.94H860.15ZM892.75 495.51H903.95V510.74H892.75ZM895.35 497.31H901.55V508.94H895.35ZM911.3 495.51H922.5V510.74H911.3ZM913.9 497.31H920.1V508.94H913.9ZM946.5 495.51H957.7V510.74H946.5ZM949.1 497.31H955.3V508.94H949.1ZM962.55 495.51H973.75V510.74H962.55ZM965.15 497.31H971.35V508.94H965.15ZM997.75 495.51H1008.95V510.74H997.75ZM1000.35 497.31H1006.55V508.94H1000.35ZM1016.3 495.51H1027.5V510.74H1016.3ZM1018.9 497.31H1025.1V508.94H1018.9ZM1051.5 495.51H1062.7V510.74H1051.5ZM1054.1 497.31H1060.3V508.94H1054.1ZM1067.05 495.51H1078.25V510.74H1067.05ZM1069.65 497.31H1075.85V508.94H1069.65ZM1102.25 495.51H1113.45V510.74H1102.25ZM1104.85 497.31H1111.05V508.94H1104.85ZM1118.8 495.51H1130V510.74H1118.8ZM1121.4 497.31H1127.6V508.94H1121.4ZM1152.25 495.51H1163.45V510.74H1152.25ZM1154.85 497.31H1161.05V508.94H1154.85ZM850 488.75H855.5V517.5H850ZM902.5 488.75H908V517.5H902.5ZM908.5 488.75H914.25V517.5H908.5ZM1007.5 488.75H1012.5V517.5H1007.5ZM1013 488.75H1018V517.5H1013ZM1111.25 488.75H1114.8V517.5H1111.25ZM1115.2 488.75H1118.75V517.5H1115.2ZM798 575.5H801.5V579.1H798ZM830 575.5H835V579.1H830ZM798 582.8H801.5V586.4H798ZM830 582.8H835V586.4H830ZM798 590.2H801.5V593.8H798ZM830 590.2H835V593.8H830ZM798 597.5H801.5V601.1H798ZM830 597.5H835V601.1H830ZM842 602H845.5V606H842ZM849.5 602H853V606H849.5ZM857 602H860.5V606H857ZM864 602H867.5V606H864ZM1083 578H1096V603H1083ZM1077.5 578H1079.5V603H1100M1131.25 578H1144.25V603H1131.25ZM1125.75 578H1127.75V603H1148.25M329 596.8H373.5V726.25H329ZM360.3 596.8H377.3V604H360.3ZM360.3 718.75H377.3V726.25H360.3ZM171.5 611.25H175.5V616.25H171.5ZM176.7 611.25H180.7V616.25H176.7ZM182 611.25H186V616.25H182ZM172.5 626.25H176.1V631.25H172.5ZM181.5 626.25H185.1V631.25H181.5ZM176.25 597H181V602.5H176.25ZM188 592H193.5V596.5H188ZM188 603.5H193.5V608.5H188ZM217 658H224V675.75H217ZM197.5 686.5H203V690.5H197.5ZM197.5 697H203V701H197.5ZM212.5 686.5H217.5V690.5H212.5ZM212.5 691.7H217.5V695.7H212.5ZM212.5 697H217.5V701H212.5ZM260 708h9.5M274.5 704v9M272.5 708.5h4M88 719.5H93.4V727.5H88ZM95.4 719.5H100.8V727.5H95.4ZM102.8 719.5H108.2V727.5H102.8ZM110.2 719.5H115.6V727.5H110.2ZM117.6 719.5H123V727.5H117.6ZM125 719.5H130.4V727.5H125ZM132.4 719.5H137.8V727.5H132.4ZM139.8 719.5H145.2V727.5H139.8ZM52.5 693.75H71.25V730H52.5ZM496.5 560.8L503.3 561.5L497.2 568.3ZM476.25 646.5H480V650.3H476.25ZM476.25 653.6H480V657.4H476.25ZM476.25 660.8H480V664.6H476.25ZM476.25 668H480V671.8H476.25ZM444.5 679.5H449V683.3H444.5ZM444.5 686.7H449V690.5H444.5ZM444.5 693.9H449V697.7H444.5ZM444.5 701H449V704.8H444.5ZM520.3 582.3H530.5V592.2H520.3ZM594 582.8H604.2V592.7H594ZM644.5 601.25H662.5V626.25H644.5ZM643 597.5H648V605.5H643ZM656.5 597.5H661.5V605.5H656.5ZM643 621.5H648V629.5H643ZM656.5 621.5H661.5V629.5H656.5ZM685 558.75H724.5V598.25H685ZM686 578.5a18.75 18.75 0 1 1 37.5 0a18.75 18.75 0 1 1 -37.5 0ZM586.25 727.5V637.5H622V727.5M586.25 727.5H622M885.5 648.8L895.5 648.8L890.5 653.8ZM932 622H949.5V648.25H932ZM952 622H969.5V648.25H952ZM978 625.5H1017.5V665H978ZM979 645.25a18.75 18.75 0 1 1 37.5 0a18.75 18.75 0 1 1 -37.5 0ZM1021.25 625.5H1061.25V665H1021.25ZM1022.5 645.25a18.75 18.75 0 1 1 37.5 0a18.75 18.75 0 1 1 -37.5 0ZM1085 651.4H1094.5V655.6H1085ZM1125.75 651.4H1135.25V655.6H1125.75ZM1085 659.32H1094.5V663.52H1085ZM1125.75 659.32H1135.25V663.52H1125.75ZM1085 667.23H1094.5V671.43H1085ZM1125.75 667.23H1135.25V671.43H1125.75ZM1085 675.15H1094.5V679.35H1085ZM1125.75 675.15H1135.25V679.35H1125.75ZM1048.75 685.65H1058.25V689.85H1048.75ZM1089.5 685.65H1099V689.85H1089.5ZM1048.75 693.4H1058.25V697.6H1048.75ZM1089.5 693.4H1099V697.6H1089.5ZM1048.75 701.15H1058.25V705.35H1048.75ZM1089.5 701.15H1099V705.35H1089.5ZM1048.75 708.9H1058.25V713.1H1048.75ZM1089.5 708.9H1099V713.1H1089.5ZM1171.3 596.25V727M1644.65 124.95H1648.95a4.75 4.75 0 0 1 0 9.5H1644.65a4.75 4.75 0 0 1 0 -9.5ZM1716.6 124.7H1725.4a2.5 2.5 0 0 1 0 5H1716.6a2.5 2.5 0 0 1 0 -5ZM1658 135.2H1681.3V223.8H1658ZM1680.6 138V220.6M1678.2 136L1680.6 138.4M1678.2 222.6L1680.6 220.2M1668.15 134.3H1673.25a2.2 2.2 0 0 1 0 4.4H1668.15a2.2 2.2 0 0 1 0 -4.4ZM1668.15 220.3H1673.25a2.2 2.2 0 0 1 0 4.4H1668.15a2.2 2.2 0 0 1 0 -4.4ZM1716.1 228.3H1724.9a2.5 2.5 0 0 1 0 5H1716.1a2.5 2.5 0 0 1 0 -5ZM1648.5 203.5L1654 207.3L1648.5 211ZM1632.3 173.5h4.4M1621.5 234.5H1626V244.5H1621.5ZM1615.3 265.3H1622.9V285H1615.3ZM1671.4 262.3H1678.7V281.6H1671.4ZM1632.5 238.4H1637.5V251H1632.5ZM1640 238.4H1645V251H1640ZM1647.5 238.4H1652.5V251H1647.5ZM1654.5 238.4H1659.5V251H1654.5ZM1728.05 277.7H1735.55a1.9 1.9 0 0 1 0 3.8H1728.05a1.9 1.9 0 0 1 0 -3.8ZM1728.05 328.5H1735.55a1.9 1.9 0 0 1 0 3.8H1728.05a1.9 1.9 0 0 1 0 -3.8ZM1728.05 392.1H1735.55a1.9 1.9 0 0 1 0 3.8H1728.05a1.9 1.9 0 0 1 0 -3.8ZM1728.05 442.9H1735.55a1.9 1.9 0 0 1 0 3.8H1728.05a1.9 1.9 0 0 1 0 -3.8ZM1603.7 482.5H1612.7V486.3H1603.7ZM1644.4 482.5H1653.4V486.3H1644.4ZM1603.7 490.23H1612.7V494.03H1603.7ZM1644.4 490.23H1653.4V494.03H1644.4ZM1603.7 497.97H1612.7V501.77H1603.7ZM1644.4 497.97H1653.4V501.77H1644.4ZM1603.7 505.7H1612.7V509.5H1603.7ZM1644.4 505.7H1653.4V509.5H1644.4ZM1599.05 514H1602.35V526H1599.05ZM1599.05 549.3H1602.35V561.3H1599.05ZM1606.72 514H1610.02V526H1606.72ZM1606.72 549.3H1610.02V561.3H1606.72ZM1614.38 514H1617.68V526H1614.38ZM1614.38 549.3H1617.68V561.3H1614.38ZM1622.05 514H1625.35V526H1622.05ZM1622.05 549.3H1625.35V561.3H1622.05ZM1671 608.5H1678.6V618.4H1671ZM1700.7 608.5H1708.1V618.4H1700.7Z" fill="none" stroke="#000" stroke-width="1.1"/>
<path d="M727.7 466.25V525M399.5 682H422.5" fill="none" stroke="#000" stroke-width="5"/>
<path d="M727.7 467.32V525M400.57 682H422.5" fill="none" stroke="#fff" stroke-width="3.2" stroke-dasharray="0.85 2.15"/>
<path d="M1172.5 287.2V306.3M1173.75 287.2V306.3M1175 287.2V306.3M1176.25 287.2V306.3M414.65 645V662.5M415.9 645V662.5M417.15 645V662.5M418.4 645V662.5M545.9 548.25V565.5M547.15 548.25V565.5M548.4 548.25V565.5M549.65 548.25V565.5" fill="none" stroke="#000" stroke-width="0.75"/>
<path d="M1175.4 451.3V568.3" fill="none" stroke="#000" stroke-width="8.8"/>
<path d="M1175.4 452.38V568.3" fill="none" stroke="#fff" stroke-width="6.6" stroke-dasharray="0.85 2.15"/>
<path d="M329 610V596.8H341M1708.7 278.8V282.8a3.3 3.3 0 0 1 -6.6 0V278.8a3.3 3.3 0 0 1 6.6 0ZM1708.7 329.2V333.2a3.3 3.3 0 0 1 -6.6 0V329.2a3.3 3.3 0 0 1 6.6 0ZM1708.7 393.8V397.8a3.3 3.3 0 0 1 -6.6 0V393.8a3.3 3.3 0 0 1 6.6 0ZM1708.7 443.1V447.1a3.3 3.3 0 0 1 -6.6 0V443.1a3.3 3.3 0 0 1 6.6 0Z" fill="none" stroke="#000" stroke-width="2"/>
<path d="M329 607V640M329 651.75V716.25M1171.25 605.5V619.5M1171.25 632.5V717" fill="none" stroke="#000" stroke-width="10"/>
<path d="M329 608.08V640M329 652.83V716.25M1171.25 606.58V619.5M1171.25 633.58V717" fill="none" stroke="#fff" stroke-width="7.8" stroke-dasharray="0.85 2.15"/>
<path d="M373.9 604.5V640M373.9 653V717.5" fill="none" stroke="#000" stroke-width="9.8"/>
<path d="M373.9 605.58V640M373.9 654.08V717.5" fill="none" stroke="#fff" stroke-width="7.6" stroke-dasharray="0.85 2.15"/>
<path d="M260 700.75H269.5V715.75H260ZM269.5 700.75H279.5V715.75H269.5ZM1531 559.5H1543.5V566H1531ZM1490.8 646.5H1501V656H1490.8ZM1531 654.7H1541.4V664.4H1531ZM1470 672.5H1476.3V684.8H1470ZM1477.3 672.5H1483.6V684.8H1477.3ZM1518.7 692H1530V697.8H1518.7ZM1518.7 699.5H1530V705.5H1518.7Z" fill="none" stroke="#000" stroke-width="1.4"/>
<path d="M489.5 614.5H517V638.75H489.5Z" fill="none" stroke="#000" stroke-width="1.7"/>
<path d="M773.3 658.9H892" fill="none" stroke="#000" stroke-width="5.8"/>
<path d="M774.38 658.9H892" fill="none" stroke="#fff" stroke-width="3.6" stroke-dasharray="0.85 2.15"/>
<path d="M1215.62 607.5V618M1215.62 631.25V716.25" fill="none" stroke="#000" stroke-width="9.75"/>
<path d="M1215.62 608.58V618M1215.62 632.33V716.25" fill="none" stroke="#fff" stroke-width="7.55" stroke-dasharray="0.85 2.15"/>
<path d="M1698.9 275.6H1704.3a4.3 4.3 0 0 1 0 8.6H1698.9a4.3 4.3 0 0 1 0 -8.6ZM1698.9 326H1704.3a4.3 4.3 0 0 1 0 8.6H1698.9a4.3 4.3 0 0 1 0 -8.6ZM1698.9 390.6H1704.3a4.3 4.3 0 0 1 0 8.6H1698.9a4.3 4.3 0 0 1 0 -8.6ZM1698.9 439.9H1704.3a4.3 4.3 0 0 1 0 8.6H1698.9a4.3 4.3 0 0 1 0 -8.6Z" fill="none" stroke="#000" stroke-width="2.1"/>
<path d="M1671 474.5H1679V479.5H1671Z" fill="#fff" stroke="#000" stroke-width="1"/>
<path d="M1672 491.5h2.4m-1.2 -1.2v2.4M1677 491.5h2.4m-1.2 -1.2v2.4" fill="none" stroke="#000" stroke-width="0.7"/>
<path d="M865.8 152H867.6V158H865.8ZM960.65 148.3H962.45V154.3H960.65ZM1055.45 152H1057.25V158H1055.45ZM1150.15 148.3H1151.95V154.3H1150.15Z" fill="#000"/>
<path d="M729 459.5V531.25" fill="none" stroke="#000" stroke-width="1.1"/>
<path d="M1177.5 433.25V586.25" fill="none" stroke="#000" stroke-width="1.2"/>
<path d="M329 607V640M329 651.75V716.25M373.9 604.5V640M373.9 653V717.5M1171.25 605.5V619.5M1171.25 632.5V717M1215.62 607.5V618M1215.62 631.25V716.25" fill="none" stroke="#000" stroke-width="1"/>
<text x="1012.8" y="711.7" font-size="6" font-weight="bold" text-anchor="middle" textLength="12.4" lengthAdjust="spacingAndGlyphs" transform="rotate(-90 1012.8 711.7)" dy="2.2">TH15</text>
<g transform="translate(482.2 425) rotate(43)" fill="none" stroke="#000"><rect x="-24.2" y="-12.5" width="44.4" height="25" stroke-width="1"/><rect x="-27" y="-7.7" width="11.3" height="15.4" stroke-width="1.1"/><rect x="-24.8" y="-5.6" width="7.2" height="11.2" stroke-width="1"/><rect x="9.3" y="-7.7" width="11.2" height="15.4" stroke-width="1.1"/><rect x="11.4" y="-5.6" width="7.2" height="11.2" stroke-width="1"/><rect x="20.2" y="-12.5" width="4" height="25" stroke-width="1"/><path d="M21.8 -9V8" stroke-width="1.4"/><path d="M-2.5 0h5" stroke-width="1.8"/><path d="M-23 10h3M12.5 10.3h3" stroke-width="0.8"/></g>
<g transform="translate(450.2 580.2) rotate(-46.2)" fill="none" stroke="#000"><rect x="-61" y="-13.5" width="122" height="27" stroke-width="1.1"/><path d="M-47 16H47" stroke-width="5"/><path d="M-46.4 16H46.4" stroke="#fff" stroke-width="3.2" stroke-dasharray="0.95 1.25"/><rect x="-58.5" y="-6" width="5" height="10.5" stroke-width="1"/><rect x="53" y="-6" width="5" height="10.5" stroke-width="1"/><path d="M-1.5 0h3" stroke-width="1.6"/></g>
</svg>
</body></html>
